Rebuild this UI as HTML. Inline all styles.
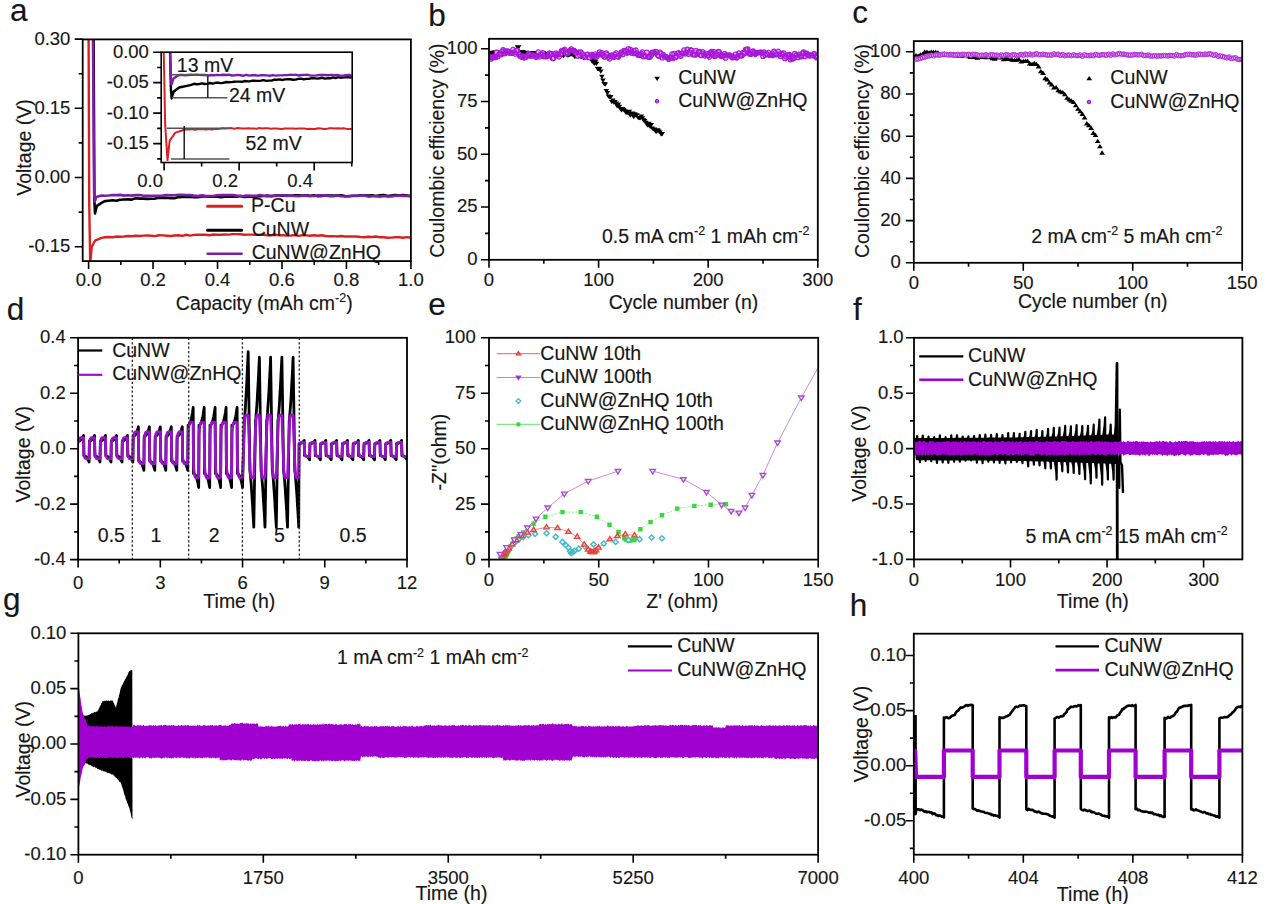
<!DOCTYPE html>
<html><head><meta charset="utf-8"><style>
html,body{margin:0;padding:0;background:#fff;width:1266px;height:904px;overflow:hidden}
svg{display:block}
text{font-family:"Liberation Sans",sans-serif;fill:#161616;stroke:#161616;stroke-width:0.15px}
</style></head><body>
<svg width="1266" height="904" viewBox="0 0 1266 904">
<rect width="1266" height="904" fill="#fff"/>
<text x="10" y="21" font-size="31.5" text-anchor="start">a</text>
<text x="428.2" y="26" font-size="31.5" text-anchor="start">b</text>
<text x="852.2" y="22.5" font-size="31.5" text-anchor="start">c</text>
<text x="6.8" y="320" font-size="31.5" text-anchor="start">d</text>
<text x="428.2" y="314.6" font-size="31.5" text-anchor="start">e</text>
<text x="853" y="319.6" font-size="31.5" text-anchor="start">f</text>
<text x="3" y="610.2" font-size="31.5" text-anchor="start">g</text>
<text x="849.8" y="616" font-size="31.5" text-anchor="start">h</text>
<clipPath id="ca"><rect x="82.7" y="39.4" width="328.2" height="221.7"/></clipPath>
<path d="M88.6,37.4 89.2,200.6 90.2,263.1 91.8,246.7 95.0,240.7 101.5,237.9 104.7,237.3 108.6,237.0 112.5,237.3 116.3,236.5 120.2,236.8 124.1,236.5 128.0,236.0 131.8,236.3 135.7,235.7 139.6,236.0 143.5,235.6 147.3,235.5 151.2,235.8 155.1,236.1 159.0,235.3 162.9,235.4 166.7,235.7 170.6,236.0 174.5,235.5 178.4,235.3 182.2,235.8 186.1,234.8 190.0,235.6 193.9,234.9 197.7,234.7 201.6,234.6 205.5,234.8 209.4,235.2 213.2,234.5 217.1,234.8 221.0,234.8 224.9,234.5 228.7,234.6 232.6,234.1 236.5,234.1 240.4,234.3 244.2,234.8 248.1,234.6 252.0,234.6 255.9,234.9 259.7,234.8 263.6,234.7 267.5,235.3 271.4,235.2 275.2,234.8 279.1,235.2 283.0,235.2 286.9,235.6 290.8,235.5 294.6,235.1 298.5,235.9 302.4,235.1 306.3,235.4 310.1,235.8 314.0,235.3 317.9,235.7 321.8,235.3 325.6,236.0 329.5,236.2 333.4,236.1 337.3,236.5 341.1,236.0 345.0,236.5 348.9,236.5 352.8,236.5 356.6,236.5 360.5,237.0 364.4,237.2 368.3,236.8 372.1,237.0 376.0,236.5 379.9,237.2 383.8,237.3 387.6,237.7 391.5,237.6 395.4,237.2 399.3,237.3 403.1,237.7 407.0,237.1 410.9,237.7" fill="none" stroke="#d82222" stroke-width="2.4" stroke-linejoin="round" clip-path="url(#ca)"/>
<path d="M93.6,37.4 94.4,200.6 95.0,213.5 96.7,206.1 101.5,202.9 104.7,201.1 108.6,200.7 112.5,200.3 116.3,200.8 120.2,199.7 124.1,199.5 128.0,199.4 131.8,199.6 135.7,198.3 139.6,198.6 143.5,198.6 147.3,198.9 151.2,198.7 155.1,198.6 159.0,197.8 162.9,197.9 166.7,197.7 170.6,198.2 174.5,198.2 178.4,197.1 182.2,197.0 186.1,197.0 190.0,196.9 193.9,197.1 197.7,197.1 201.6,196.6 205.5,196.2 209.4,196.7 213.2,196.6 217.1,196.8 221.0,197.2 224.9,196.8 228.7,196.6 232.6,196.7 236.5,196.7 240.4,195.9 244.2,196.9 248.1,196.7 252.0,196.7 255.9,196.6 259.7,196.1 263.6,196.0 267.5,195.6 271.4,196.2 275.2,195.5 279.1,195.5 283.0,195.6 286.9,195.5 290.8,195.7 294.6,195.4 298.5,195.3 302.4,195.5 306.3,195.4 310.1,195.7 314.0,195.3 317.9,196.3 321.8,195.9 325.6,195.4 329.5,195.5 333.4,195.6 337.3,195.6 341.1,195.3 345.0,196.1 348.9,196.3 352.8,195.7 356.6,195.7 360.5,195.2 364.4,195.2 368.3,195.5 372.1,195.3 376.0,196.0 379.9,195.2 383.8,195.0 387.6,196.1 391.5,195.6 395.4,195.1 399.3,195.6 403.1,195.0 407.0,195.5 410.9,196.1" fill="none" stroke="#000" stroke-width="2.6" stroke-linejoin="round" clip-path="url(#ca)"/>
<path d="M93.0,37.4 94.1,191.3 94.7,201.5 96.3,196.9 101.5,195.5 104.7,195.7 108.6,195.5 112.5,195.0 116.3,195.1 120.2,194.9 124.1,195.6 128.0,195.3 131.8,195.6 135.7,195.1 139.6,195.0 143.5,195.7 147.3,195.9 151.2,195.8 155.1,195.7 159.0,195.7 162.9,195.6 166.7,195.0 170.6,195.4 174.5,195.2 178.4,194.8 182.2,194.8 186.1,195.1 190.0,195.1 193.9,195.6 197.7,196.0 201.6,195.4 205.5,195.9 209.4,196.0 213.2,196.0 217.1,195.3 221.0,195.1 224.9,195.1 228.7,195.1 232.6,195.1 236.5,195.6 240.4,196.0 244.2,195.9 248.1,195.5 252.0,195.7 255.9,195.9 259.7,195.0 263.6,195.7 267.5,196.1 271.4,195.9 275.2,195.9 279.1,195.6 283.0,195.2 286.9,196.0 290.8,195.5 294.6,196.0 298.5,196.3 302.4,195.6 306.3,195.6 310.1,196.3 314.0,196.0 317.9,195.4 321.8,195.4 325.6,195.4 329.5,196.3 333.4,196.2 337.3,195.4 341.1,196.3 345.0,196.5 348.9,196.1 352.8,195.8 356.6,196.0 360.5,195.5 364.4,195.4 368.3,196.6 372.1,196.2 376.0,196.1 379.9,196.6 383.8,196.0 387.6,196.5 391.5,196.5 395.4,195.8 399.3,195.8 403.1,195.9 407.0,195.9 410.9,196.3" fill="none" stroke="#7d1fa6" stroke-width="2.6" stroke-linejoin="round" clip-path="url(#ca)"/>
<rect x="161.2" y="52.2" width="191" height="110.3" fill="#fff"/>
<clipPath id="ci"><rect x="161.2" y="52.2" width="191" height="110.3"/></clipPath>
<path d="M163.7,50.2 165.2,125.3 167.5,160.1 169.7,140.6 175.4,132.6 182.9,130.2 186.6,129.3 189.4,129.4 192.2,129.1 195.0,129.8 197.8,129.2 200.6,129.2 203.4,129.3 206.2,129.5 209.0,129.0 211.8,129.4 214.6,128.9 217.4,128.9 220.2,128.8 223.0,128.3 225.8,128.6 228.6,128.3 231.4,128.1 234.2,128.8 237.0,128.1 239.8,128.3 242.6,128.6 245.4,128.4 248.2,128.2 251.0,128.4 253.8,128.5 256.6,128.7 259.4,128.0 262.2,128.5 265.0,128.2 267.8,128.2 270.6,128.7 273.4,128.5 276.2,128.5 279.0,128.7 281.8,128.9 284.6,128.4 287.4,128.6 290.2,128.5 293.0,128.5 295.8,128.7 298.6,128.5 301.4,128.6 304.2,128.5 306.9,129.0 309.7,128.8 312.5,128.9 315.3,129.0 318.1,128.3 320.9,128.6 323.7,129.0 326.5,128.9 329.3,128.2 332.1,128.2 334.9,128.6 337.7,128.2 340.5,128.4 343.3,128.2 346.1,128.8 348.9,128.9 351.7,129.1" fill="none" stroke="#d82222" stroke-width="2.0" stroke-linejoin="round" clip-path="url(#ci)"/>
<path d="M170.1,50.2 170.9,88.8 171.6,98.5 173.5,91.8 179.1,87.5 190.4,85.1 194.1,83.8 196.8,84.3 199.5,84.0 202.1,83.4 204.8,84.0 207.5,83.9 210.1,83.0 212.8,83.6 215.5,82.8 218.2,82.8 220.8,83.1 223.5,82.8 226.2,82.0 228.8,82.2 231.5,82.1 234.2,81.8 236.9,81.6 239.5,81.6 242.2,81.8 244.9,81.0 247.5,81.4 250.2,81.2 252.9,80.6 255.6,80.8 258.2,80.9 260.9,80.7 263.6,80.1 266.2,80.9 268.9,80.6 271.6,80.6 274.3,79.6 276.9,79.7 279.6,79.4 282.3,80.0 284.9,79.4 287.6,79.2 290.3,79.3 293.0,79.7 295.6,79.6 298.3,78.9 301.0,78.7 303.6,79.4 306.3,78.9 309.0,78.9 311.7,78.2 314.3,78.1 317.0,78.6 319.7,78.3 322.3,77.8 325.0,78.6 327.7,78.2 330.4,78.3 333.0,77.4 335.7,78.1 338.4,77.2 341.0,77.9 343.7,77.4 346.4,77.2 349.1,77.3 351.7,77.6" fill="none" stroke="#000" stroke-width="2.4" stroke-linejoin="round" clip-path="url(#ci)"/>
<path d="M169.9,50.2 170.9,79.6 171.6,84.5 173.5,78.4 177.2,76.0 179.1,75.0 182.0,74.9 185.0,75.3 187.9,75.0 190.8,74.8 193.7,74.9 196.7,74.8 199.6,74.9 202.5,75.0 205.4,75.0 208.4,75.5 211.3,75.0 214.2,75.2 217.1,74.9 220.1,75.1 223.0,74.8 225.9,75.0 228.8,74.7 231.8,75.5 234.7,75.3 237.6,74.9 240.5,75.2 243.5,75.7 246.4,74.8 249.3,75.6 252.3,75.2 255.2,75.2 258.1,75.6 261.0,75.1 264.0,75.2 266.9,75.4 269.8,75.7 272.7,75.1 275.7,75.6 278.6,75.4 281.5,75.4 284.4,75.1 287.4,75.1 290.3,74.8 293.2,74.9 296.1,74.8 299.1,75.5 302.0,75.0 304.9,74.9 307.8,74.8 310.8,75.6 313.7,75.6 316.6,75.4 319.5,75.0 322.5,75.0 325.4,75.0 328.3,75.2 331.2,74.9 334.2,75.2 337.1,75.0 340.0,75.7 342.9,75.7 345.9,75.3 348.8,75.0 351.7,75.7" fill="none" stroke="#7d1fa6" stroke-width="2.4" stroke-linejoin="round" clip-path="url(#ci)"/>
<path d="M171 74.8H207M171.9 97.8H227.3M166.7 128.2H229.4M170.9 159H229.4" stroke="#555" stroke-width="1.4"/>
<path d="M207.8 76.2V97.8M184.2 126V159" stroke="#111" stroke-width="1.4"/>
<rect x="161.2" y="52.2" width="191" height="110.3" fill="none" stroke="#000" stroke-width="1.6"/>
<path d="M153.2 52.2H161.2M153.2 82.67H161.2M153.2 113.13H161.2M153.2 143.6H161.2M157.2 67.43H161.2M157.2 97.9H161.2M157.2 128.37H161.2M157.2 158.83H161.2" stroke="#000" stroke-width="1.6" fill="none"/>
<text x="148.9" y="57.6" font-size="18.5" text-anchor="end">0.00</text>
<text x="148.9" y="88.07" font-size="18.5" text-anchor="end">-0.05</text>
<text x="148.9" y="118.53" font-size="18.5" text-anchor="end">-0.10</text>
<text x="148.9" y="149" font-size="18.5" text-anchor="end">-0.15</text>
<path d="M164.1 162.5V170.5M239.15 162.5V170.5M314.2 162.5V170.5M201.62 162.5V166.5M276.67 162.5V166.5M351.73 162.5V166.5" stroke="#000" stroke-width="1.6" fill="none"/>
<text x="150.1" y="187" font-size="18.5" text-anchor="middle">0.0</text>
<text x="225.15" y="187" font-size="18.5" text-anchor="middle">0.2</text>
<text x="300.2" y="187" font-size="18.5" text-anchor="middle">0.4</text>
<text x="176.8" y="72.1" font-size="19.5" text-anchor="start">13 mV</text>
<text x="229" y="101.9" font-size="19.5" text-anchor="start">24 mV</text>
<text x="245.4" y="150.1" font-size="19.5" text-anchor="start">52 mV</text>
<rect x="82.7" y="39.4" width="328.2" height="221.7" fill="none" stroke="#000" stroke-width="1.8"/>
<path d="M74.7 39.1H82.7M74.7 108.3H82.7M74.7 177.5H82.7M74.7 246.7H82.7M78.7 73.7H82.7M78.7 142.9H82.7M78.7 212.1H82.7" stroke="#000" stroke-width="1.6" fill="none"/>
<text x="70.4" y="44.5" font-size="18.5" text-anchor="end">0.30</text>
<text x="70.4" y="113.7" font-size="18.5" text-anchor="end">0.15</text>
<text x="70.4" y="182.9" font-size="18.5" text-anchor="end">0.00</text>
<text x="70.4" y="252.1" font-size="18.5" text-anchor="end">-0.15</text>
<path d="M88.6 261.1V269.1M153.06 261.1V269.1M217.52 261.1V269.1M281.98 261.1V269.1M346.44 261.1V269.1M410.9 261.1V269.1M120.83 261.1V265.1M185.29 261.1V265.1M249.75 261.1V265.1M314.21 261.1V265.1M378.67 261.1V265.1" stroke="#000" stroke-width="1.6" fill="none"/>
<text x="88.6" y="285.9" font-size="18.5" text-anchor="middle">0.0</text>
<text x="153.06" y="285.9" font-size="18.5" text-anchor="middle">0.2</text>
<text x="217.52" y="285.9" font-size="18.5" text-anchor="middle">0.4</text>
<text x="281.98" y="285.9" font-size="18.5" text-anchor="middle">0.6</text>
<text x="346.44" y="285.9" font-size="18.5" text-anchor="middle">0.8</text>
<text x="410.9" y="285.9" font-size="18.5" text-anchor="middle">1.0</text>
<path d="M207.6 206.2H241.6" stroke="#d82222" stroke-width="3" stroke-linecap="round"/>
<path d="M207.6 230.2H241.6" stroke="#000" stroke-width="3" stroke-linecap="round"/>
<path d="M207.6 253.8H241.6" stroke="#7d1fa6" stroke-width="2.6" stroke-linecap="round"/>
<text x="251.1" y="211.6" font-size="19.5" text-anchor="start">P-Cu</text>
<text x="251.7" y="235.6" font-size="19.5" text-anchor="start">CuNW</text>
<text x="251.7" y="259.3" font-size="19.5" text-anchor="start">CuNW@ZnHQ</text>
<text x="175.8" y="310.2" font-size="19.5" text-anchor="start">Capacity (mAh cm<tspan font-size="12.5" dy="-7.8">-2</tspan><tspan dy="7.8">)</tspan></text>
<text transform="translate(31.3 147.5) rotate(-90)" font-size="19.5" text-anchor="middle">Voltage (V)</text>
<clipPath id="cb"><rect x="489" y="38.8" width="328.8" height="221"/></clipPath>
<path d="M487.3 50.9L492.9 50.9L490.1 55.1ZM488.4 50.8L494.0 50.8L491.2 55.0ZM489.5 52.1L495.1 52.1L492.3 56.3ZM490.6 50.7L496.2 50.7L493.4 54.9ZM491.7 50.4L497.3 50.4L494.5 54.6ZM492.8 50.3L498.4 50.3L495.6 54.5ZM493.9 51.5L499.5 51.5L496.7 55.7ZM495.0 50.4L500.6 50.4L497.8 54.6ZM496.1 52.3L501.7 52.3L498.9 56.5ZM497.2 51.4L502.8 51.4L500.0 55.6ZM498.3 52.1L503.9 52.1L501.1 56.3ZM499.4 50.9L505.0 50.9L502.2 55.1ZM500.4 52.3L506.0 52.3L503.2 56.5ZM501.5 52.4L507.1 52.4L504.3 56.6ZM502.6 51.4L508.2 51.4L505.4 55.6ZM503.7 51.7L509.3 51.7L506.5 55.9ZM504.8 50.4L510.4 50.4L507.6 54.6ZM505.9 50.6L511.5 50.6L508.7 54.8ZM507.0 49.8L512.6 49.8L509.8 54.0ZM508.1 50.2L513.7 50.2L510.9 54.4ZM509.2 50.1L514.8 50.1L512.0 54.3ZM510.3 49.5L515.9 49.5L513.1 53.7ZM511.4 51.5L517.0 51.5L514.2 55.7ZM512.5 51.8L518.1 51.8L515.3 56.0ZM513.6 49.3L519.2 49.3L516.4 53.5ZM514.7 45.3L520.3 45.3L517.5 49.5ZM515.8 45.3L521.4 45.3L518.6 49.5ZM516.9 50.9L522.5 50.9L519.7 55.1ZM518.0 53.2L523.6 53.2L520.8 57.4ZM519.1 50.3L524.7 50.3L521.9 54.5ZM520.2 50.1L525.8 50.1L523.0 54.3ZM521.3 51.2L526.9 51.2L524.1 55.4ZM522.4 50.9L528.0 50.9L525.2 55.1ZM523.5 50.7L529.1 50.7L526.3 54.9ZM524.6 53.3L530.2 53.3L527.4 57.5ZM525.7 51.9L531.3 51.9L528.5 56.1ZM526.8 52.1L532.4 52.1L529.6 56.3ZM527.8 50.9L533.4 50.9L530.6 55.1ZM528.9 51.1L534.5 51.1L531.7 55.3ZM530.0 51.1L535.6 51.1L532.8 55.3ZM531.1 52.0L536.7 52.0L533.9 56.2ZM532.2 50.9L537.8 50.9L535.0 55.1ZM533.3 51.7L538.9 51.7L536.1 55.9ZM534.4 51.7L540.0 51.7L537.2 55.9ZM535.5 53.5L541.1 53.5L538.3 57.7ZM536.6 54.3L542.2 54.3L539.4 58.5ZM537.7 53.9L543.3 53.9L540.5 58.1ZM538.8 53.1L544.4 53.1L541.6 57.3ZM539.9 54.1L545.5 54.1L542.7 58.3ZM541.0 51.3L546.6 51.3L543.8 55.5ZM542.1 52.4L547.7 52.4L544.9 56.6ZM543.2 52.2L548.8 52.2L546.0 56.4ZM544.3 52.2L549.9 52.2L547.1 56.4ZM545.4 52.1L551.0 52.1L548.2 56.3ZM546.5 52.8L552.1 52.8L549.3 57.0ZM547.6 54.7L553.2 54.7L550.4 58.9ZM548.7 51.7L554.3 51.7L551.5 55.9ZM549.8 51.9L555.4 51.9L552.6 56.1ZM550.9 52.9L556.5 52.9L553.7 57.1ZM552.0 52.8L557.6 52.8L554.8 57.0ZM553.1 52.3L558.7 52.3L555.9 56.5ZM554.2 54.6L559.8 54.6L557.0 58.8ZM555.2 52.1L560.8 52.1L558.0 56.3ZM556.3 53.9L561.9 53.9L559.1 58.1ZM557.4 54.6L563.0 54.6L560.2 58.8ZM558.5 53.9L564.1 53.9L561.3 58.1ZM559.6 52.2L565.2 52.2L562.4 56.4ZM560.7 54.2L566.3 54.2L563.5 58.4ZM561.8 52.2L567.4 52.2L564.6 56.4ZM562.9 51.3L568.5 51.3L565.7 55.5ZM564.0 53.1L569.6 53.1L566.8 57.3ZM565.1 53.6L570.7 53.6L567.9 57.8ZM566.2 53.2L571.8 53.2L569.0 57.4ZM567.3 52.5L572.9 52.5L570.1 56.7ZM568.4 52.2L574.0 52.2L571.2 56.4ZM569.5 52.8L575.1 52.8L572.3 57.0ZM570.6 52.7L576.2 52.7L573.4 56.9ZM571.7 54.8L577.3 54.8L574.5 59.0ZM572.8 54.6L578.4 54.6L575.6 58.8ZM573.9 54.2L579.5 54.2L576.7 58.4ZM575.0 52.4L580.6 52.4L577.8 56.6ZM576.1 54.0L581.7 54.0L578.9 58.2ZM577.2 53.1L582.8 53.1L580.0 57.3ZM578.3 55.2L583.9 55.2L581.1 59.4ZM579.4 55.0L585.0 55.0L582.2 59.2ZM580.5 54.5L586.1 54.5L583.3 58.7ZM581.6 53.3L587.2 53.3L584.4 57.5ZM582.6 53.5L588.2 53.5L585.4 57.7ZM583.7 53.9L589.3 53.9L586.5 58.1ZM584.8 55.7L590.4 55.7L587.6 59.9ZM585.9 55.1L591.5 55.1L588.7 59.3ZM587.0 55.6L592.6 55.6L589.8 59.8ZM588.1 56.9L593.7 56.9L590.9 61.1ZM589.2 59.4L594.8 59.4L592.0 63.6ZM590.3 57.8L595.9 57.8L593.1 62.0ZM591.4 61.7L597.0 61.7L594.2 65.9ZM592.5 60.0L598.1 60.0L595.3 64.2ZM593.6 61.7L599.2 61.7L596.4 65.9ZM594.7 66.8L600.3 66.8L597.5 71.0ZM595.8 66.7L601.4 66.7L598.6 70.9ZM596.9 66.9L602.5 66.9L599.7 71.1ZM598.0 69.5L603.6 69.5L600.8 73.7ZM599.1 74.7L604.7 74.7L601.9 78.9ZM600.2 78.5L605.8 78.5L603.0 82.7ZM601.3 81.9L606.9 81.9L604.1 86.1ZM602.4 82.6L608.0 82.6L605.2 86.8ZM603.5 88.9L609.1 88.9L606.3 93.1ZM604.6 91.0L610.2 91.0L607.4 95.2ZM605.7 94.6L611.3 94.6L608.5 98.8ZM606.8 95.0L612.4 95.0L609.6 99.2ZM607.9 95.2L613.5 95.2L610.7 99.4ZM609.0 100.1L614.6 100.1L611.8 104.3ZM610.0 98.4L615.6 98.4L612.8 102.6ZM611.1 100.5L616.7 100.5L613.9 104.7ZM612.2 99.9L617.8 99.9L615.0 104.1ZM613.3 101.5L618.9 101.5L616.1 105.7ZM614.4 104.2L620.0 104.2L617.2 108.4ZM615.5 102.5L621.1 102.5L618.3 106.7ZM616.6 104.8L622.2 104.8L619.4 109.0ZM617.7 107.3L623.3 107.3L620.5 111.5ZM618.8 108.2L624.4 108.2L621.6 112.4ZM619.9 107.1L625.5 107.1L622.7 111.3ZM621.0 108.0L626.6 108.0L623.8 112.2ZM622.1 109.3L627.7 109.3L624.9 113.5ZM623.2 110.7L628.8 110.7L626.0 114.9ZM624.3 110.5L629.9 110.5L627.1 114.7ZM625.4 111.2L631.0 111.2L628.2 115.4ZM626.5 109.8L632.1 109.8L629.3 114.0ZM627.6 113.6L633.2 113.6L630.4 117.8ZM628.7 111.4L634.3 111.4L631.5 115.6ZM629.8 111.6L635.4 111.6L632.6 115.8ZM630.9 115.0L636.5 115.0L633.7 119.2ZM632.0 112.3L637.6 112.3L634.8 116.5ZM633.1 113.5L638.7 113.5L635.9 117.7ZM634.2 113.2L639.8 113.2L637.0 117.4ZM635.3 115.9L640.9 115.9L638.1 120.1ZM636.4 116.0L642.0 116.0L639.2 120.2ZM637.4 116.3L643.0 116.3L640.2 120.5ZM638.5 114.4L644.1 114.4L641.3 118.6ZM639.6 116.3L645.2 116.3L642.4 120.5ZM640.7 118.3L646.3 118.3L643.5 122.5ZM641.8 119.1L647.4 119.1L644.6 123.3ZM642.9 120.7L648.5 120.7L645.7 124.9ZM644.0 122.6L649.6 122.6L646.8 126.8ZM645.1 123.5L650.7 123.5L647.9 127.7ZM646.2 121.7L651.8 121.7L649.0 125.9ZM647.3 124.7L652.9 124.7L650.1 128.9ZM648.4 123.1L654.0 123.1L651.2 127.3ZM649.5 126.6L655.1 126.6L652.3 130.8ZM650.6 127.4L656.2 127.4L653.4 131.6ZM651.7 127.4L657.3 127.4L654.5 131.6ZM652.8 129.5L658.4 129.5L655.6 133.7ZM653.9 129.7L659.5 129.7L656.7 133.9ZM655.0 128.3L660.6 128.3L657.8 132.5ZM656.1 129.5L661.7 129.5L658.9 133.7ZM657.2 130.6L662.8 130.6L660.0 134.8ZM658.3 132.2L663.9 132.2L661.1 136.4ZM659.4 132.0L665.0 132.0L662.2 136.2Z" fill="#000" clip-path="url(#cb)"/>
<path d="M487.8 57.2a2.3 2.3 0 1 0 4.6 0a2.3 2.3 0 1 0 -4.6 0M488.9 58.8a2.3 2.3 0 1 0 4.6 0a2.3 2.3 0 1 0 -4.6 0M490.0 57.1a2.3 2.3 0 1 0 4.6 0a2.3 2.3 0 1 0 -4.6 0M491.1 57.6a2.3 2.3 0 1 0 4.6 0a2.3 2.3 0 1 0 -4.6 0M492.2 56.3a2.3 2.3 0 1 0 4.6 0a2.3 2.3 0 1 0 -4.6 0M493.3 57.4a2.3 2.3 0 1 0 4.6 0a2.3 2.3 0 1 0 -4.6 0M494.4 52.4a2.3 2.3 0 1 0 4.6 0a2.3 2.3 0 1 0 -4.6 0M495.5 56.5a2.3 2.3 0 1 0 4.6 0a2.3 2.3 0 1 0 -4.6 0M496.6 54.2a2.3 2.3 0 1 0 4.6 0a2.3 2.3 0 1 0 -4.6 0M497.7 54.5a2.3 2.3 0 1 0 4.6 0a2.3 2.3 0 1 0 -4.6 0M498.8 54.4a2.3 2.3 0 1 0 4.6 0a2.3 2.3 0 1 0 -4.6 0M499.9 51.6a2.3 2.3 0 1 0 4.6 0a2.3 2.3 0 1 0 -4.6 0M500.9 49.9a2.3 2.3 0 1 0 4.6 0a2.3 2.3 0 1 0 -4.6 0M502.0 53.4a2.3 2.3 0 1 0 4.6 0a2.3 2.3 0 1 0 -4.6 0M503.1 50.9a2.3 2.3 0 1 0 4.6 0a2.3 2.3 0 1 0 -4.6 0M504.2 52.6a2.3 2.3 0 1 0 4.6 0a2.3 2.3 0 1 0 -4.6 0M505.3 51.0a2.3 2.3 0 1 0 4.6 0a2.3 2.3 0 1 0 -4.6 0M506.4 51.8a2.3 2.3 0 1 0 4.6 0a2.3 2.3 0 1 0 -4.6 0M507.5 53.1a2.3 2.3 0 1 0 4.6 0a2.3 2.3 0 1 0 -4.6 0M508.6 53.2a2.3 2.3 0 1 0 4.6 0a2.3 2.3 0 1 0 -4.6 0M509.7 53.1a2.3 2.3 0 1 0 4.6 0a2.3 2.3 0 1 0 -4.6 0M510.8 49.5a2.3 2.3 0 1 0 4.6 0a2.3 2.3 0 1 0 -4.6 0M511.9 52.1a2.3 2.3 0 1 0 4.6 0a2.3 2.3 0 1 0 -4.6 0M513.0 54.0a2.3 2.3 0 1 0 4.6 0a2.3 2.3 0 1 0 -4.6 0M514.1 50.6a2.3 2.3 0 1 0 4.6 0a2.3 2.3 0 1 0 -4.6 0M515.2 50.6a2.3 2.3 0 1 0 4.6 0a2.3 2.3 0 1 0 -4.6 0M516.3 54.0a2.3 2.3 0 1 0 4.6 0a2.3 2.3 0 1 0 -4.6 0M517.4 56.1a2.3 2.3 0 1 0 4.6 0a2.3 2.3 0 1 0 -4.6 0M518.5 56.3a2.3 2.3 0 1 0 4.6 0a2.3 2.3 0 1 0 -4.6 0M519.6 57.2a2.3 2.3 0 1 0 4.6 0a2.3 2.3 0 1 0 -4.6 0M520.7 56.1a2.3 2.3 0 1 0 4.6 0a2.3 2.3 0 1 0 -4.6 0M521.8 57.8a2.3 2.3 0 1 0 4.6 0a2.3 2.3 0 1 0 -4.6 0M522.9 57.1a2.3 2.3 0 1 0 4.6 0a2.3 2.3 0 1 0 -4.6 0M524.0 57.1a2.3 2.3 0 1 0 4.6 0a2.3 2.3 0 1 0 -4.6 0M525.1 55.5a2.3 2.3 0 1 0 4.6 0a2.3 2.3 0 1 0 -4.6 0M526.2 53.7a2.3 2.3 0 1 0 4.6 0a2.3 2.3 0 1 0 -4.6 0M527.3 54.4a2.3 2.3 0 1 0 4.6 0a2.3 2.3 0 1 0 -4.6 0M528.3 56.1a2.3 2.3 0 1 0 4.6 0a2.3 2.3 0 1 0 -4.6 0M529.4 56.0a2.3 2.3 0 1 0 4.6 0a2.3 2.3 0 1 0 -4.6 0M530.5 55.2a2.3 2.3 0 1 0 4.6 0a2.3 2.3 0 1 0 -4.6 0M531.6 55.8a2.3 2.3 0 1 0 4.6 0a2.3 2.3 0 1 0 -4.6 0M532.7 55.9a2.3 2.3 0 1 0 4.6 0a2.3 2.3 0 1 0 -4.6 0M533.8 57.2a2.3 2.3 0 1 0 4.6 0a2.3 2.3 0 1 0 -4.6 0M534.9 55.9a2.3 2.3 0 1 0 4.6 0a2.3 2.3 0 1 0 -4.6 0M536.0 52.1a2.3 2.3 0 1 0 4.6 0a2.3 2.3 0 1 0 -4.6 0M537.1 56.7a2.3 2.3 0 1 0 4.6 0a2.3 2.3 0 1 0 -4.6 0M538.2 54.6a2.3 2.3 0 1 0 4.6 0a2.3 2.3 0 1 0 -4.6 0M539.3 54.0a2.3 2.3 0 1 0 4.6 0a2.3 2.3 0 1 0 -4.6 0M540.4 52.8a2.3 2.3 0 1 0 4.6 0a2.3 2.3 0 1 0 -4.6 0M541.5 56.5a2.3 2.3 0 1 0 4.6 0a2.3 2.3 0 1 0 -4.6 0M542.6 56.4a2.3 2.3 0 1 0 4.6 0a2.3 2.3 0 1 0 -4.6 0M543.7 56.7a2.3 2.3 0 1 0 4.6 0a2.3 2.3 0 1 0 -4.6 0M544.8 56.0a2.3 2.3 0 1 0 4.6 0a2.3 2.3 0 1 0 -4.6 0M545.9 55.9a2.3 2.3 0 1 0 4.6 0a2.3 2.3 0 1 0 -4.6 0M547.0 53.2a2.3 2.3 0 1 0 4.6 0a2.3 2.3 0 1 0 -4.6 0M548.1 53.9a2.3 2.3 0 1 0 4.6 0a2.3 2.3 0 1 0 -4.6 0M549.2 53.7a2.3 2.3 0 1 0 4.6 0a2.3 2.3 0 1 0 -4.6 0M550.3 58.4a2.3 2.3 0 1 0 4.6 0a2.3 2.3 0 1 0 -4.6 0M551.4 58.2a2.3 2.3 0 1 0 4.6 0a2.3 2.3 0 1 0 -4.6 0M552.5 54.3a2.3 2.3 0 1 0 4.6 0a2.3 2.3 0 1 0 -4.6 0M553.6 53.0a2.3 2.3 0 1 0 4.6 0a2.3 2.3 0 1 0 -4.6 0M554.7 55.0a2.3 2.3 0 1 0 4.6 0a2.3 2.3 0 1 0 -4.6 0M555.7 54.0a2.3 2.3 0 1 0 4.6 0a2.3 2.3 0 1 0 -4.6 0M556.8 56.8a2.3 2.3 0 1 0 4.6 0a2.3 2.3 0 1 0 -4.6 0M557.9 54.2a2.3 2.3 0 1 0 4.6 0a2.3 2.3 0 1 0 -4.6 0M559.0 50.9a2.3 2.3 0 1 0 4.6 0a2.3 2.3 0 1 0 -4.6 0M560.1 51.0a2.3 2.3 0 1 0 4.6 0a2.3 2.3 0 1 0 -4.6 0M561.2 50.4a2.3 2.3 0 1 0 4.6 0a2.3 2.3 0 1 0 -4.6 0M562.3 49.4a2.3 2.3 0 1 0 4.6 0a2.3 2.3 0 1 0 -4.6 0M563.4 53.1a2.3 2.3 0 1 0 4.6 0a2.3 2.3 0 1 0 -4.6 0M564.5 53.6a2.3 2.3 0 1 0 4.6 0a2.3 2.3 0 1 0 -4.6 0M565.6 53.2a2.3 2.3 0 1 0 4.6 0a2.3 2.3 0 1 0 -4.6 0M566.7 51.1a2.3 2.3 0 1 0 4.6 0a2.3 2.3 0 1 0 -4.6 0M567.8 50.3a2.3 2.3 0 1 0 4.6 0a2.3 2.3 0 1 0 -4.6 0M568.9 49.0a2.3 2.3 0 1 0 4.6 0a2.3 2.3 0 1 0 -4.6 0M570.0 50.4a2.3 2.3 0 1 0 4.6 0a2.3 2.3 0 1 0 -4.6 0M571.1 51.0a2.3 2.3 0 1 0 4.6 0a2.3 2.3 0 1 0 -4.6 0M572.2 50.7a2.3 2.3 0 1 0 4.6 0a2.3 2.3 0 1 0 -4.6 0M573.3 52.8a2.3 2.3 0 1 0 4.6 0a2.3 2.3 0 1 0 -4.6 0M574.4 52.7a2.3 2.3 0 1 0 4.6 0a2.3 2.3 0 1 0 -4.6 0M575.5 55.9a2.3 2.3 0 1 0 4.6 0a2.3 2.3 0 1 0 -4.6 0M576.6 52.2a2.3 2.3 0 1 0 4.6 0a2.3 2.3 0 1 0 -4.6 0M577.7 55.6a2.3 2.3 0 1 0 4.6 0a2.3 2.3 0 1 0 -4.6 0M578.8 52.2a2.3 2.3 0 1 0 4.6 0a2.3 2.3 0 1 0 -4.6 0M579.9 54.0a2.3 2.3 0 1 0 4.6 0a2.3 2.3 0 1 0 -4.6 0M581.0 56.1a2.3 2.3 0 1 0 4.6 0a2.3 2.3 0 1 0 -4.6 0M582.1 57.3a2.3 2.3 0 1 0 4.6 0a2.3 2.3 0 1 0 -4.6 0M583.1 56.7a2.3 2.3 0 1 0 4.6 0a2.3 2.3 0 1 0 -4.6 0M584.2 54.6a2.3 2.3 0 1 0 4.6 0a2.3 2.3 0 1 0 -4.6 0M585.3 54.3a2.3 2.3 0 1 0 4.6 0a2.3 2.3 0 1 0 -4.6 0M586.4 57.5a2.3 2.3 0 1 0 4.6 0a2.3 2.3 0 1 0 -4.6 0M587.5 57.6a2.3 2.3 0 1 0 4.6 0a2.3 2.3 0 1 0 -4.6 0M588.6 55.0a2.3 2.3 0 1 0 4.6 0a2.3 2.3 0 1 0 -4.6 0M589.7 54.5a2.3 2.3 0 1 0 4.6 0a2.3 2.3 0 1 0 -4.6 0M590.8 55.5a2.3 2.3 0 1 0 4.6 0a2.3 2.3 0 1 0 -4.6 0M591.9 56.2a2.3 2.3 0 1 0 4.6 0a2.3 2.3 0 1 0 -4.6 0M593.0 54.1a2.3 2.3 0 1 0 4.6 0a2.3 2.3 0 1 0 -4.6 0M594.1 57.2a2.3 2.3 0 1 0 4.6 0a2.3 2.3 0 1 0 -4.6 0M595.2 55.6a2.3 2.3 0 1 0 4.6 0a2.3 2.3 0 1 0 -4.6 0M596.3 54.8a2.3 2.3 0 1 0 4.6 0a2.3 2.3 0 1 0 -4.6 0M597.4 52.1a2.3 2.3 0 1 0 4.6 0a2.3 2.3 0 1 0 -4.6 0M598.5 54.0a2.3 2.3 0 1 0 4.6 0a2.3 2.3 0 1 0 -4.6 0M599.6 52.8a2.3 2.3 0 1 0 4.6 0a2.3 2.3 0 1 0 -4.6 0M600.7 55.2a2.3 2.3 0 1 0 4.6 0a2.3 2.3 0 1 0 -4.6 0M601.8 56.8a2.3 2.3 0 1 0 4.6 0a2.3 2.3 0 1 0 -4.6 0M602.9 56.9a2.3 2.3 0 1 0 4.6 0a2.3 2.3 0 1 0 -4.6 0M604.0 53.2a2.3 2.3 0 1 0 4.6 0a2.3 2.3 0 1 0 -4.6 0M605.1 54.8a2.3 2.3 0 1 0 4.6 0a2.3 2.3 0 1 0 -4.6 0M606.2 57.1a2.3 2.3 0 1 0 4.6 0a2.3 2.3 0 1 0 -4.6 0M607.3 58.8a2.3 2.3 0 1 0 4.6 0a2.3 2.3 0 1 0 -4.6 0M608.4 56.2a2.3 2.3 0 1 0 4.6 0a2.3 2.3 0 1 0 -4.6 0M609.5 55.2a2.3 2.3 0 1 0 4.6 0a2.3 2.3 0 1 0 -4.6 0M610.5 56.5a2.3 2.3 0 1 0 4.6 0a2.3 2.3 0 1 0 -4.6 0M611.6 57.2a2.3 2.3 0 1 0 4.6 0a2.3 2.3 0 1 0 -4.6 0M612.7 54.7a2.3 2.3 0 1 0 4.6 0a2.3 2.3 0 1 0 -4.6 0M613.8 53.0a2.3 2.3 0 1 0 4.6 0a2.3 2.3 0 1 0 -4.6 0M614.9 56.5a2.3 2.3 0 1 0 4.6 0a2.3 2.3 0 1 0 -4.6 0M616.0 57.1a2.3 2.3 0 1 0 4.6 0a2.3 2.3 0 1 0 -4.6 0M617.1 55.0a2.3 2.3 0 1 0 4.6 0a2.3 2.3 0 1 0 -4.6 0M618.2 54.1a2.3 2.3 0 1 0 4.6 0a2.3 2.3 0 1 0 -4.6 0M619.3 52.2a2.3 2.3 0 1 0 4.6 0a2.3 2.3 0 1 0 -4.6 0M620.4 54.4a2.3 2.3 0 1 0 4.6 0a2.3 2.3 0 1 0 -4.6 0M621.5 50.7a2.3 2.3 0 1 0 4.6 0a2.3 2.3 0 1 0 -4.6 0M622.6 50.7a2.3 2.3 0 1 0 4.6 0a2.3 2.3 0 1 0 -4.6 0M623.7 51.7a2.3 2.3 0 1 0 4.6 0a2.3 2.3 0 1 0 -4.6 0M624.8 53.1a2.3 2.3 0 1 0 4.6 0a2.3 2.3 0 1 0 -4.6 0M625.9 48.8a2.3 2.3 0 1 0 4.6 0a2.3 2.3 0 1 0 -4.6 0M627.0 52.4a2.3 2.3 0 1 0 4.6 0a2.3 2.3 0 1 0 -4.6 0M628.1 49.6a2.3 2.3 0 1 0 4.6 0a2.3 2.3 0 1 0 -4.6 0M629.2 53.0a2.3 2.3 0 1 0 4.6 0a2.3 2.3 0 1 0 -4.6 0M630.3 53.3a2.3 2.3 0 1 0 4.6 0a2.3 2.3 0 1 0 -4.6 0M631.4 50.6a2.3 2.3 0 1 0 4.6 0a2.3 2.3 0 1 0 -4.6 0M632.5 53.5a2.3 2.3 0 1 0 4.6 0a2.3 2.3 0 1 0 -4.6 0M633.6 50.2a2.3 2.3 0 1 0 4.6 0a2.3 2.3 0 1 0 -4.6 0M634.7 53.1a2.3 2.3 0 1 0 4.6 0a2.3 2.3 0 1 0 -4.6 0M635.8 55.1a2.3 2.3 0 1 0 4.6 0a2.3 2.3 0 1 0 -4.6 0M636.9 55.3a2.3 2.3 0 1 0 4.6 0a2.3 2.3 0 1 0 -4.6 0M637.9 54.5a2.3 2.3 0 1 0 4.6 0a2.3 2.3 0 1 0 -4.6 0M639.0 53.5a2.3 2.3 0 1 0 4.6 0a2.3 2.3 0 1 0 -4.6 0M640.1 52.1a2.3 2.3 0 1 0 4.6 0a2.3 2.3 0 1 0 -4.6 0M641.2 56.7a2.3 2.3 0 1 0 4.6 0a2.3 2.3 0 1 0 -4.6 0M642.3 55.5a2.3 2.3 0 1 0 4.6 0a2.3 2.3 0 1 0 -4.6 0M643.4 56.5a2.3 2.3 0 1 0 4.6 0a2.3 2.3 0 1 0 -4.6 0M644.5 52.3a2.3 2.3 0 1 0 4.6 0a2.3 2.3 0 1 0 -4.6 0M645.6 56.8a2.3 2.3 0 1 0 4.6 0a2.3 2.3 0 1 0 -4.6 0M646.7 57.3a2.3 2.3 0 1 0 4.6 0a2.3 2.3 0 1 0 -4.6 0M647.8 57.1a2.3 2.3 0 1 0 4.6 0a2.3 2.3 0 1 0 -4.6 0M648.9 55.2a2.3 2.3 0 1 0 4.6 0a2.3 2.3 0 1 0 -4.6 0M650.0 52.3a2.3 2.3 0 1 0 4.6 0a2.3 2.3 0 1 0 -4.6 0M651.1 52.3a2.3 2.3 0 1 0 4.6 0a2.3 2.3 0 1 0 -4.6 0M652.2 53.0a2.3 2.3 0 1 0 4.6 0a2.3 2.3 0 1 0 -4.6 0M653.3 51.5a2.3 2.3 0 1 0 4.6 0a2.3 2.3 0 1 0 -4.6 0M654.4 51.9a2.3 2.3 0 1 0 4.6 0a2.3 2.3 0 1 0 -4.6 0M655.5 55.3a2.3 2.3 0 1 0 4.6 0a2.3 2.3 0 1 0 -4.6 0M656.6 56.2a2.3 2.3 0 1 0 4.6 0a2.3 2.3 0 1 0 -4.6 0M657.7 52.3a2.3 2.3 0 1 0 4.6 0a2.3 2.3 0 1 0 -4.6 0M658.8 53.5a2.3 2.3 0 1 0 4.6 0a2.3 2.3 0 1 0 -4.6 0M659.9 57.7a2.3 2.3 0 1 0 4.6 0a2.3 2.3 0 1 0 -4.6 0M661.0 54.5a2.3 2.3 0 1 0 4.6 0a2.3 2.3 0 1 0 -4.6 0M662.1 56.3a2.3 2.3 0 1 0 4.6 0a2.3 2.3 0 1 0 -4.6 0M663.2 56.6a2.3 2.3 0 1 0 4.6 0a2.3 2.3 0 1 0 -4.6 0M664.3 57.1a2.3 2.3 0 1 0 4.6 0a2.3 2.3 0 1 0 -4.6 0M665.3 58.1a2.3 2.3 0 1 0 4.6 0a2.3 2.3 0 1 0 -4.6 0M666.4 59.2a2.3 2.3 0 1 0 4.6 0a2.3 2.3 0 1 0 -4.6 0M667.5 57.8a2.3 2.3 0 1 0 4.6 0a2.3 2.3 0 1 0 -4.6 0M668.6 57.4a2.3 2.3 0 1 0 4.6 0a2.3 2.3 0 1 0 -4.6 0M669.7 54.0a2.3 2.3 0 1 0 4.6 0a2.3 2.3 0 1 0 -4.6 0M670.8 58.4a2.3 2.3 0 1 0 4.6 0a2.3 2.3 0 1 0 -4.6 0M671.9 53.6a2.3 2.3 0 1 0 4.6 0a2.3 2.3 0 1 0 -4.6 0M673.0 57.4a2.3 2.3 0 1 0 4.6 0a2.3 2.3 0 1 0 -4.6 0M674.1 56.2a2.3 2.3 0 1 0 4.6 0a2.3 2.3 0 1 0 -4.6 0M675.2 53.3a2.3 2.3 0 1 0 4.6 0a2.3 2.3 0 1 0 -4.6 0M676.3 52.8a2.3 2.3 0 1 0 4.6 0a2.3 2.3 0 1 0 -4.6 0M677.4 54.5a2.3 2.3 0 1 0 4.6 0a2.3 2.3 0 1 0 -4.6 0M678.5 56.1a2.3 2.3 0 1 0 4.6 0a2.3 2.3 0 1 0 -4.6 0M679.6 53.3a2.3 2.3 0 1 0 4.6 0a2.3 2.3 0 1 0 -4.6 0M680.7 53.4a2.3 2.3 0 1 0 4.6 0a2.3 2.3 0 1 0 -4.6 0M681.8 50.0a2.3 2.3 0 1 0 4.6 0a2.3 2.3 0 1 0 -4.6 0M682.9 53.7a2.3 2.3 0 1 0 4.6 0a2.3 2.3 0 1 0 -4.6 0M684.0 52.5a2.3 2.3 0 1 0 4.6 0a2.3 2.3 0 1 0 -4.6 0M685.1 49.4a2.3 2.3 0 1 0 4.6 0a2.3 2.3 0 1 0 -4.6 0M686.2 54.1a2.3 2.3 0 1 0 4.6 0a2.3 2.3 0 1 0 -4.6 0M687.3 52.0a2.3 2.3 0 1 0 4.6 0a2.3 2.3 0 1 0 -4.6 0M688.4 49.9a2.3 2.3 0 1 0 4.6 0a2.3 2.3 0 1 0 -4.6 0M689.5 50.3a2.3 2.3 0 1 0 4.6 0a2.3 2.3 0 1 0 -4.6 0M690.6 54.5a2.3 2.3 0 1 0 4.6 0a2.3 2.3 0 1 0 -4.6 0M691.7 54.8a2.3 2.3 0 1 0 4.6 0a2.3 2.3 0 1 0 -4.6 0M692.7 55.0a2.3 2.3 0 1 0 4.6 0a2.3 2.3 0 1 0 -4.6 0M693.8 50.6a2.3 2.3 0 1 0 4.6 0a2.3 2.3 0 1 0 -4.6 0M694.9 54.5a2.3 2.3 0 1 0 4.6 0a2.3 2.3 0 1 0 -4.6 0M696.0 52.2a2.3 2.3 0 1 0 4.6 0a2.3 2.3 0 1 0 -4.6 0M697.1 51.6a2.3 2.3 0 1 0 4.6 0a2.3 2.3 0 1 0 -4.6 0M698.2 54.9a2.3 2.3 0 1 0 4.6 0a2.3 2.3 0 1 0 -4.6 0M699.3 55.5a2.3 2.3 0 1 0 4.6 0a2.3 2.3 0 1 0 -4.6 0M700.4 51.8a2.3 2.3 0 1 0 4.6 0a2.3 2.3 0 1 0 -4.6 0M701.5 53.8a2.3 2.3 0 1 0 4.6 0a2.3 2.3 0 1 0 -4.6 0M702.6 55.8a2.3 2.3 0 1 0 4.6 0a2.3 2.3 0 1 0 -4.6 0M703.7 53.3a2.3 2.3 0 1 0 4.6 0a2.3 2.3 0 1 0 -4.6 0M704.8 55.4a2.3 2.3 0 1 0 4.6 0a2.3 2.3 0 1 0 -4.6 0M705.9 55.6a2.3 2.3 0 1 0 4.6 0a2.3 2.3 0 1 0 -4.6 0M707.0 56.9a2.3 2.3 0 1 0 4.6 0a2.3 2.3 0 1 0 -4.6 0M708.1 52.7a2.3 2.3 0 1 0 4.6 0a2.3 2.3 0 1 0 -4.6 0M709.2 51.7a2.3 2.3 0 1 0 4.6 0a2.3 2.3 0 1 0 -4.6 0M710.3 53.2a2.3 2.3 0 1 0 4.6 0a2.3 2.3 0 1 0 -4.6 0M711.4 51.5a2.3 2.3 0 1 0 4.6 0a2.3 2.3 0 1 0 -4.6 0M712.5 56.5a2.3 2.3 0 1 0 4.6 0a2.3 2.3 0 1 0 -4.6 0M713.6 55.4a2.3 2.3 0 1 0 4.6 0a2.3 2.3 0 1 0 -4.6 0M714.7 54.2a2.3 2.3 0 1 0 4.6 0a2.3 2.3 0 1 0 -4.6 0M715.8 51.7a2.3 2.3 0 1 0 4.6 0a2.3 2.3 0 1 0 -4.6 0M716.9 51.9a2.3 2.3 0 1 0 4.6 0a2.3 2.3 0 1 0 -4.6 0M718.0 55.3a2.3 2.3 0 1 0 4.6 0a2.3 2.3 0 1 0 -4.6 0M719.1 56.3a2.3 2.3 0 1 0 4.6 0a2.3 2.3 0 1 0 -4.6 0M720.1 55.7a2.3 2.3 0 1 0 4.6 0a2.3 2.3 0 1 0 -4.6 0M721.2 55.7a2.3 2.3 0 1 0 4.6 0a2.3 2.3 0 1 0 -4.6 0M722.3 53.6a2.3 2.3 0 1 0 4.6 0a2.3 2.3 0 1 0 -4.6 0M723.4 58.0a2.3 2.3 0 1 0 4.6 0a2.3 2.3 0 1 0 -4.6 0M724.5 54.8a2.3 2.3 0 1 0 4.6 0a2.3 2.3 0 1 0 -4.6 0M725.6 55.4a2.3 2.3 0 1 0 4.6 0a2.3 2.3 0 1 0 -4.6 0M726.7 55.0a2.3 2.3 0 1 0 4.6 0a2.3 2.3 0 1 0 -4.6 0M727.8 55.4a2.3 2.3 0 1 0 4.6 0a2.3 2.3 0 1 0 -4.6 0M728.9 56.2a2.3 2.3 0 1 0 4.6 0a2.3 2.3 0 1 0 -4.6 0M730.0 57.7a2.3 2.3 0 1 0 4.6 0a2.3 2.3 0 1 0 -4.6 0M731.1 57.5a2.3 2.3 0 1 0 4.6 0a2.3 2.3 0 1 0 -4.6 0M732.2 57.0a2.3 2.3 0 1 0 4.6 0a2.3 2.3 0 1 0 -4.6 0M733.3 54.3a2.3 2.3 0 1 0 4.6 0a2.3 2.3 0 1 0 -4.6 0M734.4 57.8a2.3 2.3 0 1 0 4.6 0a2.3 2.3 0 1 0 -4.6 0M735.5 56.7a2.3 2.3 0 1 0 4.6 0a2.3 2.3 0 1 0 -4.6 0M736.6 53.2a2.3 2.3 0 1 0 4.6 0a2.3 2.3 0 1 0 -4.6 0M737.7 55.5a2.3 2.3 0 1 0 4.6 0a2.3 2.3 0 1 0 -4.6 0M738.8 56.0a2.3 2.3 0 1 0 4.6 0a2.3 2.3 0 1 0 -4.6 0M739.9 55.7a2.3 2.3 0 1 0 4.6 0a2.3 2.3 0 1 0 -4.6 0M741.0 52.5a2.3 2.3 0 1 0 4.6 0a2.3 2.3 0 1 0 -4.6 0M742.1 53.4a2.3 2.3 0 1 0 4.6 0a2.3 2.3 0 1 0 -4.6 0M743.2 49.5a2.3 2.3 0 1 0 4.6 0a2.3 2.3 0 1 0 -4.6 0M744.3 49.9a2.3 2.3 0 1 0 4.6 0a2.3 2.3 0 1 0 -4.6 0M745.4 49.2a2.3 2.3 0 1 0 4.6 0a2.3 2.3 0 1 0 -4.6 0M746.5 53.1a2.3 2.3 0 1 0 4.6 0a2.3 2.3 0 1 0 -4.6 0M747.5 54.1a2.3 2.3 0 1 0 4.6 0a2.3 2.3 0 1 0 -4.6 0M748.6 54.2a2.3 2.3 0 1 0 4.6 0a2.3 2.3 0 1 0 -4.6 0M749.7 52.1a2.3 2.3 0 1 0 4.6 0a2.3 2.3 0 1 0 -4.6 0M750.8 51.2a2.3 2.3 0 1 0 4.6 0a2.3 2.3 0 1 0 -4.6 0M751.9 52.9a2.3 2.3 0 1 0 4.6 0a2.3 2.3 0 1 0 -4.6 0M753.0 54.3a2.3 2.3 0 1 0 4.6 0a2.3 2.3 0 1 0 -4.6 0M754.1 53.6a2.3 2.3 0 1 0 4.6 0a2.3 2.3 0 1 0 -4.6 0M755.2 52.7a2.3 2.3 0 1 0 4.6 0a2.3 2.3 0 1 0 -4.6 0M756.3 52.6a2.3 2.3 0 1 0 4.6 0a2.3 2.3 0 1 0 -4.6 0M757.4 52.4a2.3 2.3 0 1 0 4.6 0a2.3 2.3 0 1 0 -4.6 0M758.5 52.0a2.3 2.3 0 1 0 4.6 0a2.3 2.3 0 1 0 -4.6 0M759.6 53.1a2.3 2.3 0 1 0 4.6 0a2.3 2.3 0 1 0 -4.6 0M760.7 56.2a2.3 2.3 0 1 0 4.6 0a2.3 2.3 0 1 0 -4.6 0M761.8 52.2a2.3 2.3 0 1 0 4.6 0a2.3 2.3 0 1 0 -4.6 0M762.9 55.2a2.3 2.3 0 1 0 4.6 0a2.3 2.3 0 1 0 -4.6 0M764.0 53.6a2.3 2.3 0 1 0 4.6 0a2.3 2.3 0 1 0 -4.6 0M765.1 54.6a2.3 2.3 0 1 0 4.6 0a2.3 2.3 0 1 0 -4.6 0M766.2 52.5a2.3 2.3 0 1 0 4.6 0a2.3 2.3 0 1 0 -4.6 0M767.3 55.3a2.3 2.3 0 1 0 4.6 0a2.3 2.3 0 1 0 -4.6 0M768.4 54.9a2.3 2.3 0 1 0 4.6 0a2.3 2.3 0 1 0 -4.6 0M769.5 54.9a2.3 2.3 0 1 0 4.6 0a2.3 2.3 0 1 0 -4.6 0M770.6 55.4a2.3 2.3 0 1 0 4.6 0a2.3 2.3 0 1 0 -4.6 0M771.7 51.4a2.3 2.3 0 1 0 4.6 0a2.3 2.3 0 1 0 -4.6 0M772.8 53.1a2.3 2.3 0 1 0 4.6 0a2.3 2.3 0 1 0 -4.6 0M773.9 54.6a2.3 2.3 0 1 0 4.6 0a2.3 2.3 0 1 0 -4.6 0M774.9 54.4a2.3 2.3 0 1 0 4.6 0a2.3 2.3 0 1 0 -4.6 0M776.0 51.4a2.3 2.3 0 1 0 4.6 0a2.3 2.3 0 1 0 -4.6 0M777.1 54.4a2.3 2.3 0 1 0 4.6 0a2.3 2.3 0 1 0 -4.6 0M778.2 56.2a2.3 2.3 0 1 0 4.6 0a2.3 2.3 0 1 0 -4.6 0M779.3 53.4a2.3 2.3 0 1 0 4.6 0a2.3 2.3 0 1 0 -4.6 0M780.4 54.6a2.3 2.3 0 1 0 4.6 0a2.3 2.3 0 1 0 -4.6 0M781.5 53.1a2.3 2.3 0 1 0 4.6 0a2.3 2.3 0 1 0 -4.6 0M782.6 58.4a2.3 2.3 0 1 0 4.6 0a2.3 2.3 0 1 0 -4.6 0M783.7 56.6a2.3 2.3 0 1 0 4.6 0a2.3 2.3 0 1 0 -4.6 0M784.8 55.0a2.3 2.3 0 1 0 4.6 0a2.3 2.3 0 1 0 -4.6 0M785.9 55.0a2.3 2.3 0 1 0 4.6 0a2.3 2.3 0 1 0 -4.6 0M787.0 54.7a2.3 2.3 0 1 0 4.6 0a2.3 2.3 0 1 0 -4.6 0M788.1 59.6a2.3 2.3 0 1 0 4.6 0a2.3 2.3 0 1 0 -4.6 0M789.2 58.1a2.3 2.3 0 1 0 4.6 0a2.3 2.3 0 1 0 -4.6 0M790.3 58.9a2.3 2.3 0 1 0 4.6 0a2.3 2.3 0 1 0 -4.6 0M791.4 58.3a2.3 2.3 0 1 0 4.6 0a2.3 2.3 0 1 0 -4.6 0M792.5 53.7a2.3 2.3 0 1 0 4.6 0a2.3 2.3 0 1 0 -4.6 0M793.6 55.5a2.3 2.3 0 1 0 4.6 0a2.3 2.3 0 1 0 -4.6 0M794.7 54.8a2.3 2.3 0 1 0 4.6 0a2.3 2.3 0 1 0 -4.6 0M795.8 57.4a2.3 2.3 0 1 0 4.6 0a2.3 2.3 0 1 0 -4.6 0M796.9 54.3a2.3 2.3 0 1 0 4.6 0a2.3 2.3 0 1 0 -4.6 0M798.0 56.1a2.3 2.3 0 1 0 4.6 0a2.3 2.3 0 1 0 -4.6 0M799.1 56.7a2.3 2.3 0 1 0 4.6 0a2.3 2.3 0 1 0 -4.6 0M800.2 53.4a2.3 2.3 0 1 0 4.6 0a2.3 2.3 0 1 0 -4.6 0M801.3 52.2a2.3 2.3 0 1 0 4.6 0a2.3 2.3 0 1 0 -4.6 0M802.3 56.5a2.3 2.3 0 1 0 4.6 0a2.3 2.3 0 1 0 -4.6 0M803.4 53.6a2.3 2.3 0 1 0 4.6 0a2.3 2.3 0 1 0 -4.6 0M804.5 53.3a2.3 2.3 0 1 0 4.6 0a2.3 2.3 0 1 0 -4.6 0M805.6 55.4a2.3 2.3 0 1 0 4.6 0a2.3 2.3 0 1 0 -4.6 0M806.7 54.6a2.3 2.3 0 1 0 4.6 0a2.3 2.3 0 1 0 -4.6 0M807.8 55.9a2.3 2.3 0 1 0 4.6 0a2.3 2.3 0 1 0 -4.6 0M808.9 55.7a2.3 2.3 0 1 0 4.6 0a2.3 2.3 0 1 0 -4.6 0M810.0 55.6a2.3 2.3 0 1 0 4.6 0a2.3 2.3 0 1 0 -4.6 0M811.1 53.9a2.3 2.3 0 1 0 4.6 0a2.3 2.3 0 1 0 -4.6 0M812.2 53.8a2.3 2.3 0 1 0 4.6 0a2.3 2.3 0 1 0 -4.6 0M813.3 56.5a2.3 2.3 0 1 0 4.6 0a2.3 2.3 0 1 0 -4.6 0M814.4 57.7a2.3 2.3 0 1 0 4.6 0a2.3 2.3 0 1 0 -4.6 0M815.5 56.2a2.3 2.3 0 1 0 4.6 0a2.3 2.3 0 1 0 -4.6 0" fill="#e0a8f0" stroke="#a818d8" stroke-width="1.1" clip-path="url(#cb)"/>
<rect x="489" y="38.8" width="328.8" height="221" fill="none" stroke="#000" stroke-width="1.8"/>
<path d="M481 259.8H489M481 207.03H489M481 154.25H489M481 101.47H489M481 48.7H489M485 233.41H489M485 180.64H489M485 127.86H489M485 75.09H489" stroke="#000" stroke-width="1.6" fill="none"/>
<text x="477.5" y="265.2" font-size="18.5" text-anchor="end">0</text>
<text x="477.5" y="212.43" font-size="18.5" text-anchor="end">25</text>
<text x="477.5" y="159.65" font-size="18.5" text-anchor="end">50</text>
<text x="477.5" y="106.88" font-size="18.5" text-anchor="end">75</text>
<text x="477.5" y="54.1" font-size="18.5" text-anchor="end">100</text>
<path d="M489 259.8V267.8M598.6 259.8V267.8M708.2 259.8V267.8M817.8 259.8V267.8M543.8 259.8V263.8M653.4 259.8V263.8M763 259.8V263.8" stroke="#000" stroke-width="1.6" fill="none"/>
<text x="489" y="285.8" font-size="18.5" text-anchor="middle">0</text>
<text x="598.6" y="285.8" font-size="18.5" text-anchor="middle">100</text>
<text x="708.2" y="285.8" font-size="18.5" text-anchor="middle">200</text>
<text x="817.8" y="285.8" font-size="18.5" text-anchor="middle">300</text>
<path d="M654.2 76.8L660.0 76.8L657.1 81.1Z" fill="#000"/>
<circle cx="657" cy="101.2" r="1.8" fill="#c050e0" stroke="#a000d0" stroke-width="1"/>
<text x="678.2" y="83.5" font-size="19.5" text-anchor="start">CuNW</text>
<text x="678.2" y="106.9" font-size="19.5" text-anchor="start">CuNW@ZnHQ</text>
<text x="601.9" y="243.2" font-size="19.5" text-anchor="start">0.5 mA cm<tspan font-size="12.5" dy="-7.8">-2</tspan><tspan dy="7.8"> 1 mAh cm</tspan><tspan font-size="12.5" dy="-7.8">-2</tspan></text>
<text x="683.5" y="309.4" font-size="19.5" text-anchor="middle">Cycle number (n)</text>
<text transform="translate(443.5 150.7) rotate(-90)" font-size="19.5" text-anchor="middle">Coulombic efficiency (%)</text>
<clipPath id="cc"><rect x="913.8" y="41.1" width="328.4" height="221.7"/></clipPath>
<path d="M913.1 57.3L918.9 57.3L916.0 53.0ZM915.3 57.8L921.1 57.8L918.2 53.4ZM917.5 56.7L923.3 56.7L920.4 52.3ZM919.7 56.1L925.5 56.1L922.6 51.8ZM921.8 53.8L927.6 53.8L924.7 49.5ZM924.0 53.9L929.8 53.9L926.9 49.6ZM926.2 54.6L932.0 54.6L929.1 50.2ZM928.4 53.9L934.2 53.9L931.3 49.6ZM930.6 53.9L936.4 53.9L933.5 49.5ZM932.8 54.2L938.6 54.2L935.7 49.8ZM935.0 54.6L940.8 54.6L937.9 50.3ZM937.2 56.7L943.0 56.7L940.1 52.3ZM939.4 56.7L945.2 56.7L942.3 52.4ZM941.6 55.6L947.4 55.6L944.5 51.2ZM943.7 56.5L949.5 56.5L946.6 52.2ZM945.9 57.0L951.7 57.0L948.8 52.7ZM948.1 57.2L953.9 57.2L951.0 52.8ZM950.3 55.8L956.1 55.8L953.2 51.4ZM952.5 57.6L958.3 57.6L955.4 53.3ZM954.7 57.2L960.5 57.2L957.6 52.8ZM956.9 57.8L962.7 57.8L959.8 53.5ZM959.1 57.8L964.9 57.8L962.0 53.5ZM961.3 56.8L967.1 56.8L964.2 52.4ZM963.4 56.6L969.2 56.6L966.3 52.2ZM965.6 58.3L971.4 58.3L968.5 54.0ZM967.8 58.9L973.6 58.9L970.7 54.5ZM970.0 57.6L975.8 57.6L972.9 53.3ZM972.2 59.1L978.0 59.1L975.1 54.8ZM974.4 59.7L980.2 59.7L977.3 55.4ZM976.6 57.6L982.4 57.6L979.5 53.2ZM978.8 58.9L984.6 58.9L981.7 54.6ZM981.0 58.0L986.8 58.0L983.9 53.7ZM983.1 59.2L988.9 59.2L986.0 54.9ZM985.3 58.1L991.1 58.1L988.2 53.8ZM987.5 59.3L993.3 59.3L990.4 55.0ZM989.7 60.3L995.5 60.3L992.6 55.9ZM991.9 60.8L997.7 60.8L994.8 56.5ZM994.1 59.6L999.9 59.6L997.0 55.3ZM996.3 59.6L1002.1 59.6L999.2 55.2ZM998.5 59.0L1004.3 59.0L1001.4 54.7ZM1000.7 61.3L1006.5 61.3L1003.6 56.9ZM1002.9 60.1L1008.7 60.1L1005.8 55.8ZM1005.0 60.9L1010.8 60.9L1007.9 56.6ZM1007.2 60.7L1013.0 60.7L1010.1 56.4ZM1009.4 61.8L1015.2 61.8L1012.3 57.5ZM1011.6 61.9L1017.4 61.9L1014.5 57.5ZM1013.8 61.7L1019.6 61.7L1016.7 57.4ZM1016.0 61.1L1021.8 61.1L1018.9 56.8ZM1018.2 63.6L1024.0 63.6L1021.1 59.3ZM1020.4 63.1L1026.2 63.1L1023.3 58.7ZM1022.6 62.8L1028.4 62.8L1025.5 58.4ZM1024.7 62.9L1030.5 62.9L1027.6 58.6ZM1026.9 65.4L1032.7 65.4L1029.8 61.0ZM1029.1 66.1L1034.9 66.1L1032.0 61.7ZM1031.3 65.1L1037.1 65.1L1034.2 60.7ZM1033.5 66.1L1039.3 66.1L1036.4 61.7ZM1035.7 68.4L1041.5 68.4L1038.6 64.0ZM1037.9 73.3L1043.7 73.3L1040.8 69.0ZM1040.1 75.0L1045.9 75.0L1043.0 70.6ZM1042.3 80.2L1048.1 80.2L1045.2 75.8ZM1044.4 81.4L1050.2 81.4L1047.3 77.0ZM1046.6 84.5L1052.4 84.5L1049.5 80.2ZM1048.8 86.5L1054.6 86.5L1051.7 82.1ZM1051.0 89.6L1056.8 89.6L1053.9 85.2ZM1053.2 89.4L1059.0 89.4L1056.1 85.0ZM1055.4 92.2L1061.2 92.2L1058.3 87.9ZM1057.6 93.6L1063.4 93.6L1060.5 89.3ZM1059.8 94.3L1065.6 94.3L1062.7 90.0ZM1062.0 96.2L1067.8 96.2L1064.9 91.9ZM1064.2 99.7L1070.0 99.7L1067.1 95.4ZM1066.3 101.4L1072.1 101.4L1069.2 97.0ZM1068.5 102.7L1074.3 102.7L1071.4 98.3ZM1070.7 104.1L1076.5 104.1L1073.6 99.8ZM1072.9 107.3L1078.7 107.3L1075.8 102.9ZM1075.1 110.8L1080.9 110.8L1078.0 106.4ZM1077.3 113.3L1083.1 113.3L1080.2 108.9ZM1079.5 115.9L1085.3 115.9L1082.4 111.6ZM1081.7 119.4L1087.5 119.4L1084.6 115.0ZM1083.9 125.4L1089.7 125.4L1086.8 121.0ZM1086.0 127.2L1091.8 127.2L1088.9 122.9ZM1088.2 129.9L1094.0 129.9L1091.1 125.6ZM1090.4 134.9L1096.2 134.9L1093.3 130.5ZM1092.6 137.1L1098.4 137.1L1095.5 132.7ZM1094.8 143.1L1100.6 143.1L1097.7 138.8ZM1097.0 148.2L1102.8 148.2L1099.9 143.9ZM1099.2 154.7L1105.0 154.7L1102.1 150.3Z" fill="#000" clip-path="url(#cc)"/>
<path d="M913.7 59.1a2.3 2.3 0 1 0 4.6 0a2.3 2.3 0 1 0 -4.6 0M915.9 59.0a2.3 2.3 0 1 0 4.6 0a2.3 2.3 0 1 0 -4.6 0M918.1 58.3a2.3 2.3 0 1 0 4.6 0a2.3 2.3 0 1 0 -4.6 0M920.3 57.5a2.3 2.3 0 1 0 4.6 0a2.3 2.3 0 1 0 -4.6 0M922.4 57.2a2.3 2.3 0 1 0 4.6 0a2.3 2.3 0 1 0 -4.6 0M924.6 56.2a2.3 2.3 0 1 0 4.6 0a2.3 2.3 0 1 0 -4.6 0M926.8 55.9a2.3 2.3 0 1 0 4.6 0a2.3 2.3 0 1 0 -4.6 0M929.0 55.3a2.3 2.3 0 1 0 4.6 0a2.3 2.3 0 1 0 -4.6 0M931.2 55.8a2.3 2.3 0 1 0 4.6 0a2.3 2.3 0 1 0 -4.6 0M933.4 54.9a2.3 2.3 0 1 0 4.6 0a2.3 2.3 0 1 0 -4.6 0M935.6 54.9a2.3 2.3 0 1 0 4.6 0a2.3 2.3 0 1 0 -4.6 0M937.8 55.2a2.3 2.3 0 1 0 4.6 0a2.3 2.3 0 1 0 -4.6 0M940.0 54.3a2.3 2.3 0 1 0 4.6 0a2.3 2.3 0 1 0 -4.6 0M942.2 54.2a2.3 2.3 0 1 0 4.6 0a2.3 2.3 0 1 0 -4.6 0M944.3 54.6a2.3 2.3 0 1 0 4.6 0a2.3 2.3 0 1 0 -4.6 0M946.5 54.9a2.3 2.3 0 1 0 4.6 0a2.3 2.3 0 1 0 -4.6 0M948.7 54.4a2.3 2.3 0 1 0 4.6 0a2.3 2.3 0 1 0 -4.6 0M950.9 54.9a2.3 2.3 0 1 0 4.6 0a2.3 2.3 0 1 0 -4.6 0M953.1 54.9a2.3 2.3 0 1 0 4.6 0a2.3 2.3 0 1 0 -4.6 0M955.3 54.4a2.3 2.3 0 1 0 4.6 0a2.3 2.3 0 1 0 -4.6 0M957.5 54.9a2.3 2.3 0 1 0 4.6 0a2.3 2.3 0 1 0 -4.6 0M959.7 54.5a2.3 2.3 0 1 0 4.6 0a2.3 2.3 0 1 0 -4.6 0M961.9 54.4a2.3 2.3 0 1 0 4.6 0a2.3 2.3 0 1 0 -4.6 0M964.0 55.1a2.3 2.3 0 1 0 4.6 0a2.3 2.3 0 1 0 -4.6 0M966.2 54.3a2.3 2.3 0 1 0 4.6 0a2.3 2.3 0 1 0 -4.6 0M968.4 55.2a2.3 2.3 0 1 0 4.6 0a2.3 2.3 0 1 0 -4.6 0M970.6 54.4a2.3 2.3 0 1 0 4.6 0a2.3 2.3 0 1 0 -4.6 0M972.8 54.4a2.3 2.3 0 1 0 4.6 0a2.3 2.3 0 1 0 -4.6 0M975.0 54.9a2.3 2.3 0 1 0 4.6 0a2.3 2.3 0 1 0 -4.6 0M977.2 55.7a2.3 2.3 0 1 0 4.6 0a2.3 2.3 0 1 0 -4.6 0M979.4 55.1a2.3 2.3 0 1 0 4.6 0a2.3 2.3 0 1 0 -4.6 0M981.6 55.4a2.3 2.3 0 1 0 4.6 0a2.3 2.3 0 1 0 -4.6 0M983.7 54.7a2.3 2.3 0 1 0 4.6 0a2.3 2.3 0 1 0 -4.6 0M985.9 55.9a2.3 2.3 0 1 0 4.6 0a2.3 2.3 0 1 0 -4.6 0M988.1 54.9a2.3 2.3 0 1 0 4.6 0a2.3 2.3 0 1 0 -4.6 0M990.3 54.8a2.3 2.3 0 1 0 4.6 0a2.3 2.3 0 1 0 -4.6 0M992.5 55.2a2.3 2.3 0 1 0 4.6 0a2.3 2.3 0 1 0 -4.6 0M994.7 55.1a2.3 2.3 0 1 0 4.6 0a2.3 2.3 0 1 0 -4.6 0M996.9 56.1a2.3 2.3 0 1 0 4.6 0a2.3 2.3 0 1 0 -4.6 0M999.1 54.9a2.3 2.3 0 1 0 4.6 0a2.3 2.3 0 1 0 -4.6 0M1001.3 55.6a2.3 2.3 0 1 0 4.6 0a2.3 2.3 0 1 0 -4.6 0M1003.5 54.8a2.3 2.3 0 1 0 4.6 0a2.3 2.3 0 1 0 -4.6 0M1005.6 54.8a2.3 2.3 0 1 0 4.6 0a2.3 2.3 0 1 0 -4.6 0M1007.8 55.9a2.3 2.3 0 1 0 4.6 0a2.3 2.3 0 1 0 -4.6 0M1010.0 54.9a2.3 2.3 0 1 0 4.6 0a2.3 2.3 0 1 0 -4.6 0M1012.2 54.6a2.3 2.3 0 1 0 4.6 0a2.3 2.3 0 1 0 -4.6 0M1014.4 55.7a2.3 2.3 0 1 0 4.6 0a2.3 2.3 0 1 0 -4.6 0M1016.6 55.2a2.3 2.3 0 1 0 4.6 0a2.3 2.3 0 1 0 -4.6 0M1018.8 54.5a2.3 2.3 0 1 0 4.6 0a2.3 2.3 0 1 0 -4.6 0M1021.0 55.3a2.3 2.3 0 1 0 4.6 0a2.3 2.3 0 1 0 -4.6 0M1023.2 54.1a2.3 2.3 0 1 0 4.6 0a2.3 2.3 0 1 0 -4.6 0M1025.3 54.9a2.3 2.3 0 1 0 4.6 0a2.3 2.3 0 1 0 -4.6 0M1027.5 54.1a2.3 2.3 0 1 0 4.6 0a2.3 2.3 0 1 0 -4.6 0M1029.7 55.0a2.3 2.3 0 1 0 4.6 0a2.3 2.3 0 1 0 -4.6 0M1031.9 54.4a2.3 2.3 0 1 0 4.6 0a2.3 2.3 0 1 0 -4.6 0M1034.1 53.7a2.3 2.3 0 1 0 4.6 0a2.3 2.3 0 1 0 -4.6 0M1036.3 54.8a2.3 2.3 0 1 0 4.6 0a2.3 2.3 0 1 0 -4.6 0M1038.5 54.7a2.3 2.3 0 1 0 4.6 0a2.3 2.3 0 1 0 -4.6 0M1040.7 54.3a2.3 2.3 0 1 0 4.6 0a2.3 2.3 0 1 0 -4.6 0M1042.9 54.6a2.3 2.3 0 1 0 4.6 0a2.3 2.3 0 1 0 -4.6 0M1045.0 55.1a2.3 2.3 0 1 0 4.6 0a2.3 2.3 0 1 0 -4.6 0M1047.2 55.0a2.3 2.3 0 1 0 4.6 0a2.3 2.3 0 1 0 -4.6 0M1049.4 55.1a2.3 2.3 0 1 0 4.6 0a2.3 2.3 0 1 0 -4.6 0M1051.6 54.0a2.3 2.3 0 1 0 4.6 0a2.3 2.3 0 1 0 -4.6 0M1053.8 54.5a2.3 2.3 0 1 0 4.6 0a2.3 2.3 0 1 0 -4.6 0M1056.0 54.3a2.3 2.3 0 1 0 4.6 0a2.3 2.3 0 1 0 -4.6 0M1058.2 55.4a2.3 2.3 0 1 0 4.6 0a2.3 2.3 0 1 0 -4.6 0M1060.4 54.6a2.3 2.3 0 1 0 4.6 0a2.3 2.3 0 1 0 -4.6 0M1062.6 55.7a2.3 2.3 0 1 0 4.6 0a2.3 2.3 0 1 0 -4.6 0M1064.8 55.2a2.3 2.3 0 1 0 4.6 0a2.3 2.3 0 1 0 -4.6 0M1066.9 55.1a2.3 2.3 0 1 0 4.6 0a2.3 2.3 0 1 0 -4.6 0M1069.1 55.6a2.3 2.3 0 1 0 4.6 0a2.3 2.3 0 1 0 -4.6 0M1071.3 54.9a2.3 2.3 0 1 0 4.6 0a2.3 2.3 0 1 0 -4.6 0M1073.5 55.5a2.3 2.3 0 1 0 4.6 0a2.3 2.3 0 1 0 -4.6 0M1075.7 55.5a2.3 2.3 0 1 0 4.6 0a2.3 2.3 0 1 0 -4.6 0M1077.9 55.0a2.3 2.3 0 1 0 4.6 0a2.3 2.3 0 1 0 -4.6 0M1080.1 56.2a2.3 2.3 0 1 0 4.6 0a2.3 2.3 0 1 0 -4.6 0M1082.3 54.9a2.3 2.3 0 1 0 4.6 0a2.3 2.3 0 1 0 -4.6 0M1084.5 55.4a2.3 2.3 0 1 0 4.6 0a2.3 2.3 0 1 0 -4.6 0M1086.6 55.7a2.3 2.3 0 1 0 4.6 0a2.3 2.3 0 1 0 -4.6 0M1088.8 55.0a2.3 2.3 0 1 0 4.6 0a2.3 2.3 0 1 0 -4.6 0M1091.0 55.7a2.3 2.3 0 1 0 4.6 0a2.3 2.3 0 1 0 -4.6 0M1093.2 54.5a2.3 2.3 0 1 0 4.6 0a2.3 2.3 0 1 0 -4.6 0M1095.4 55.1a2.3 2.3 0 1 0 4.6 0a2.3 2.3 0 1 0 -4.6 0M1097.6 55.3a2.3 2.3 0 1 0 4.6 0a2.3 2.3 0 1 0 -4.6 0M1099.8 54.6a2.3 2.3 0 1 0 4.6 0a2.3 2.3 0 1 0 -4.6 0M1102.0 54.9a2.3 2.3 0 1 0 4.6 0a2.3 2.3 0 1 0 -4.6 0M1104.2 55.2a2.3 2.3 0 1 0 4.6 0a2.3 2.3 0 1 0 -4.6 0M1106.4 54.3a2.3 2.3 0 1 0 4.6 0a2.3 2.3 0 1 0 -4.6 0M1108.5 55.2a2.3 2.3 0 1 0 4.6 0a2.3 2.3 0 1 0 -4.6 0M1110.7 54.0a2.3 2.3 0 1 0 4.6 0a2.3 2.3 0 1 0 -4.6 0M1112.9 54.8a2.3 2.3 0 1 0 4.6 0a2.3 2.3 0 1 0 -4.6 0M1115.1 54.2a2.3 2.3 0 1 0 4.6 0a2.3 2.3 0 1 0 -4.6 0M1117.3 53.6a2.3 2.3 0 1 0 4.6 0a2.3 2.3 0 1 0 -4.6 0M1119.5 54.2a2.3 2.3 0 1 0 4.6 0a2.3 2.3 0 1 0 -4.6 0M1121.7 54.1a2.3 2.3 0 1 0 4.6 0a2.3 2.3 0 1 0 -4.6 0M1123.9 54.6a2.3 2.3 0 1 0 4.6 0a2.3 2.3 0 1 0 -4.6 0M1126.1 55.1a2.3 2.3 0 1 0 4.6 0a2.3 2.3 0 1 0 -4.6 0M1128.2 55.1a2.3 2.3 0 1 0 4.6 0a2.3 2.3 0 1 0 -4.6 0M1130.4 55.0a2.3 2.3 0 1 0 4.6 0a2.3 2.3 0 1 0 -4.6 0M1132.6 54.4a2.3 2.3 0 1 0 4.6 0a2.3 2.3 0 1 0 -4.6 0M1134.8 54.8a2.3 2.3 0 1 0 4.6 0a2.3 2.3 0 1 0 -4.6 0M1137.0 54.8a2.3 2.3 0 1 0 4.6 0a2.3 2.3 0 1 0 -4.6 0M1139.2 54.3a2.3 2.3 0 1 0 4.6 0a2.3 2.3 0 1 0 -4.6 0M1141.4 55.5a2.3 2.3 0 1 0 4.6 0a2.3 2.3 0 1 0 -4.6 0M1143.6 55.5a2.3 2.3 0 1 0 4.6 0a2.3 2.3 0 1 0 -4.6 0M1145.8 55.0a2.3 2.3 0 1 0 4.6 0a2.3 2.3 0 1 0 -4.6 0M1147.9 56.0a2.3 2.3 0 1 0 4.6 0a2.3 2.3 0 1 0 -4.6 0M1150.1 56.1a2.3 2.3 0 1 0 4.6 0a2.3 2.3 0 1 0 -4.6 0M1152.3 55.7a2.3 2.3 0 1 0 4.6 0a2.3 2.3 0 1 0 -4.6 0M1154.5 56.1a2.3 2.3 0 1 0 4.6 0a2.3 2.3 0 1 0 -4.6 0M1156.7 55.8a2.3 2.3 0 1 0 4.6 0a2.3 2.3 0 1 0 -4.6 0M1158.9 56.0a2.3 2.3 0 1 0 4.6 0a2.3 2.3 0 1 0 -4.6 0M1161.1 55.5a2.3 2.3 0 1 0 4.6 0a2.3 2.3 0 1 0 -4.6 0M1163.3 55.5a2.3 2.3 0 1 0 4.6 0a2.3 2.3 0 1 0 -4.6 0M1165.5 56.0a2.3 2.3 0 1 0 4.6 0a2.3 2.3 0 1 0 -4.6 0M1167.7 55.4a2.3 2.3 0 1 0 4.6 0a2.3 2.3 0 1 0 -4.6 0M1169.8 55.5a2.3 2.3 0 1 0 4.6 0a2.3 2.3 0 1 0 -4.6 0M1172.0 55.9a2.3 2.3 0 1 0 4.6 0a2.3 2.3 0 1 0 -4.6 0M1174.2 54.7a2.3 2.3 0 1 0 4.6 0a2.3 2.3 0 1 0 -4.6 0M1176.4 55.6a2.3 2.3 0 1 0 4.6 0a2.3 2.3 0 1 0 -4.6 0M1178.6 55.7a2.3 2.3 0 1 0 4.6 0a2.3 2.3 0 1 0 -4.6 0M1180.8 55.6a2.3 2.3 0 1 0 4.6 0a2.3 2.3 0 1 0 -4.6 0M1183.0 54.7a2.3 2.3 0 1 0 4.6 0a2.3 2.3 0 1 0 -4.6 0M1185.2 54.3a2.3 2.3 0 1 0 4.6 0a2.3 2.3 0 1 0 -4.6 0M1187.4 54.3a2.3 2.3 0 1 0 4.6 0a2.3 2.3 0 1 0 -4.6 0M1189.5 54.8a2.3 2.3 0 1 0 4.6 0a2.3 2.3 0 1 0 -4.6 0M1191.7 54.9a2.3 2.3 0 1 0 4.6 0a2.3 2.3 0 1 0 -4.6 0M1193.9 55.2a2.3 2.3 0 1 0 4.6 0a2.3 2.3 0 1 0 -4.6 0M1196.1 54.2a2.3 2.3 0 1 0 4.6 0a2.3 2.3 0 1 0 -4.6 0M1198.3 54.3a2.3 2.3 0 1 0 4.6 0a2.3 2.3 0 1 0 -4.6 0M1200.5 54.6a2.3 2.3 0 1 0 4.6 0a2.3 2.3 0 1 0 -4.6 0M1202.7 54.1a2.3 2.3 0 1 0 4.6 0a2.3 2.3 0 1 0 -4.6 0M1204.9 54.4a2.3 2.3 0 1 0 4.6 0a2.3 2.3 0 1 0 -4.6 0M1207.1 53.7a2.3 2.3 0 1 0 4.6 0a2.3 2.3 0 1 0 -4.6 0M1209.2 54.3a2.3 2.3 0 1 0 4.6 0a2.3 2.3 0 1 0 -4.6 0M1211.4 55.3a2.3 2.3 0 1 0 4.6 0a2.3 2.3 0 1 0 -4.6 0M1213.6 54.7a2.3 2.3 0 1 0 4.6 0a2.3 2.3 0 1 0 -4.6 0M1215.8 56.3a2.3 2.3 0 1 0 4.6 0a2.3 2.3 0 1 0 -4.6 0M1218.0 55.9a2.3 2.3 0 1 0 4.6 0a2.3 2.3 0 1 0 -4.6 0M1220.2 56.5a2.3 2.3 0 1 0 4.6 0a2.3 2.3 0 1 0 -4.6 0M1222.4 57.1a2.3 2.3 0 1 0 4.6 0a2.3 2.3 0 1 0 -4.6 0M1224.6 57.7a2.3 2.3 0 1 0 4.6 0a2.3 2.3 0 1 0 -4.6 0M1226.8 57.0a2.3 2.3 0 1 0 4.6 0a2.3 2.3 0 1 0 -4.6 0M1229.0 58.5a2.3 2.3 0 1 0 4.6 0a2.3 2.3 0 1 0 -4.6 0M1231.1 58.0a2.3 2.3 0 1 0 4.6 0a2.3 2.3 0 1 0 -4.6 0M1233.3 57.8a2.3 2.3 0 1 0 4.6 0a2.3 2.3 0 1 0 -4.6 0M1235.5 59.3a2.3 2.3 0 1 0 4.6 0a2.3 2.3 0 1 0 -4.6 0M1237.7 59.5a2.3 2.3 0 1 0 4.6 0a2.3 2.3 0 1 0 -4.6 0M1239.9 59.2a2.3 2.3 0 1 0 4.6 0a2.3 2.3 0 1 0 -4.6 0" fill="#e0a8f0" stroke="#b030d8" stroke-width="1" clip-path="url(#cc)"/>
<rect x="913.8" y="41.1" width="328.4" height="221.7" fill="none" stroke="#000" stroke-width="1.8"/>
<path d="M905.8 262.8H913.8M905.8 220.6H913.8M905.8 178.4H913.8M905.8 136.2H913.8M905.8 94H913.8M905.8 51.8H913.8M909.8 241.7H913.8M909.8 199.5H913.8M909.8 157.3H913.8M909.8 115.1H913.8M909.8 72.9H913.8" stroke="#000" stroke-width="1.6" fill="none"/>
<text x="900.8" y="268.2" font-size="18.5" text-anchor="end">0</text>
<text x="900.8" y="226" font-size="18.5" text-anchor="end">20</text>
<text x="900.8" y="183.8" font-size="18.5" text-anchor="end">40</text>
<text x="900.8" y="141.6" font-size="18.5" text-anchor="end">60</text>
<text x="900.8" y="99.4" font-size="18.5" text-anchor="end">80</text>
<text x="900.8" y="57.2" font-size="18.5" text-anchor="end">100</text>
<path d="M913.8 262.8V270.8M1023.27 262.8V270.8M1132.73 262.8V270.8M1242.2 262.8V270.8M968.53 262.8V266.8M1078 262.8V266.8M1187.47 262.8V266.8" stroke="#000" stroke-width="1.6" fill="none"/>
<text x="913.8" y="289.2" font-size="18.5" text-anchor="middle">0</text>
<text x="1023.27" y="289.2" font-size="18.5" text-anchor="middle">50</text>
<text x="1132.73" y="289.2" font-size="18.5" text-anchor="middle">100</text>
<text x="1242.2" y="289.2" font-size="18.5" text-anchor="middle">150</text>
<path d="M1086.3 80.2L1092.1 80.2L1089.2 75.9Z" fill="#000"/>
<circle cx="1089" cy="102" r="1.8" fill="#c050e0" stroke="#a000d0" stroke-width="1"/>
<text x="1110.3" y="84.2" font-size="19.5" text-anchor="start">CuNW</text>
<text x="1110.3" y="107.6" font-size="19.5" text-anchor="start">CuNW@ZnHQ</text>
<text x="1031.2" y="243.2" font-size="19.5" text-anchor="start">2 mA cm<tspan font-size="12.5" dy="-7.8">-2</tspan><tspan dy="7.8"> 5 mAh cm</tspan><tspan font-size="12.5" dy="-7.8">-2</tspan></text>
<text x="1092.8" y="308.4" font-size="19.5" text-anchor="middle">Cycle number (n)</text>
<text transform="translate(868.5 151) rotate(-90)" font-size="19.5" text-anchor="middle">Coulombic efficiency (%)</text>
<clipPath id="cd"><rect x="78.1" y="337.8" width="328.9" height="221.8"/></clipPath>
<path d="M78.4,440.9 78.8,440.9 79.2,440.9 79.5,440.7 79.9,440.6 80.3,440.4 80.6,440.1 81.0,439.7 81.4,439.3 81.7,438.8 82.1,438.3 82.5,437.7 82.8,437.0 83.2,436.2 83.6,435.4 83.9,455.9 84.3,455.9 84.6,456.0 85.0,456.1 85.4,456.3 85.8,456.5 86.1,456.9 86.5,457.2 86.9,457.7 87.2,458.2 87.6,458.8 88.0,459.5 88.3,460.3 88.7,461.1 89.1,462.0 89.4,440.9 89.8,440.9 90.1,440.9 90.5,440.7 90.9,440.6 91.2,440.4 91.6,440.1 92.0,439.7 92.3,439.3 92.7,438.8 93.1,438.3 93.4,437.7 93.8,437.0 94.2,436.2 94.5,435.4 94.9,455.9 95.2,455.9 95.6,456.0 96.0,456.1 96.3,456.3 96.7,456.5 97.1,456.9 97.5,457.2 97.8,457.7 98.2,458.2 98.6,458.8 98.9,459.5 99.3,460.3 99.7,461.1 100.0,462.0 100.4,440.9 100.7,440.9 101.1,440.9 101.5,440.7 101.8,440.6 102.2,440.4 102.6,440.1 102.9,439.7 103.3,439.3 103.7,438.8 104.0,438.3 104.4,437.7 104.8,437.0 105.1,436.2 105.5,435.4 105.8,455.9 106.2,455.9 106.6,456.0 106.9,456.1 107.3,456.3 107.7,456.5 108.0,456.9 108.4,457.2 108.8,457.7 109.1,458.2 109.5,458.8 109.9,459.5 110.3,460.3 110.6,461.1 111.0,462.0 111.3,440.9 111.7,440.9 112.1,440.9 112.4,440.7 112.8,440.6 113.2,440.4 113.5,440.1 113.9,439.7 114.3,439.3 114.6,438.8 115.0,438.3 115.4,437.7 115.7,437.0 116.1,436.2 116.5,435.4 116.8,455.9 117.2,455.9 117.5,456.0 117.9,456.1 118.3,456.3 118.6,456.5 119.0,456.9 119.4,457.2 119.7,457.7 120.1,458.2 120.5,458.8 120.8,459.5 121.2,460.3 121.6,461.1 122.0,462.0 122.3,440.9 122.7,440.9 123.0,440.9 123.4,440.7 123.8,440.6 124.1,440.4 124.5,440.1 124.9,439.7 125.2,439.3 125.6,438.8 126.0,438.3 126.3,437.7 126.7,437.0 127.1,436.2 127.4,435.4 127.8,455.9 128.1,455.9 128.5,456.0 128.9,456.1 129.2,456.3 129.6,456.5 130.0,456.9 130.3,457.2 130.7,457.7 131.1,458.2 131.4,458.8 131.8,459.5 132.2,460.3 132.5,461.1 132.9,462.0 133.2,436.2 133.6,436.2 134.0,436.1 134.3,435.9 134.7,435.6 135.1,435.2 135.5,434.8 135.8,434.2 136.2,433.5 136.6,432.7 136.9,431.7 137.3,430.7 137.7,429.5 138.0,428.2 138.4,426.8 138.7,461.2 139.1,461.2 139.5,461.3 139.8,461.5 140.2,461.8 140.6,462.1 140.9,462.6 141.3,463.2 141.7,463.8 142.0,464.6 142.4,465.5 142.8,466.6 143.1,467.7 143.5,468.9 143.9,470.3 144.2,436.2 144.6,436.2 144.9,436.1 145.3,435.9 145.7,435.6 146.0,435.2 146.4,434.8 146.8,434.2 147.2,433.5 147.5,432.7 147.9,431.7 148.3,430.7 148.6,429.5 149.0,428.2 149.4,426.8 149.7,461.2 150.1,461.2 150.4,461.3 150.8,461.5 151.2,461.8 151.5,462.1 151.9,462.6 152.3,463.2 152.6,463.8 153.0,464.6 153.4,465.5 153.7,466.6 154.1,467.7 154.5,468.9 154.8,470.3 155.2,436.2 155.5,436.2 155.9,436.1 156.3,435.9 156.6,435.6 157.0,435.2 157.4,434.8 157.7,434.2 158.1,433.5 158.5,432.7 158.9,431.7 159.2,430.7 159.6,429.5 160.0,428.2 160.3,426.8 160.7,461.2 161.0,461.2 161.4,461.3 161.8,461.5 162.1,461.8 162.5,462.1 162.9,462.6 163.2,463.2 163.6,463.8 164.0,464.6 164.3,465.5 164.7,466.6 165.1,467.7 165.4,468.9 165.8,470.3 166.1,436.2 166.5,436.2 166.9,436.1 167.2,435.9 167.6,435.6 168.0,435.2 168.3,434.8 168.7,434.2 169.1,433.5 169.4,432.7 169.8,431.7 170.2,430.7 170.6,429.5 170.9,428.2 171.3,426.8 171.6,461.2 172.0,461.2 172.4,461.3 172.7,461.5 173.1,461.8 173.5,462.1 173.8,462.6 174.2,463.2 174.6,463.8 174.9,464.6 175.3,465.5 175.7,466.6 176.0,467.7 176.4,468.9 176.8,470.3 177.1,436.2 177.5,436.2 177.8,436.1 178.2,435.9 178.6,435.6 178.9,435.2 179.3,434.8 179.7,434.2 180.0,433.5 180.4,432.7 180.8,431.7 181.1,430.7 181.5,429.5 181.9,428.2 182.3,426.8 182.6,461.2 182.9,461.2 183.3,461.3 183.7,461.5 184.1,461.8 184.4,462.1 184.8,462.6 185.2,463.2 185.5,463.8 185.9,464.6 186.3,465.5 186.6,466.6 187.0,467.7 187.4,468.9 187.7,470.3 188.1,425.1 188.4,425.1 188.8,424.9 189.2,424.5 189.5,424.0 189.9,423.3 190.3,422.4 190.6,421.3 191.0,420.0 191.4,418.4 191.7,416.7 192.1,414.7 192.5,412.5 192.8,410.1 193.2,407.4 193.5,473.7 193.9,473.7 194.3,473.8 194.6,474.1 195.0,474.5 195.4,475.1 195.8,475.8 196.1,476.7 196.5,477.7 196.9,478.9 197.2,480.3 197.6,481.8 198.0,483.5 198.3,485.4 198.7,487.5 199.0,425.1 199.4,425.1 199.8,424.9 200.1,424.5 200.5,424.0 200.9,423.3 201.2,422.4 201.6,421.3 202.0,420.0 202.3,418.4 202.7,416.7 203.1,414.7 203.4,412.5 203.8,410.1 204.2,407.4 204.5,473.7 204.9,473.7 205.2,473.8 205.6,474.1 206.0,474.5 206.3,475.1 206.7,475.8 207.1,476.7 207.5,477.7 207.8,478.9 208.2,480.3 208.6,481.8 208.9,483.5 209.3,485.4 209.7,487.5 210.0,425.1 210.4,425.1 210.7,424.9 211.1,424.5 211.5,424.0 211.8,423.3 212.2,422.4 212.6,421.3 212.9,420.0 213.3,418.4 213.7,416.7 214.0,414.7 214.4,412.5 214.8,410.1 215.1,407.4 215.5,473.7 215.8,473.7 216.2,473.8 216.6,474.1 216.9,474.5 217.3,475.1 217.7,475.8 218.0,476.7 218.4,477.7 218.8,478.9 219.2,480.3 219.5,481.8 219.9,483.5 220.3,485.4 220.6,487.5 221.0,425.1 221.3,425.1 221.7,424.9 222.1,424.5 222.4,424.0 222.8,423.3 223.2,422.4 223.5,421.3 223.9,420.0 224.3,418.4 224.6,416.7 225.0,414.7 225.4,412.5 225.7,410.1 226.1,407.4 226.4,473.7 226.8,473.7 227.2,473.8 227.5,474.1 227.9,474.5 228.3,475.1 228.6,475.8 229.0,476.7 229.4,477.7 229.7,478.9 230.1,480.3 230.5,481.8 230.9,483.5 231.2,485.4 231.6,487.5 231.9,425.1 232.3,425.1 232.7,424.9 233.0,424.5 233.4,424.0 233.8,423.3 234.1,422.4 234.5,421.3 234.9,420.0 235.2,418.4 235.6,416.7 236.0,414.7 236.3,412.5 236.7,410.1 237.1,407.4 237.4,473.7 237.8,473.7 238.1,473.8 238.5,474.1 238.9,474.5 239.2,475.1 239.6,475.8 240.0,476.7 240.3,477.7 240.7,478.9 241.1,480.3 241.4,481.8 241.8,483.5 242.2,485.4 242.5,487.5 244.2,421.0 244.5,418.7 244.8,415.5 245.1,411.6 245.4,407.4 245.6,402.8 245.9,397.9 246.2,392.8 246.5,387.5 246.8,381.9 247.0,376.2 247.3,370.3 247.6,364.2 247.9,358.0 248.2,351.7 249.9,470.9 250.1,472.7 250.4,475.4 250.7,478.5 251.0,481.9 251.3,485.6 251.5,489.6 251.8,493.7 252.1,498.1 252.4,502.6 252.7,507.2 252.9,512.0 253.2,516.9 253.5,522.0 253.8,527.2 255.5,421.0 255.8,418.9 256.0,415.9 256.3,412.4 256.6,408.5 256.9,404.3 257.2,399.8 257.4,395.1 257.7,390.2 258.0,385.1 258.3,379.8 258.6,374.4 258.8,368.8 259.1,363.1 259.4,357.2 261.1,470.9 261.4,472.7 261.7,475.4 261.9,478.5 262.2,481.9 262.5,485.6 262.8,489.6 263.1,493.7 263.3,498.1 263.6,502.6 263.9,507.2 264.2,512.0 264.5,516.9 264.7,522.0 265.0,527.2 266.7,421.0 267.0,418.9 267.3,415.9 267.6,412.4 267.8,408.5 268.1,404.3 268.4,399.8 268.7,395.1 269.0,390.2 269.2,385.1 269.5,379.8 269.8,374.4 270.1,368.8 270.4,363.1 270.6,357.2 272.3,470.9 272.6,472.7 272.9,475.4 273.2,478.5 273.5,481.9 273.7,485.6 274.0,489.6 274.3,493.7 274.6,498.1 274.9,502.6 275.1,507.2 275.4,512.0 275.7,516.9 276.0,522.0 276.3,527.2 277.9,421.0 278.2,418.9 278.5,415.9 278.8,412.4 279.1,408.5 279.4,404.3 279.6,399.8 279.9,395.1 280.2,390.2 280.5,385.1 280.8,379.8 281.0,374.4 281.3,368.8 281.6,363.1 281.9,357.2 283.6,470.9 283.8,472.7 284.1,475.4 284.4,478.5 284.7,481.9 285.0,485.6 285.3,489.6 285.5,493.7 285.8,498.1 286.1,502.6 286.4,507.2 286.7,512.0 286.9,516.9 287.2,522.0 287.5,527.2 289.2,421.0 289.5,418.9 289.7,415.9 290.0,412.4 290.3,408.5 290.6,404.3 290.9,399.8 291.2,395.1 291.4,390.2 291.7,385.1 292.0,379.8 292.3,374.4 292.6,368.8 292.8,363.1 293.1,357.2 294.8,470.9 295.1,472.7 295.4,475.4 295.6,478.5 295.9,481.9 296.2,485.6 296.5,489.6 296.8,493.7 297.1,498.1 297.3,502.6 297.6,507.2 297.9,512.0 298.2,516.9 298.5,522.0 298.7,527.2 299.1,443.7 299.4,443.7 299.8,443.7 300.2,443.6 300.5,443.5 300.9,443.4 301.2,443.2 301.6,443.0 302.0,442.7 302.3,442.5 302.7,442.1 303.1,441.8 303.4,441.3 303.8,440.9 304.2,440.4 304.5,455.6 304.8,455.6 305.2,455.7 305.6,455.8 305.9,455.9 306.3,456.1 306.7,456.3 307.0,456.5 307.4,456.8 307.7,457.2 308.1,457.6 308.5,458.1 308.8,458.6 309.2,459.2 309.6,459.8 309.9,443.7 310.3,443.7 310.6,443.7 311.0,443.6 311.3,443.5 311.7,443.4 312.1,443.2 312.4,443.0 312.8,442.7 313.2,442.5 313.5,442.1 313.9,441.8 314.2,441.3 314.6,440.9 315.0,440.4 315.3,455.6 315.7,455.6 316.0,455.7 316.4,455.8 316.8,455.9 317.1,456.1 317.5,456.3 317.8,456.5 318.2,456.8 318.6,457.2 318.9,457.6 319.3,458.1 319.7,458.6 320.0,459.2 320.4,459.8 320.7,443.7 321.1,443.7 321.4,443.7 321.8,443.6 322.2,443.5 322.5,443.4 322.9,443.2 323.3,443.0 323.6,442.7 324.0,442.5 324.3,442.1 324.7,441.8 325.1,441.3 325.4,440.9 325.8,440.4 326.1,455.6 326.5,455.6 326.9,455.7 327.2,455.8 327.6,455.9 327.9,456.1 328.3,456.3 328.7,456.5 329.0,456.8 329.4,457.2 329.8,457.6 330.1,458.1 330.5,458.6 330.9,459.2 331.2,459.8 331.5,443.7 331.9,443.7 332.3,443.7 332.6,443.6 333.0,443.5 333.4,443.4 333.7,443.2 334.1,443.0 334.4,442.7 334.8,442.5 335.2,442.1 335.5,441.8 335.9,441.3 336.3,440.9 336.6,440.4 337.0,455.6 337.3,455.6 337.7,455.7 338.0,455.8 338.4,455.9 338.8,456.1 339.1,456.3 339.5,456.5 339.9,456.8 340.2,457.2 340.6,457.6 341.0,458.1 341.3,458.6 341.7,459.2 342.0,459.8 342.4,443.7 342.7,443.7 343.1,443.7 343.5,443.6 343.8,443.5 344.2,443.4 344.5,443.2 344.9,443.0 345.3,442.7 345.6,442.5 346.0,442.1 346.4,441.8 346.7,441.3 347.1,440.9 347.5,440.4 347.8,455.6 348.1,455.6 348.5,455.7 348.9,455.8 349.2,455.9 349.6,456.1 350.0,456.3 350.3,456.5 350.7,456.8 351.1,457.2 351.4,457.6 351.8,458.1 352.1,458.6 352.5,459.2 352.9,459.8 353.2,443.7 353.6,443.7 353.9,443.7 354.3,443.6 354.6,443.5 355.0,443.4 355.4,443.2 355.7,443.0 356.1,442.7 356.5,442.5 356.8,442.1 357.2,441.8 357.6,441.3 357.9,440.9 358.3,440.4 358.6,455.6 359.0,455.6 359.3,455.7 359.7,455.8 360.1,455.9 360.4,456.1 360.8,456.3 361.2,456.5 361.5,456.8 361.9,457.2 362.2,457.6 362.6,458.1 363.0,458.6 363.3,459.2 363.7,459.8 364.0,443.7 364.4,443.7 364.7,443.7 365.1,443.6 365.5,443.5 365.8,443.4 366.2,443.2 366.6,443.0 366.9,442.7 367.3,442.5 367.7,442.1 368.0,441.8 368.4,441.3 368.7,440.9 369.1,440.4 369.4,455.6 369.8,455.6 370.2,455.7 370.5,455.8 370.9,455.9 371.3,456.1 371.6,456.3 372.0,456.5 372.3,456.8 372.7,457.2 373.1,457.6 373.4,458.1 373.8,458.6 374.2,459.2 374.5,459.8 374.8,443.7 375.2,443.7 375.6,443.7 375.9,443.6 376.3,443.5 376.7,443.4 377.0,443.2 377.4,443.0 377.8,442.7 378.1,442.5 378.5,442.1 378.8,441.8 379.2,441.3 379.6,440.9 379.9,440.4 380.3,455.6 380.6,455.6 381.0,455.7 381.3,455.8 381.7,455.9 382.1,456.1 382.4,456.3 382.8,456.5 383.2,456.8 383.5,457.2 383.9,457.6 384.3,458.1 384.6,458.6 385.0,459.2 385.3,459.8 385.7,443.7 386.0,443.7 386.4,443.7 386.8,443.6 387.1,443.5 387.5,443.4 387.9,443.2 388.2,443.0 388.6,442.7 388.9,442.5 389.3,442.1 389.7,441.8 390.0,441.3 390.4,440.9 390.8,440.4 391.1,455.6 391.4,455.6 391.8,455.7 392.2,455.8 392.5,455.9 392.9,456.1 393.3,456.3 393.6,456.5 394.0,456.8 394.4,457.2 394.7,457.6 395.1,458.1 395.4,458.6 395.8,459.2 396.2,459.8 396.5,443.7 396.9,443.7 397.2,443.7 397.6,443.6 398.0,443.5 398.3,443.4 398.7,443.2 399.0,443.0 399.4,442.7 399.8,442.5 400.1,442.1 400.5,441.8 400.9,441.3 401.2,440.9 401.6,440.4 401.9,455.6 402.3,455.6 402.6,455.7 403.0,455.8 403.4,455.9 403.7,456.1 404.1,456.3 404.5,456.5 404.8,456.8 405.2,457.2 405.5,457.6 405.9,458.1 406.3,458.6 406.6,459.2 407.0,459.8" fill="none" stroke="#000" stroke-width="2.8" stroke-linejoin="round" clip-path="url(#cd)"/>
<path d="M78.4,442.9 78.8,440.6 79.2,439.3 79.5,438.5 79.9,438.0 80.3,437.8 80.6,437.6 81.0,437.6 81.4,437.6 81.7,437.6 82.1,437.6 82.5,437.6 82.8,437.7 83.2,437.7 83.6,437.8 83.9,454.0 84.3,456.0 84.6,457.2 85.0,457.9 85.4,458.3 85.8,458.6 86.1,458.7 86.5,458.8 86.9,458.8 87.2,458.8 87.6,458.7 88.0,458.7 88.3,458.7 88.7,458.6 89.1,458.6 89.4,442.9 89.8,440.6 90.1,439.3 90.5,438.5 90.9,438.0 91.2,437.8 91.6,437.6 92.0,437.6 92.3,437.6 92.7,437.6 93.1,437.6 93.4,437.6 93.8,437.7 94.2,437.7 94.5,437.8 94.9,454.0 95.2,456.0 95.6,457.2 96.0,457.9 96.3,458.3 96.7,458.6 97.1,458.7 97.5,458.8 97.8,458.8 98.2,458.8 98.6,458.7 98.9,458.7 99.3,458.7 99.7,458.6 100.0,458.6 100.4,442.9 100.7,440.6 101.1,439.3 101.5,438.5 101.8,438.0 102.2,437.8 102.6,437.6 102.9,437.6 103.3,437.6 103.7,437.6 104.0,437.6 104.4,437.6 104.8,437.7 105.1,437.7 105.5,437.8 105.8,454.0 106.2,456.0 106.6,457.2 106.9,457.9 107.3,458.3 107.7,458.6 108.0,458.7 108.4,458.8 108.8,458.8 109.1,458.8 109.5,458.7 109.9,458.7 110.3,458.7 110.6,458.6 111.0,458.6 111.3,442.9 111.7,440.6 112.1,439.3 112.4,438.5 112.8,438.0 113.2,437.8 113.5,437.6 113.9,437.6 114.3,437.6 114.6,437.6 115.0,437.6 115.4,437.6 115.7,437.7 116.1,437.7 116.5,437.8 116.8,454.0 117.2,456.0 117.5,457.2 117.9,457.9 118.3,458.3 118.6,458.6 119.0,458.7 119.4,458.8 119.7,458.8 120.1,458.8 120.5,458.7 120.8,458.7 121.2,458.7 121.6,458.6 122.0,458.6 122.3,442.9 122.7,440.6 123.0,439.3 123.4,438.5 123.8,438.0 124.1,437.8 124.5,437.6 124.9,437.6 125.2,437.6 125.6,437.6 126.0,437.6 126.3,437.6 126.7,437.7 127.1,437.7 127.4,437.8 127.8,454.0 128.1,456.0 128.5,457.2 128.9,457.9 129.2,458.3 129.6,458.6 130.0,458.7 130.3,458.8 130.7,458.8 131.1,458.8 131.4,458.7 131.8,458.7 132.2,458.7 132.5,458.6 132.9,458.6 133.2,439.8 133.6,436.4 134.0,434.4 134.3,433.2 134.7,432.5 135.1,432.1 135.5,431.9 135.8,431.8 136.2,431.7 136.6,431.7 136.9,431.8 137.3,431.8 137.7,431.9 138.0,432.0 138.4,432.0 138.7,456.6 139.1,459.6 139.5,461.5 139.8,462.5 140.2,463.2 140.6,463.5 140.9,463.7 141.3,463.8 141.7,463.8 142.0,463.8 142.4,463.8 142.8,463.7 143.1,463.7 143.5,463.6 143.9,463.5 144.2,439.8 144.6,436.4 144.9,434.4 145.3,433.2 145.7,432.5 146.0,432.1 146.4,431.9 146.8,431.8 147.2,431.7 147.5,431.7 147.9,431.8 148.3,431.8 148.6,431.9 149.0,432.0 149.4,432.0 149.7,456.6 150.1,459.6 150.4,461.5 150.8,462.5 151.2,463.2 151.5,463.5 151.9,463.7 152.3,463.8 152.6,463.8 153.0,463.8 153.4,463.8 153.7,463.7 154.1,463.7 154.5,463.6 154.8,463.5 155.2,439.8 155.5,436.4 155.9,434.4 156.3,433.2 156.6,432.5 157.0,432.1 157.4,431.9 157.7,431.8 158.1,431.7 158.5,431.7 158.9,431.8 159.2,431.8 159.6,431.9 160.0,432.0 160.3,432.0 160.7,456.6 161.0,459.6 161.4,461.5 161.8,462.5 162.1,463.2 162.5,463.5 162.9,463.7 163.2,463.8 163.6,463.8 164.0,463.8 164.3,463.8 164.7,463.7 165.1,463.7 165.4,463.6 165.8,463.5 166.1,439.8 166.5,436.4 166.9,434.4 167.2,433.2 167.6,432.5 168.0,432.1 168.3,431.9 168.7,431.8 169.1,431.7 169.4,431.7 169.8,431.8 170.2,431.8 170.6,431.9 170.9,432.0 171.3,432.0 171.6,456.6 172.0,459.6 172.4,461.5 172.7,462.5 173.1,463.2 173.5,463.5 173.8,463.7 174.2,463.8 174.6,463.8 174.9,463.8 175.3,463.8 175.7,463.7 176.0,463.7 176.4,463.6 176.8,463.5 177.1,439.8 177.5,436.4 177.8,434.4 178.2,433.2 178.6,432.5 178.9,432.1 179.3,431.9 179.7,431.8 180.0,431.7 180.4,431.7 180.8,431.8 181.1,431.8 181.5,431.9 181.9,432.0 182.3,432.0 182.6,456.6 182.9,459.6 183.3,461.5 183.7,462.5 184.1,463.2 184.4,463.5 184.8,463.7 185.2,463.8 185.5,463.8 185.9,463.8 186.3,463.8 186.6,463.7 187.0,463.7 187.4,463.6 187.7,463.5 188.1,434.8 188.4,429.5 188.8,426.3 189.2,424.4 189.5,423.3 189.9,422.7 190.3,422.4 190.6,422.2 191.0,422.2 191.4,422.2 191.7,422.3 192.1,422.3 192.5,422.4 192.8,422.5 193.2,422.7 193.5,463.9 193.9,469.8 194.3,473.3 194.6,475.4 195.0,476.6 195.4,477.3 195.8,477.7 196.1,477.8 196.5,477.9 196.9,477.9 197.2,477.8 197.6,477.7 198.0,477.6 198.3,477.5 198.7,477.4 199.0,434.8 199.4,429.5 199.8,426.3 200.1,424.4 200.5,423.3 200.9,422.7 201.2,422.4 201.6,422.2 202.0,422.2 202.3,422.2 202.7,422.3 203.1,422.3 203.4,422.4 203.8,422.5 204.2,422.7 204.5,463.9 204.9,469.8 205.2,473.3 205.6,475.4 206.0,476.6 206.3,477.3 206.7,477.7 207.1,477.8 207.5,477.9 207.8,477.9 208.2,477.8 208.6,477.7 208.9,477.6 209.3,477.5 209.7,477.4 210.0,434.8 210.4,429.5 210.7,426.3 211.1,424.4 211.5,423.3 211.8,422.7 212.2,422.4 212.6,422.2 212.9,422.2 213.3,422.2 213.7,422.3 214.0,422.3 214.4,422.4 214.8,422.5 215.1,422.7 215.5,463.9 215.8,469.8 216.2,473.3 216.6,475.4 216.9,476.6 217.3,477.3 217.7,477.7 218.0,477.8 218.4,477.9 218.8,477.9 219.2,477.8 219.5,477.7 219.9,477.6 220.3,477.5 220.6,477.4 221.0,434.8 221.3,429.5 221.7,426.3 222.1,424.4 222.4,423.3 222.8,422.7 223.2,422.4 223.5,422.2 223.9,422.2 224.3,422.2 224.6,422.3 225.0,422.3 225.4,422.4 225.7,422.5 226.1,422.7 226.4,463.9 226.8,469.8 227.2,473.3 227.5,475.4 227.9,476.6 228.3,477.3 228.6,477.7 229.0,477.8 229.4,477.9 229.7,477.9 230.1,477.8 230.5,477.7 230.9,477.6 231.2,477.5 231.6,477.4 231.9,434.8 232.3,429.5 232.7,426.3 233.0,424.4 233.4,423.3 233.8,422.7 234.1,422.4 234.5,422.2 234.9,422.2 235.2,422.2 235.6,422.3 236.0,422.3 236.3,422.4 236.7,422.5 237.1,422.7 237.4,463.9 237.8,469.8 238.1,473.3 238.5,475.4 238.9,476.6 239.2,477.3 239.6,477.7 240.0,477.8 240.3,477.9 240.7,477.9 241.1,477.8 241.4,477.7 241.8,477.6 242.2,477.5 242.5,477.4 244.2,431.0 244.5,424.1 244.8,420.0 245.1,417.6 245.4,416.2 245.6,415.4 245.9,415.0 246.2,414.8 246.5,414.8 246.8,414.8 247.0,414.9 247.3,415.0 247.6,415.1 247.9,415.2 248.2,415.4 249.9,463.9 250.1,469.8 250.4,473.3 250.7,475.4 251.0,476.6 251.3,477.3 251.5,477.7 251.8,477.8 252.1,477.9 252.4,477.9 252.7,477.8 252.9,477.7 253.2,477.6 253.5,477.5 253.8,477.4 255.5,431.0 255.8,424.1 256.0,420.0 256.3,417.6 256.6,416.2 256.9,415.4 257.2,415.0 257.4,414.8 257.7,414.8 258.0,414.8 258.3,414.9 258.6,415.0 258.8,415.1 259.1,415.2 259.4,415.4 261.1,463.9 261.4,469.8 261.7,473.3 261.9,475.4 262.2,476.6 262.5,477.3 262.8,477.7 263.1,477.8 263.3,477.9 263.6,477.9 263.9,477.8 264.2,477.7 264.5,477.6 264.7,477.5 265.0,477.4 266.7,431.0 267.0,424.1 267.3,420.0 267.6,417.6 267.8,416.2 268.1,415.4 268.4,415.0 268.7,414.8 269.0,414.8 269.2,414.8 269.5,414.9 269.8,415.0 270.1,415.1 270.4,415.2 270.6,415.4 272.3,463.9 272.6,469.8 272.9,473.3 273.2,475.4 273.5,476.6 273.7,477.3 274.0,477.7 274.3,477.8 274.6,477.9 274.9,477.9 275.1,477.8 275.4,477.7 275.7,477.6 276.0,477.5 276.3,477.4 277.9,431.0 278.2,424.1 278.5,420.0 278.8,417.6 279.1,416.2 279.4,415.4 279.6,415.0 279.9,414.8 280.2,414.8 280.5,414.8 280.8,414.9 281.0,415.0 281.3,415.1 281.6,415.2 281.9,415.4 283.6,463.9 283.8,469.8 284.1,473.3 284.4,475.4 284.7,476.6 285.0,477.3 285.3,477.7 285.5,477.8 285.8,477.9 286.1,477.9 286.4,477.8 286.7,477.7 286.9,477.6 287.2,477.5 287.5,477.4 289.2,431.0 289.5,424.1 289.7,420.0 290.0,417.6 290.3,416.2 290.6,415.4 290.9,415.0 291.2,414.8 291.4,414.8 291.7,414.8 292.0,414.9 292.3,415.0 292.6,415.1 292.8,415.2 293.1,415.4 294.8,463.9 295.1,469.8 295.4,473.3 295.6,475.4 295.9,476.6 296.2,477.3 296.5,477.7 296.8,477.8 297.1,477.9 297.3,477.9 297.6,477.8 297.9,477.7 298.2,477.6 298.5,477.5 298.7,477.4 299.1,445.4 299.4,444.1 299.8,443.3 300.2,442.9 300.5,442.6 300.9,442.5 301.2,442.4 301.6,442.3 302.0,442.3 302.3,442.3 302.7,442.4 303.1,442.4 303.4,442.4 303.8,442.4 304.2,442.4 304.5,452.9 304.8,454.5 305.2,455.4 305.6,456.0 305.9,456.3 306.3,456.5 306.7,456.6 307.0,456.6 307.4,456.7 307.7,456.7 308.1,456.6 308.5,456.6 308.8,456.6 309.2,456.5 309.6,456.5 309.9,445.4 310.3,444.1 310.6,443.3 311.0,442.9 311.3,442.6 311.7,442.5 312.1,442.4 312.4,442.3 312.8,442.3 313.2,442.3 313.5,442.4 313.9,442.4 314.2,442.4 314.6,442.4 315.0,442.4 315.3,452.9 315.7,454.5 316.0,455.4 316.4,456.0 316.8,456.3 317.1,456.5 317.5,456.6 317.8,456.6 318.2,456.7 318.6,456.7 318.9,456.6 319.3,456.6 319.7,456.6 320.0,456.5 320.4,456.5 320.7,445.4 321.1,444.1 321.4,443.3 321.8,442.9 322.2,442.6 322.5,442.5 322.9,442.4 323.3,442.3 323.6,442.3 324.0,442.3 324.3,442.4 324.7,442.4 325.1,442.4 325.4,442.4 325.8,442.4 326.1,452.9 326.5,454.5 326.9,455.4 327.2,456.0 327.6,456.3 327.9,456.5 328.3,456.6 328.7,456.6 329.0,456.7 329.4,456.7 329.8,456.6 330.1,456.6 330.5,456.6 330.9,456.5 331.2,456.5 331.5,445.4 331.9,444.1 332.3,443.3 332.6,442.9 333.0,442.6 333.4,442.5 333.7,442.4 334.1,442.3 334.4,442.3 334.8,442.3 335.2,442.4 335.5,442.4 335.9,442.4 336.3,442.4 336.6,442.4 337.0,452.9 337.3,454.5 337.7,455.4 338.0,456.0 338.4,456.3 338.8,456.5 339.1,456.6 339.5,456.6 339.9,456.7 340.2,456.7 340.6,456.6 341.0,456.6 341.3,456.6 341.7,456.5 342.0,456.5 342.4,445.4 342.7,444.1 343.1,443.3 343.5,442.9 343.8,442.6 344.2,442.5 344.5,442.4 344.9,442.3 345.3,442.3 345.6,442.3 346.0,442.4 346.4,442.4 346.7,442.4 347.1,442.4 347.5,442.4 347.8,452.9 348.1,454.5 348.5,455.4 348.9,456.0 349.2,456.3 349.6,456.5 350.0,456.6 350.3,456.6 350.7,456.7 351.1,456.7 351.4,456.6 351.8,456.6 352.1,456.6 352.5,456.5 352.9,456.5 353.2,445.4 353.6,444.1 353.9,443.3 354.3,442.9 354.6,442.6 355.0,442.5 355.4,442.4 355.7,442.3 356.1,442.3 356.5,442.3 356.8,442.4 357.2,442.4 357.6,442.4 357.9,442.4 358.3,442.4 358.6,452.9 359.0,454.5 359.3,455.4 359.7,456.0 360.1,456.3 360.4,456.5 360.8,456.6 361.2,456.6 361.5,456.7 361.9,456.7 362.2,456.6 362.6,456.6 363.0,456.6 363.3,456.5 363.7,456.5 364.0,445.4 364.4,444.1 364.7,443.3 365.1,442.9 365.5,442.6 365.8,442.5 366.2,442.4 366.6,442.3 366.9,442.3 367.3,442.3 367.7,442.4 368.0,442.4 368.4,442.4 368.7,442.4 369.1,442.4 369.4,452.9 369.8,454.5 370.2,455.4 370.5,456.0 370.9,456.3 371.3,456.5 371.6,456.6 372.0,456.6 372.3,456.7 372.7,456.7 373.1,456.6 373.4,456.6 373.8,456.6 374.2,456.5 374.5,456.5 374.8,445.4 375.2,444.1 375.6,443.3 375.9,442.9 376.3,442.6 376.7,442.5 377.0,442.4 377.4,442.3 377.8,442.3 378.1,442.3 378.5,442.4 378.8,442.4 379.2,442.4 379.6,442.4 379.9,442.4 380.3,452.9 380.6,454.5 381.0,455.4 381.3,456.0 381.7,456.3 382.1,456.5 382.4,456.6 382.8,456.6 383.2,456.7 383.5,456.7 383.9,456.6 384.3,456.6 384.6,456.6 385.0,456.5 385.3,456.5 385.7,445.4 386.0,444.1 386.4,443.3 386.8,442.9 387.1,442.6 387.5,442.5 387.9,442.4 388.2,442.3 388.6,442.3 388.9,442.3 389.3,442.4 389.7,442.4 390.0,442.4 390.4,442.4 390.8,442.4 391.1,452.9 391.4,454.5 391.8,455.4 392.2,456.0 392.5,456.3 392.9,456.5 393.3,456.6 393.6,456.6 394.0,456.7 394.4,456.7 394.7,456.6 395.1,456.6 395.4,456.6 395.8,456.5 396.2,456.5 396.5,445.4 396.9,444.1 397.2,443.3 397.6,442.9 398.0,442.6 398.3,442.5 398.7,442.4 399.0,442.3 399.4,442.3 399.8,442.3 400.1,442.4 400.5,442.4 400.9,442.4 401.2,442.4 401.6,442.4 401.9,452.9 402.3,454.5 402.6,455.4 403.0,456.0 403.4,456.3 403.7,456.5 404.1,456.6 404.5,456.6 404.8,456.7 405.2,456.7 405.5,456.6 405.9,456.6 406.3,456.6 406.6,456.5 407.0,456.5" fill="none" stroke="#9a12c8" stroke-width="2.8" stroke-linejoin="round" clip-path="url(#cd)"/>
<path d="M132.3 337.8V559.6M188.7 337.8V559.6M242.4 337.8V559.6M299.3 337.8V559.6" stroke="#222" stroke-width="1.3" stroke-dasharray="2.2 2.2"/>
<rect x="78.1" y="337.8" width="328.9" height="221.8" fill="none" stroke="#000" stroke-width="1.8"/>
<path d="M70.1 337.8H78.1M70.1 393.25H78.1M70.1 448.7H78.1M70.1 504.15H78.1M70.1 559.6H78.1M74.1 365.53H78.1M74.1 420.98H78.1M74.1 476.42H78.1M74.1 531.88H78.1" stroke="#000" stroke-width="1.6" fill="none"/>
<text x="65.8" y="343.2" font-size="18.5" text-anchor="end">0.4</text>
<text x="65.8" y="398.65" font-size="18.5" text-anchor="end">0.2</text>
<text x="65.8" y="454.1" font-size="18.5" text-anchor="end">0.0</text>
<text x="65.8" y="509.55" font-size="18.5" text-anchor="end">-0.2</text>
<text x="65.8" y="565" font-size="18.5" text-anchor="end">-0.4</text>
<path d="M78.1 559.6V567.6M160.32 559.6V567.6M242.55 559.6V567.6M324.77 559.6V567.6M407 559.6V567.6M119.21 559.6V563.6M201.44 559.6V563.6M283.66 559.6V563.6M365.89 559.6V563.6" stroke="#000" stroke-width="1.6" fill="none"/>
<text x="78.1" y="588.6" font-size="18.5" text-anchor="middle">0</text>
<text x="160.32" y="588.6" font-size="18.5" text-anchor="middle">3</text>
<text x="242.55" y="588.6" font-size="18.5" text-anchor="middle">6</text>
<text x="324.77" y="588.6" font-size="18.5" text-anchor="middle">9</text>
<text x="407" y="588.6" font-size="18.5" text-anchor="middle">12</text>
<path d="M78.1 350.5H102.3" stroke="#000" stroke-width="2.2"/>
<path d="M78.1 374.8H102.3" stroke="#9a12c8" stroke-width="2.2"/>
<text x="112.2" y="356.6" font-size="19.5" text-anchor="start">CuNW</text>
<text x="112.2" y="380.3" font-size="19.5" text-anchor="start">CuNW@ZnHQ</text>
<text x="111.4" y="541.5" font-size="19.5" text-anchor="middle">0.5</text>
<text x="156" y="541.5" font-size="19.5" text-anchor="middle">1</text>
<text x="214.3" y="541.5" font-size="19.5" text-anchor="middle">2</text>
<text x="279.4" y="541.5" font-size="19.5" text-anchor="middle">5</text>
<text x="353.1" y="541.5" font-size="19.5" text-anchor="middle">0.5</text>
<text x="239.3" y="608" font-size="19.5" text-anchor="middle">Time (h)</text>
<text transform="translate(30.2 454.3) rotate(-90)" font-size="19.5" text-anchor="middle">Voltage (V)</text>
<clipPath id="ce"><rect x="489" y="337.8" width="329.2" height="221.8"/></clipPath>
<path d="M502.2,556.3 503.3,554.7 504.4,553.4 505.5,552.1 507.0,550.3 508.8,548.5 512.3,544.3 516.4,540.1 521.5,536.1 527.4,532.5 533.6,529.9 546.5,527.2 557.5,528.1 568.4,531.7 577.2,536.8 584.2,544.5 588.2,549.6 590.4,551.6 591.7,552.1 593.2,552.3 594.3,551.4 596.1,550.3 598.5,547.6 609.9,539.2 617.4,536.1 625.3,534.3 634.5,535.4" fill="none" stroke="#f08080" stroke-width="0.9" stroke-linejoin="round" clip-path="url(#ce)"/>
<path d="M500.0,554.1 506.6,547.4 514.2,539.6 520.8,534.3 527.4,527.7 536.0,518.8 547.8,507.7 564.3,493.9 588.2,481.1 618.0,471.1" fill="none" stroke="#c080e0" stroke-width="0.9" stroke-linejoin="round" clip-path="url(#ce)"/>
<path d="M652.7,471.1 683.4,479.3 706.5,492.2 721.6,504.8 731.1,511.0 739.0,512.8 745.1,507.7 751.9,495.1 762.9,475.1 777.6,442.7 801.3,397.7 819.3,365.5" fill="none" stroke="#c080e0" stroke-width="0.9" stroke-linejoin="round" clip-path="url(#ce)"/>
<path d="M504.4,559.2 505.0,557.6 505.7,556.3 506.6,554.7 507.2,553.2 508.1,551.6 508.8,550.1 509.8,548.5 510.9,546.3 512.5,543.6 514.2,540.7 516.4,538.5 518.6,536.3 523.2,532.5 533.6,523.7 545.4,516.8 562.5,512.1 580.7,512.1 596.8,516.8 609.5,524.8 618.5,532.3 624.2,538.3 626.2,539.6 628.6,540.7 630.6,540.5 634.5,540.1 640.4,529.2 650.5,522.1 661.9,515.2 677.3,508.6 694.4,505.9 710.7,504.8 726.0,504.2" fill="none" stroke="#80e880" stroke-width="0.9" stroke-linejoin="round" clip-path="url(#ce)" stroke-dasharray="2 1.5"/>
<path d="M502.2 557.0h4.4v4.4h-4.4ZM502.8 555.4h4.4v4.4h-4.4ZM503.5 554.1h4.4v4.4h-4.4ZM504.4 552.5h4.4v4.4h-4.4ZM505.0 551.0h4.4v4.4h-4.4ZM505.9 549.4h4.4v4.4h-4.4ZM506.6 547.9h4.4v4.4h-4.4ZM507.6 546.3h4.4v4.4h-4.4ZM508.7 544.1h4.4v4.4h-4.4ZM510.3 541.4h4.4v4.4h-4.4ZM512.0 538.5h4.4v4.4h-4.4ZM514.2 536.3h4.4v4.4h-4.4ZM516.4 534.1h4.4v4.4h-4.4ZM521.0 530.3h4.4v4.4h-4.4ZM531.4 521.5h4.4v4.4h-4.4ZM543.2 514.6h4.4v4.4h-4.4ZM560.3 509.9h4.4v4.4h-4.4ZM578.5 509.9h4.4v4.4h-4.4ZM594.6 514.6h4.4v4.4h-4.4ZM607.3 522.6h4.4v4.4h-4.4ZM616.3 530.1h4.4v4.4h-4.4ZM622.0 536.1h4.4v4.4h-4.4ZM624.0 537.4h4.4v4.4h-4.4ZM626.4 538.5h4.4v4.4h-4.4ZM628.4 538.3h4.4v4.4h-4.4ZM632.3 537.9h4.4v4.4h-4.4ZM638.2 527.0h4.4v4.4h-4.4ZM648.3 519.9h4.4v4.4h-4.4ZM659.7 513.0h4.4v4.4h-4.4ZM675.1 506.4h4.4v4.4h-4.4ZM692.2 503.7h4.4v4.4h-4.4ZM708.5 502.6h4.4v4.4h-4.4ZM723.8 502.0h4.4v4.4h-4.4Z" fill="#38d838" clip-path="url(#ce)"/>
<path d="M498.5 557.8L501.1 555.2L503.7 557.8L501.1 560.4ZM499.6 556.3L502.2 553.7L504.8 556.3L502.2 558.9ZM500.7 554.7L503.3 552.1L505.9 554.7L503.3 557.3ZM501.8 553.4L504.4 550.8L507.0 553.4L504.4 556.0ZM502.9 552.1L505.5 549.5L508.1 552.1L505.5 554.7ZM504.0 550.7L506.6 548.1L509.2 550.7L506.6 553.3ZM505.5 549.0L508.1 546.4L510.7 549.0L508.1 551.6ZM507.2 547.4L509.8 544.8L512.4 547.4L509.8 550.0ZM509.4 545.2L512.0 542.6L514.6 545.2L512.0 547.8ZM511.6 543.0L514.2 540.4L516.8 543.0L514.2 545.6ZM513.8 541.2L516.4 538.6L519.0 541.2L516.4 543.8ZM516.0 539.6L518.6 537.0L521.2 539.6L518.6 542.2ZM520.6 536.8L523.2 534.2L525.8 536.8L523.2 539.4ZM525.9 535.2L528.5 532.6L531.1 535.2L528.5 537.8ZM532.5 533.9L535.1 531.3L537.7 533.9L535.1 536.5ZM543.9 533.2L546.5 530.6L549.1 533.2L546.5 535.8ZM553.1 536.8L555.7 534.2L558.3 536.8L555.7 539.4ZM559.9 541.9L562.5 539.3L565.1 541.9L562.5 544.5ZM563.2 545.2L565.8 542.6L568.4 545.2L565.8 547.8ZM565.8 547.6L568.4 545.0L571.0 547.6L568.4 550.2ZM567.6 551.2L570.2 548.6L572.8 551.2L570.2 553.8ZM568.5 553.2L571.1 550.6L573.7 553.2L571.1 555.8ZM570.2 552.1L572.8 549.5L575.4 552.1L572.8 554.7ZM572.0 550.9L574.6 548.3L577.2 550.9L574.6 553.5ZM576.2 548.7L578.8 546.1L581.4 548.7L578.8 551.3ZM582.3 546.3L584.9 543.7L587.5 546.3L584.9 548.9ZM590.9 544.3L593.5 541.7L596.1 544.3L593.5 546.9ZM601.2 543.6L603.8 541.0L606.4 543.6L603.8 546.2ZM613.0 541.9L615.6 539.3L618.2 541.9L615.6 544.5ZM626.0 540.1L628.6 537.5L631.2 540.1L628.6 542.7ZM637.0 539.2L639.6 536.6L642.2 539.2L639.6 541.8ZM649.0 537.6L651.6 535.0L654.2 537.6L651.6 540.2ZM659.3 538.3L661.9 535.7L664.5 538.3L661.9 540.9Z" fill="#e8fafc" stroke="#44b8c8" stroke-width="1.4" clip-path="url(#ce)"/>
<path d="M499.5 557.9L504.9 557.9L502.2 553.5ZM500.6 556.3L506.0 556.3L503.3 551.9ZM501.7 555.0L507.1 555.0L504.4 550.6ZM502.8 553.7L508.2 553.7L505.5 549.3ZM504.3 551.9L509.7 551.9L507.0 547.5ZM506.1 550.1L511.5 550.1L508.8 545.7ZM509.6 545.9L515.0 545.9L512.3 541.5ZM513.7 541.7L519.1 541.7L516.4 537.3ZM518.8 537.7L524.2 537.7L521.5 533.3ZM524.7 534.1L530.1 534.1L527.4 529.7ZM530.9 531.5L536.3 531.5L533.6 527.1ZM543.8 528.8L549.2 528.8L546.5 524.4ZM554.8 529.7L560.2 529.7L557.5 525.3ZM565.7 533.3L571.1 533.3L568.4 528.9ZM574.5 538.4L579.9 538.4L577.2 534.0ZM581.5 546.1L586.9 546.1L584.2 541.7ZM585.5 551.2L590.9 551.2L588.2 546.8ZM587.7 553.2L593.1 553.2L590.4 548.8ZM589.0 553.7L594.4 553.7L591.7 549.3ZM590.5 553.9L595.9 553.9L593.2 549.5ZM591.6 553.0L597.0 553.0L594.3 548.6ZM593.4 551.9L598.8 551.9L596.1 547.5ZM595.8 549.2L601.2 549.2L598.5 544.8ZM607.2 540.8L612.6 540.8L609.9 536.4ZM614.7 537.7L620.1 537.7L617.4 533.3ZM622.6 535.9L628.0 535.9L625.3 531.5ZM631.8 537.0L637.2 537.0L634.5 532.6Z" fill="#f8c0b8" stroke="#e8403a" stroke-width="1.3" clip-path="url(#ce)"/>
<path d="M497.2 552.4L502.8 552.4L500.0 557.0ZM503.8 545.7L509.4 545.7L506.6 550.3ZM511.4 537.9L517.0 537.9L514.2 542.5ZM518.0 532.6L523.6 532.6L520.8 537.2ZM524.6 526.0L530.2 526.0L527.4 530.6ZM533.2 517.1L538.8 517.1L536.0 521.7ZM545.0 506.0L550.6 506.0L547.8 510.6ZM561.5 492.2L567.1 492.2L564.3 496.8ZM585.4 479.4L591.0 479.4L588.2 484.0ZM615.2 469.4L620.8 469.4L618.0 474.0ZM649.9 469.4L655.5 469.4L652.7 474.0ZM680.6 477.6L686.2 477.6L683.4 482.2ZM703.7 490.5L709.3 490.5L706.5 495.1ZM718.8 503.1L724.4 503.1L721.6 507.7ZM728.3 509.3L733.9 509.3L731.1 513.9ZM736.2 511.1L741.8 511.1L739.0 515.7ZM742.3 506.0L747.9 506.0L745.1 510.6ZM749.1 493.4L754.7 493.4L751.9 498.0ZM760.1 473.4L765.7 473.4L762.9 478.0ZM774.8 441.0L780.4 441.0L777.6 445.6ZM798.5 396.0L804.1 396.0L801.3 400.6Z" fill="#f0e0f8" stroke="#a848d8" stroke-width="1.3" clip-path="url(#ce)"/>
<rect x="489" y="337.8" width="329.2" height="221.8" fill="none" stroke="#000" stroke-width="1.8"/>
<path d="M481 559.6H489M481 504.15H489M481 448.7H489M481 393.25H489M481 337.8H489M485 531.88H489M485 476.43H489M485 420.98H489M485 365.52H489" stroke="#000" stroke-width="1.6" fill="none"/>
<text x="475.7" y="565" font-size="18.5" text-anchor="end">0</text>
<text x="475.7" y="509.55" font-size="18.5" text-anchor="end">25</text>
<text x="475.7" y="454.1" font-size="18.5" text-anchor="end">50</text>
<text x="475.7" y="398.65" font-size="18.5" text-anchor="end">75</text>
<text x="475.7" y="343.2" font-size="18.5" text-anchor="end">100</text>
<path d="M489 559.6V567.6M598.73 559.6V567.6M708.47 559.6V567.6M818.2 559.6V567.6M543.87 559.6V563.6M653.6 559.6V563.6M763.33 559.6V563.6" stroke="#000" stroke-width="1.6" fill="none"/>
<text x="489" y="586" font-size="18.5" text-anchor="middle">0</text>
<text x="598.73" y="586" font-size="18.5" text-anchor="middle">50</text>
<text x="708.47" y="586" font-size="18.5" text-anchor="middle">100</text>
<text x="818.2" y="586" font-size="18.5" text-anchor="middle">150</text>
<path d="M496.6 353.6H540.2" stroke="#f08080" stroke-width="1.1"/>
<path d="M516.2 355L520.6 355L518.4 351.4Z" fill="#f06058" stroke="#e8403a" stroke-width="1.1"/>
<path d="M496.6 377.5H540.2" stroke="#c080e0" stroke-width="1.1"/>
<path d="M516 376L520.8 376L518.4 379.8Z" fill="#9020c8" stroke="#a848d8" stroke-width="1.1"/>
<path d="M518.4 398.6L520.8 401L518.4 403.4L516 401Z" fill="#fff" stroke="#44b8c8" stroke-width="1.2"/>
<path d="M496.6 424.4H540.2" stroke="#80e880" stroke-width="1.1"/>
<rect x="516.4" y="422.4" width="4" height="4" fill="#38d838"/>
<text x="540.3" y="359.5" font-size="19.5" text-anchor="start">CuNW 10th</text>
<text x="540.3" y="383.2" font-size="19.5" text-anchor="start">CuNW 100th</text>
<text x="540.3" y="406.7" font-size="19.5" text-anchor="start">CuNW@ZnHQ 10th</text>
<text x="540.3" y="430" font-size="19.5" text-anchor="start">CuNW@ZnHQ 100th</text>
<text x="682.3" y="608" font-size="19.5" text-anchor="middle">Z' (ohm)</text>
<text transform="translate(446 452.1) rotate(-90)" font-size="19.5" text-anchor="middle">-Z''(ohm)</text>
<clipPath id="cf"><rect x="914" y="337.8" width="328.4" height="221.6"/></clipPath>
<path d="M914.0,438.1 916.9,438.1 919.8,438.0 922.7,438.0 925.6,438.0 928.5,438.0 931.4,438.0 934.3,438.0 937.2,437.9 940.1,437.9 943.0,437.9 945.9,437.9 948.8,437.9 951.6,437.9 954.5,437.8 957.4,437.8 960.3,437.8 963.2,437.8 966.1,437.8 969.0,437.8 971.9,437.7 974.8,437.7 977.7,437.7 980.6,437.7 983.5,437.7 986.4,437.7 989.3,437.6 992.2,437.6 995.1,437.6 998.0,437.6 1000.9,437.6 1003.8,437.6 1006.7,437.5 1009.6,437.5 1012.5,437.5 1015.4,437.4 1018.3,437.3 1021.2,437.3 1024.0,437.2 1026.9,437.1 1029.8,437.1 1032.7,437.0 1035.6,436.9 1038.5,436.9 1041.4,436.8 1044.3,436.7 1047.2,436.7 1050.1,436.6 1053.0,436.5 1055.9,436.5 1058.8,436.4 1061.7,436.3 1064.6,436.2 1067.5,436.1 1070.4,436.0 1073.3,435.9 1076.2,435.8 1079.1,435.7 1082.0,435.6 1084.9,435.4 1087.8,435.3 1090.7,435.2 1093.6,435.1 1096.4,435.0 1099.3,434.9 1102.2,434.8 1105.1,434.7 1108.0,434.6 1110.9,434.5 1113.8,434.4 1116.7,434.3 1118.7,464.1 1115.8,464.0 1112.9,463.9 1110.0,463.8 1107.1,463.7 1104.2,463.6 1101.3,463.5 1098.4,463.4 1095.5,463.3 1092.6,463.1 1089.7,463.0 1086.8,462.9 1083.9,462.8 1081.0,462.7 1078.1,462.6 1075.2,462.5 1072.3,462.4 1069.4,462.3 1066.5,462.2 1063.6,462.1 1060.7,462.0 1057.8,461.9 1054.9,461.8 1052.0,461.7 1049.1,461.7 1046.3,461.6 1043.4,461.5 1040.5,461.5 1037.6,461.4 1034.7,461.3 1031.8,461.3 1028.9,461.2 1026.0,461.1 1023.1,461.1 1020.2,461.0 1017.3,460.9 1014.4,460.9 1011.5,460.8 1008.6,460.8 1005.7,460.8 1002.8,460.7 999.9,460.7 997.0,460.7 994.1,460.7 991.2,460.7 988.3,460.7 985.4,460.6 982.5,460.6 979.6,460.6 976.7,460.6 973.9,460.6 971.0,460.6 968.1,460.5 965.2,460.5 962.3,460.5 959.4,460.5 956.5,460.5 953.6,460.5 950.7,460.4 947.8,460.4 944.9,460.4 942.0,460.4 939.1,460.4 936.2,460.4 933.3,460.3 930.4,460.3 927.5,460.3 924.6,460.3 921.7,460.3 918.8,460.3 915.9,460.2Z" fill="#000" clip-path="url(#cf)"/>
<path d="M914.5,442.0 916.8,439.3 917.1,436.2 917.3,442.0 917.3,455.2 919.6,458.8 920.0,462.2 920.2,455.2 920.2,442.0 922.5,438.7 922.8,435.5 923.0,442.0 923.0,455.2 925.3,457.8 925.6,460.9 925.9,455.2 925.9,442.0 928.2,439.6 928.5,436.6 928.7,442.0 928.7,455.2 931.0,458.1 931.3,461.2 931.6,455.2 931.6,442.0 933.8,440.0 934.2,437.1 934.4,442.0 934.4,455.2 936.7,459.4 937.0,463.0 937.3,455.2 937.3,442.0 939.5,438.7 939.9,435.4 940.1,442.0 940.1,455.2 942.4,459.0 942.7,462.5 943.0,455.2 943.0,442.0 945.2,440.0 945.6,437.1 945.8,442.0 945.8,455.2 948.1,459.3 948.4,462.8 948.7,455.2 948.7,442.0 950.9,438.7 951.3,435.3 951.5,442.0 951.5,455.2 953.8,458.4 954.1,461.7 954.4,455.2 954.4,442.0 956.6,438.6 957.0,435.3 957.2,442.0 957.2,455.2 959.5,458.4 959.8,461.7 960.0,455.2 960.0,442.0 962.3,439.5 962.7,436.5 962.9,442.0 962.9,455.2 965.2,457.7 965.5,460.7 965.7,455.2 965.7,442.0 968.0,439.4 968.4,436.4 968.6,442.0 968.6,455.2 970.9,457.5 971.2,460.5 971.4,455.2 971.4,442.0 973.7,439.2 974.1,436.1 974.3,442.0 974.3,455.2 976.6,459.1 976.9,462.6 977.1,455.2 977.1,442.0 979.4,438.4 979.8,435.0 980.0,442.0 980.0,455.2 982.3,459.4 982.6,463.1 982.8,455.2 982.8,442.0 985.1,438.2 985.4,434.7 985.7,442.0 985.7,455.2 988.0,458.3 988.3,461.6 988.5,455.2 988.5,442.0 990.8,438.3 991.1,434.9 991.4,442.0 991.4,455.2 993.6,458.9 994.0,462.3 994.2,455.2 994.2,442.0 996.5,437.7 996.8,434.0 997.1,442.0 997.1,455.2 999.3,459.3 999.7,462.8 999.9,455.2 999.9,442.0 1002.2,438.5 1002.5,435.1 1002.8,442.0 1002.8,455.2 1005.0,459.7 1005.4,463.4 1005.6,455.2 1005.6,442.0 1007.9,436.9 1008.2,433.1 1008.5,442.0 1008.5,455.2 1010.7,458.9 1011.1,462.3 1011.3,455.2 1011.3,442.0 1013.6,436.9 1013.9,433.0 1014.2,442.0 1014.2,455.2 1016.4,458.6 1016.8,461.9 1017.0,455.2 1017.0,442.0 1019.3,437.6 1019.6,433.9 1019.8,442.0 1019.8,455.2 1022.1,459.6 1022.5,463.2 1022.7,455.2 1022.7,442.0 1025.0,436.0 1025.3,431.8 1025.5,442.0 1025.5,455.2 1027.8,461.9 1028.2,466.3 1028.4,455.2 1028.4,442.0 1030.7,435.4 1031.0,431.0 1031.2,442.0 1031.2,455.2 1033.5,460.7 1033.9,464.7 1034.1,455.2 1034.1,442.0 1036.4,434.5 1036.7,429.8 1036.9,442.0 1036.9,455.2 1039.2,461.2 1039.6,465.3 1039.8,455.2 1039.8,442.0 1042.1,435.5 1042.4,431.2 1042.6,442.0 1042.6,455.2 1044.9,463.3 1045.3,468.3 1045.5,455.2 1045.5,442.0 1047.8,433.8 1048.1,428.9 1048.3,442.0 1048.3,455.2 1050.6,463.5 1050.9,468.5 1051.2,455.2 1051.2,442.0 1053.5,433.0 1053.8,427.8 1054.0,442.0 1054.0,455.2 1056.3,471.9 1056.6,479.6 1056.9,455.2 1056.9,442.0 1059.1,432.8 1059.5,427.5 1059.7,442.0 1059.7,455.2 1062.0,465.7 1062.3,471.3 1062.6,455.2 1062.6,442.0 1064.8,431.6 1065.2,425.9 1065.4,442.0 1065.4,455.2 1067.7,466.6 1068.0,472.5 1068.3,455.2 1068.3,442.0 1070.5,431.9 1070.9,426.3 1071.1,442.0 1071.1,455.2 1073.4,466.9 1073.7,473.0 1074.0,455.2 1074.0,442.0 1076.2,431.0 1076.6,425.1 1076.8,442.0 1076.8,455.2 1079.1,467.6 1079.4,474.0 1079.7,455.2 1079.7,442.0 1081.9,431.7 1082.3,426.0 1082.5,442.0 1082.5,455.2 1084.8,471.6 1085.1,479.2 1085.3,455.2 1085.3,442.0 1087.6,431.5 1088.0,425.8 1088.2,442.0 1088.2,455.2 1090.5,474.7 1090.8,483.4 1091.0,455.2 1091.0,442.0 1093.3,430.7 1093.7,424.7 1093.9,442.0 1093.9,455.2 1096.2,470.4 1096.5,477.7 1096.7,455.2 1096.7,442.0 1099.0,426.8 1099.4,419.5 1099.6,442.0 1099.6,455.2 1101.9,475.6 1102.2,484.7 1102.4,455.2 1102.4,442.0 1104.7,425.1 1105.1,417.3 1105.3,442.0 1105.3,455.2 1107.6,471.7 1107.9,479.4 1108.1,455.2 1108.1,442.0 1110.4,430.5 1110.7,424.5 1111.0,442.0 1111.0,455.2 1113.3,471.9 1113.6,479.7 1113.8,455.2 1113.8,442.0 1116.1,425.6 1116.4,418.0 1116.7,442.0 1116.7,455.2 1118.9,478.1 1119.3,487.9 1119.5,455.2" fill="none" stroke="#000" stroke-width="2.2" stroke-linejoin="round" clip-path="url(#cf)"/>
<path d="M1115.8,437.5 1117.0,363.3 1117.3,564.9" fill="none" stroke="#000" stroke-width="2.8" stroke-linejoin="round" clip-path="url(#cf)"/>
<path d="M1119.1,448.6 1119.8,409.8 1120.4,461.9 1122.0,465.2 1123.0,492.9" fill="none" stroke="#000" stroke-width="2.4" stroke-linejoin="round" clip-path="url(#cf)"/>
<path d="M914.0,441.2 915.0,441.1 915.9,442.5 916.9,441.4 917.9,441.9 918.8,441.0 919.8,441.0 920.8,440.8 921.7,442.5 922.7,440.9 923.7,440.8 924.6,440.7 925.6,442.4 926.5,442.2 927.5,442.4 928.5,442.5 929.4,440.9 930.4,441.0 931.4,441.4 932.3,441.0 933.3,441.4 934.3,442.0 935.2,442.4 936.2,442.4 937.2,441.1 938.1,442.2 939.1,442.0 940.1,441.8 941.0,442.6 942.0,442.1 943.0,442.1 943.9,441.2 944.9,441.9 945.9,442.0 946.8,440.7 947.8,441.6 948.8,440.9 949.7,441.4 950.7,442.6 951.6,441.8 952.6,441.7 953.6,441.1 954.5,441.9 955.5,441.2 956.5,441.5 957.4,442.2 958.4,440.9 959.4,442.4 960.3,441.0 961.3,442.3 962.3,442.6 963.2,442.2 964.2,441.1 965.2,440.7 966.1,442.6 967.1,441.6 968.1,441.6 969.0,441.0 970.0,442.2 971.0,441.6 971.9,441.9 972.9,441.0 973.9,442.1 974.8,440.7 975.8,442.1 976.7,442.2 977.7,441.2 978.7,441.6 979.6,442.4 980.6,441.3 981.6,442.5 982.5,441.0 983.5,441.2 984.5,441.0 985.4,441.4 986.4,441.9 987.4,441.8 988.3,441.8 989.3,440.8 990.3,442.4 991.2,440.8 992.2,442.6 993.2,442.2 994.1,442.1 995.1,440.8 996.1,441.6 997.0,441.9 998.0,440.9 998.9,442.2 999.9,441.7 1000.9,441.6 1001.8,441.1 1002.8,441.1 1003.8,441.3 1004.7,441.9 1005.7,442.0 1006.7,442.3 1007.6,440.9 1008.6,441.3 1009.6,441.1 1010.5,442.3 1011.5,441.7 1012.5,441.1 1013.4,441.5 1014.4,442.4 1015.4,441.7 1016.3,440.9 1017.3,442.1 1018.3,442.2 1019.2,442.0 1020.2,441.2 1021.2,440.9 1022.1,442.3 1023.1,442.3 1024.0,442.1 1025.0,442.0 1026.0,441.6 1026.9,442.3 1027.9,442.0 1028.9,442.2 1029.8,440.7 1030.8,441.2 1031.8,442.4 1032.7,440.7 1033.7,442.4 1034.7,441.9 1035.6,440.7 1036.6,441.0 1037.6,441.2 1038.5,441.7 1039.5,442.2 1040.5,441.3 1041.4,442.4 1042.4,442.2 1043.4,441.8 1044.3,442.5 1045.3,441.8 1046.3,441.0 1047.2,441.2 1048.2,441.6 1049.1,441.4 1050.1,441.7 1051.1,442.3 1052.0,441.4 1053.0,441.8 1054.0,441.1 1054.9,440.8 1055.9,441.8 1056.9,441.5 1057.8,441.1 1058.8,441.8 1059.8,442.2 1060.7,441.2 1061.7,440.9 1062.7,441.1 1063.6,441.2 1064.6,440.9 1065.6,441.3 1066.5,441.3 1067.5,441.7 1068.5,442.0 1069.4,441.4 1070.4,442.4 1071.3,441.8 1072.3,441.1 1073.3,441.2 1074.2,441.4 1075.2,442.1 1076.2,441.8 1077.1,441.7 1078.1,441.4 1079.1,441.8 1080.0,441.3 1081.0,440.8 1082.0,442.3 1082.9,441.3 1083.9,441.1 1084.9,441.8 1085.8,441.6 1086.8,440.7 1087.8,442.5 1088.7,441.5 1089.7,442.3 1090.7,441.1 1091.6,440.7 1092.6,441.6 1093.6,442.4 1094.5,441.5 1095.5,441.5 1096.4,441.2 1097.4,441.6 1098.4,441.3 1099.3,441.0 1100.3,441.6 1101.3,441.8 1102.2,440.7 1103.2,442.2 1104.2,441.3 1105.1,441.8 1106.1,441.1 1107.1,442.4 1108.0,440.7 1109.0,441.9 1110.0,442.5 1110.9,442.1 1111.9,441.8 1112.9,442.6 1113.8,441.8 1114.8,441.8 1115.8,441.2 1116.7,441.9 1117.7,442.1 1118.7,442.2 1119.6,441.1 1120.6,440.7 1121.5,441.6 1122.5,442.2 1123.5,441.0 1124.4,441.8 1125.4,442.2 1126.4,442.4 1127.3,441.1 1128.3,441.0 1129.3,441.4 1130.2,441.7 1131.2,441.5 1132.2,442.2 1133.1,440.7 1134.1,441.9 1135.1,441.3 1136.0,441.0 1137.0,441.0 1138.0,441.7 1138.9,442.0 1139.9,441.5 1140.9,442.4 1141.8,441.0 1142.8,441.9 1143.7,440.9 1144.7,442.1 1145.7,441.9 1146.6,442.1 1147.6,441.8 1148.6,442.2 1149.5,442.6 1150.5,441.2 1151.5,442.1 1152.4,442.1 1153.4,442.0 1154.4,441.7 1155.3,441.8 1156.3,441.3 1157.3,441.3 1158.2,441.9 1159.2,440.8 1160.2,440.9 1161.1,442.5 1162.1,441.0 1163.1,440.8 1164.0,441.1 1165.0,442.3 1166.0,441.0 1166.9,441.4 1167.9,442.6 1168.8,442.6 1169.8,440.7 1170.8,441.3 1171.7,442.1 1172.7,442.4 1173.7,442.3 1174.6,442.2 1175.6,441.1 1176.6,441.9 1177.5,442.3 1178.5,440.8 1179.5,441.0 1180.4,442.3 1181.4,440.8 1182.4,441.4 1183.3,441.1 1184.3,441.3 1185.3,440.8 1186.2,441.0 1187.2,440.9 1188.2,442.2 1189.1,441.2 1190.1,441.6 1191.1,441.1 1192.0,441.7 1193.0,440.9 1193.9,441.5 1194.9,442.1 1195.9,442.1 1196.8,442.3 1197.8,441.6 1198.8,442.5 1199.7,441.7 1200.7,442.3 1201.7,441.6 1202.6,441.6 1203.6,441.5 1204.6,440.9 1205.5,442.6 1206.5,440.9 1207.5,441.7 1208.4,441.5 1209.4,441.3 1210.4,440.9 1211.3,441.9 1212.3,441.8 1213.3,440.7 1214.2,442.5 1215.2,441.3 1216.1,441.3 1217.1,442.6 1218.1,441.4 1219.0,441.3 1220.0,440.8 1221.0,442.0 1221.9,440.7 1222.9,441.6 1223.9,441.7 1224.8,440.8 1225.8,442.5 1226.8,441.2 1227.7,441.4 1228.7,441.9 1229.7,440.9 1230.6,441.9 1231.6,441.7 1232.6,441.6 1233.5,441.1 1234.5,442.2 1235.5,441.7 1236.4,441.8 1237.4,441.5 1238.4,441.0 1239.3,442.0 1240.3,441.0 1241.2,441.8 1242.2,441.6 1242.2,455.4 1241.2,454.9 1240.3,454.0 1239.3,454.6 1238.4,454.3 1237.4,455.3 1236.4,455.3 1235.5,455.3 1234.5,454.7 1233.5,454.6 1232.6,454.3 1231.6,455.8 1230.6,454.5 1229.7,454.1 1228.7,454.8 1227.7,455.8 1226.8,455.3 1225.8,455.9 1224.8,455.5 1223.9,454.1 1222.9,454.7 1221.9,454.6 1221.0,454.3 1220.0,454.1 1219.0,454.7 1218.1,454.7 1217.1,454.7 1216.1,454.5 1215.2,454.7 1214.2,454.6 1213.3,455.5 1212.3,454.6 1211.3,455.0 1210.4,454.4 1209.4,455.7 1208.4,455.6 1207.5,455.8 1206.5,454.4 1205.5,454.1 1204.6,454.6 1203.6,455.2 1202.6,454.3 1201.7,454.3 1200.7,454.8 1199.7,455.4 1198.8,455.3 1197.8,455.1 1196.8,455.3 1195.9,455.1 1194.9,454.6 1193.9,454.1 1193.0,455.8 1192.0,454.8 1191.1,455.8 1190.1,455.7 1189.1,454.3 1188.2,454.8 1187.2,454.1 1186.2,455.0 1185.3,455.9 1184.3,455.1 1183.3,454.7 1182.4,454.0 1181.4,454.0 1180.4,455.0 1179.5,455.1 1178.5,455.7 1177.5,454.6 1176.6,455.5 1175.6,455.6 1174.6,455.9 1173.7,455.9 1172.7,454.5 1171.7,455.7 1170.8,454.0 1169.8,455.7 1168.8,454.2 1167.9,455.7 1166.9,455.9 1166.0,454.5 1165.0,455.4 1164.0,454.4 1163.1,455.5 1162.1,455.8 1161.1,454.4 1160.2,454.5 1159.2,454.2 1158.2,454.5 1157.3,455.7 1156.3,454.7 1155.3,454.5 1154.4,455.0 1153.4,454.1 1152.4,455.4 1151.5,454.0 1150.5,454.5 1149.5,455.9 1148.6,455.9 1147.6,454.6 1146.6,454.3 1145.7,455.8 1144.7,455.3 1143.7,454.5 1142.8,455.6 1141.8,454.2 1140.9,454.9 1139.9,455.8 1138.9,455.2 1138.0,454.8 1137.0,455.0 1136.0,454.6 1135.1,455.6 1134.1,454.3 1133.1,455.2 1132.2,454.6 1131.2,454.7 1130.2,455.1 1129.3,455.1 1128.3,454.3 1127.3,454.0 1126.4,454.3 1125.4,454.8 1124.4,455.3 1123.5,455.8 1122.5,454.0 1121.5,454.5 1120.6,454.3 1119.6,455.3 1118.7,454.7 1117.7,454.0 1116.7,454.3 1115.8,454.7 1114.8,455.3 1113.8,455.1 1112.9,454.1 1111.9,455.2 1110.9,454.5 1110.0,454.7 1109.0,454.1 1108.0,454.3 1107.1,455.3 1106.1,455.9 1105.1,455.4 1104.2,455.1 1103.2,454.7 1102.2,454.3 1101.3,454.1 1100.3,455.8 1099.3,454.3 1098.4,454.3 1097.4,454.2 1096.4,454.8 1095.5,455.4 1094.5,454.2 1093.6,454.3 1092.6,454.5 1091.6,454.1 1090.7,455.2 1089.7,455.7 1088.7,454.8 1087.8,454.3 1086.8,455.5 1085.8,454.4 1084.9,454.1 1083.9,455.4 1082.9,454.7 1082.0,454.6 1081.0,455.0 1080.0,455.5 1079.1,455.4 1078.1,454.4 1077.1,454.3 1076.2,455.0 1075.2,455.7 1074.2,454.3 1073.3,454.4 1072.3,455.4 1071.3,454.8 1070.4,454.1 1069.4,454.1 1068.5,454.9 1067.5,455.0 1066.5,454.7 1065.6,455.5 1064.6,455.5 1063.6,455.6 1062.7,454.5 1061.7,455.2 1060.7,454.8 1059.8,455.1 1058.8,454.9 1057.8,455.6 1056.9,455.8 1055.9,453.9 1054.9,455.2 1054.0,455.7 1053.0,454.7 1052.0,454.3 1051.1,455.6 1050.1,454.7 1049.1,455.2 1048.2,454.9 1047.2,455.9 1046.3,455.8 1045.3,453.9 1044.3,454.2 1043.4,454.9 1042.4,454.8 1041.4,455.4 1040.5,454.4 1039.5,455.1 1038.5,454.0 1037.6,454.4 1036.6,454.3 1035.6,454.0 1034.7,455.4 1033.7,455.8 1032.7,455.5 1031.8,455.6 1030.8,455.7 1029.8,455.8 1028.9,454.8 1027.9,454.2 1026.9,455.0 1026.0,454.0 1025.0,454.1 1024.0,455.8 1023.1,454.7 1022.1,455.1 1021.2,455.7 1020.2,454.0 1019.2,455.4 1018.3,454.8 1017.3,454.6 1016.3,454.0 1015.4,454.6 1014.4,455.1 1013.4,455.0 1012.5,455.6 1011.5,454.0 1010.5,453.9 1009.6,455.5 1008.6,455.8 1007.6,455.4 1006.7,455.2 1005.7,454.1 1004.7,454.1 1003.8,454.2 1002.8,455.8 1001.8,454.3 1000.9,454.5 999.9,454.6 998.9,453.9 998.0,455.8 997.0,455.6 996.1,454.4 995.1,454.0 994.1,454.6 993.2,455.3 992.2,454.7 991.2,454.4 990.3,455.7 989.3,455.3 988.3,455.4 987.4,455.7 986.4,455.0 985.4,455.6 984.5,455.4 983.5,455.6 982.5,454.6 981.6,455.9 980.6,454.5 979.6,455.5 978.7,455.8 977.7,454.1 976.7,455.5 975.8,454.1 974.8,454.2 973.9,454.1 972.9,455.6 971.9,455.0 971.0,455.7 970.0,454.1 969.0,454.2 968.1,454.7 967.1,455.0 966.1,455.2 965.2,454.3 964.2,455.0 963.2,454.7 962.3,455.6 961.3,455.5 960.3,455.8 959.4,454.5 958.4,454.8 957.4,455.6 956.5,454.2 955.5,455.4 954.5,455.1 953.6,455.6 952.6,455.4 951.6,454.2 950.7,455.2 949.7,455.6 948.8,454.9 947.8,455.3 946.8,454.1 945.9,455.7 944.9,454.0 943.9,455.8 943.0,454.1 942.0,454.6 941.0,455.5 940.1,455.0 939.1,455.3 938.1,455.4 937.2,455.5 936.2,455.2 935.2,453.9 934.3,453.9 933.3,454.1 932.3,455.7 931.4,455.3 930.4,454.1 929.4,455.8 928.5,454.5 927.5,455.3 926.5,454.0 925.6,455.9 924.6,454.3 923.7,455.2 922.7,455.6 921.7,455.9 920.8,454.3 919.8,454.9 918.8,455.5 917.9,455.0 916.9,454.1 915.9,455.5 915.0,454.8 914.0,455.6Z" fill="#a000d0" clip-path="url(#cf)"/>
<rect x="914" y="337.8" width="328.4" height="221.6" fill="none" stroke="#000" stroke-width="1.8"/>
<path d="M906 337.8H914M906 393.2H914M906 448.6H914M906 504H914M906 559.4H914M910 365.5H914M910 420.9H914M910 476.3H914M910 531.7H914" stroke="#000" stroke-width="1.6" fill="none"/>
<text x="903.6" y="343.2" font-size="18.5" text-anchor="end">1.0</text>
<text x="903.6" y="398.6" font-size="18.5" text-anchor="end">0.5</text>
<text x="903.6" y="454" font-size="18.5" text-anchor="end">0.0</text>
<text x="903.6" y="509.4" font-size="18.5" text-anchor="end">-0.5</text>
<text x="903.6" y="564.8" font-size="18.5" text-anchor="end">-1.0</text>
<path d="M914 559.4V567.4M1010.53 559.4V567.4M1107.07 559.4V567.4M1203.6 559.4V567.4M962.27 559.4V563.4M1058.8 559.4V563.4M1155.33 559.4V563.4" stroke="#000" stroke-width="1.6" fill="none"/>
<text x="914" y="585.9" font-size="18.5" text-anchor="middle">0</text>
<text x="1010.53" y="585.9" font-size="18.5" text-anchor="middle">100</text>
<text x="1107.07" y="585.9" font-size="18.5" text-anchor="middle">200</text>
<text x="1203.6" y="585.9" font-size="18.5" text-anchor="middle">300</text>
<path d="M919.2 356.4H963.3" stroke="#000" stroke-width="2.4"/>
<path d="M919.2 379.8H963.3" stroke="#a000d0" stroke-width="2.4"/>
<text x="968.1" y="362" font-size="19.5" text-anchor="start">CuNW</text>
<text x="968.1" y="385.5" font-size="19.5" text-anchor="start">CuNW@ZnHQ</text>
<text x="1025.6" y="542.7" font-size="19.5" text-anchor="start">5 mA cm<tspan font-size="12.5" dy="-7.8">-2</tspan><tspan dy="7.8"> 15 mAh cm</tspan><tspan font-size="12.5" dy="-7.8">-2</tspan></text>
<text x="1092.8" y="608" font-size="19.5" text-anchor="middle">Time (h)</text>
<text transform="translate(866 453.5) rotate(-90)" font-size="19.5" text-anchor="middle">Voltage (V)</text>
<clipPath id="cg"><rect x="78.4" y="633.3" width="739.7" height="221.4"/></clipPath>
<path d="M78.4,647.0 78.7,677.8 79.0,693.0 79.4,700.6 79.7,707.7 80.0,714.7 80.3,714.1 80.6,714.3 80.9,714.7 81.3,714.9 81.6,714.5 81.9,714.5 82.2,714.4 82.5,714.8 82.8,715.4 83.2,715.7 83.5,714.9 83.8,715.5 84.1,715.2 84.4,716.1 84.7,715.2 85.1,716.0 85.4,715.4 85.7,715.5 86.0,715.9 86.3,716.4 86.6,715.1 87.0,715.5 87.3,714.9 87.6,715.5 87.9,715.5 88.2,714.5 88.5,715.0 88.9,715.1 89.2,714.7 89.5,714.3 89.8,714.9 90.1,714.1 90.4,714.1 90.8,713.9 91.1,714.3 91.4,713.3 91.7,713.1 92.0,712.9 92.3,713.4 92.7,712.8 93.0,713.1 93.3,712.5 93.6,713.3 93.9,712.0 94.3,711.8 94.6,712.3 94.9,712.1 95.2,712.0 95.5,711.8 95.8,712.4 96.2,711.0 96.5,711.8 96.8,711.7 97.1,711.7 97.4,711.4 97.7,710.2 98.1,710.6 98.4,709.9 98.7,708.5 99.0,708.6 99.3,708.2 99.6,706.8 100.0,706.3 100.3,705.7 100.6,704.9 100.9,705.1 101.2,703.4 101.5,702.9 101.9,703.1 102.2,702.3 102.5,701.1 102.8,700.8 103.1,701.1 103.4,701.3 103.8,701.0 104.1,701.3 104.4,700.7 104.7,700.3 105.0,701.3 105.3,700.7 105.7,700.5 106.0,701.3 106.3,700.4 106.6,700.2 106.9,701.0 107.2,700.9 107.6,700.4 107.9,700.8 108.2,701.0 108.5,700.2 108.8,700.5 109.2,701.0 109.5,701.2 109.8,701.0 110.1,700.9 110.4,700.2 110.7,700.4 111.1,700.3 111.4,700.4 111.7,700.4 112.0,701.4 112.3,700.8 112.6,700.2 113.0,700.9 113.3,702.4 113.6,702.8 113.9,703.1 114.2,704.1 114.5,704.5 114.9,705.8 115.2,705.9 115.5,706.4 115.8,707.7 116.1,707.5 116.4,705.2 116.8,704.2 117.1,702.7 117.4,701.9 117.7,700.4 118.0,699.1 118.3,697.8 118.7,697.7 119.0,695.6 119.3,694.8 119.6,692.9 119.9,692.2 120.2,690.5 120.6,688.7 120.9,687.8 121.2,687.5 121.5,686.5 121.8,686.0 122.1,684.6 122.5,684.9 122.8,684.2 123.1,683.2 123.4,683.2 123.7,682.0 124.1,680.9 124.4,680.8 124.7,680.5 125.0,679.6 125.3,678.9 125.6,678.8 126.0,678.2 126.3,677.6 126.6,676.8 126.9,676.0 127.2,675.5 127.5,675.0 127.9,674.6 128.2,673.3 128.5,672.3 128.8,672.0 129.1,671.5 129.4,670.7 129.8,671.2 130.1,670.4 130.4,670.6 130.7,670.3 131.0,670.1 131.3,670.1 131.7,670.2 132.0,670.2 132.3,670.2 132.5,819.3 132.2,819.0 131.9,818.2 131.6,817.9 131.2,816.1 130.9,814.1 130.6,813.5 130.3,811.8 130.0,810.5 129.7,809.4 129.3,807.3 129.0,807.4 128.7,806.0 128.4,806.0 128.1,805.3 127.7,803.4 127.4,803.2 127.1,802.9 126.8,801.6 126.5,800.8 126.2,799.6 125.8,799.5 125.5,798.3 125.2,796.3 124.9,795.6 124.6,795.4 124.3,794.1 123.9,793.1 123.6,791.6 123.3,790.7 123.0,789.3 122.7,788.3 122.4,787.7 122.0,786.4 121.7,785.4 121.4,784.3 121.1,783.7 120.8,782.7 120.5,782.4 120.1,781.8 119.8,782.5 119.5,781.2 119.2,782.0 118.9,780.6 118.6,780.5 118.2,780.3 117.9,779.3 117.6,779.5 117.3,779.4 117.0,778.5 116.7,778.1 116.3,778.1 116.0,778.0 115.7,777.6 115.4,777.2 115.1,776.5 114.8,776.7 114.4,776.2 114.1,775.6 113.8,775.5 113.5,775.2 113.2,774.4 112.8,774.2 112.5,774.5 112.2,774.5 111.9,774.7 111.6,774.4 111.3,774.5 110.9,773.8 110.6,773.7 110.3,774.2 110.0,773.0 109.7,773.7 109.4,772.9 109.0,772.8 108.7,772.5 108.4,773.4 108.1,773.0 107.8,772.2 107.5,773.3 107.1,773.2 106.8,772.4 106.5,772.3 106.2,771.6 105.9,771.7 105.6,771.9 105.2,771.2 104.9,771.7 104.6,771.6 104.3,771.3 104.0,771.5 103.7,771.5 103.3,771.0 103.0,771.3 102.7,770.3 102.4,770.6 102.1,770.7 101.8,771.1 101.4,770.6 101.1,770.5 100.8,770.2 100.5,770.0 100.2,769.5 99.9,769.3 99.5,769.8 99.2,769.7 98.9,769.3 98.6,768.7 98.3,769.4 97.9,769.0 97.6,768.4 97.3,769.1 97.0,768.8 96.7,767.8 96.4,767.8 96.0,768.1 95.7,768.4 95.4,767.2 95.1,767.4 94.8,767.0 94.5,766.6 94.1,766.6 93.8,767.1 93.5,767.3 93.2,767.0 92.9,766.5 92.6,766.4 92.2,766.6 91.9,766.5 91.6,765.7 91.3,765.6 91.0,765.8 90.7,764.8 90.3,765.1 90.0,765.7 89.7,765.1 89.4,764.4 89.1,764.9 88.8,764.2 88.4,765.0 88.1,764.4 87.8,763.6 87.5,763.8 87.2,763.5 86.9,764.0 86.5,763.4 86.2,763.2 85.9,763.4 85.6,763.0 85.3,763.4 85.0,763.1 84.6,763.9 84.3,764.4 84.0,765.0 83.7,765.3 83.4,764.7 83.0,765.9 82.7,766.1 82.4,766.3 82.1,766.1 81.8,766.0 81.5,766.5 81.1,766.5 80.8,767.8 80.5,768.1 80.2,767.4 79.9,768.2 79.6,768.0 79.2,773.6 78.9,781.5 78.6,789.0Z" fill="#000" clip-path="url(#cg)"/>
<path d="M78.4,684.8 78.9,687.0 79.4,690.9 79.9,694.7 80.4,697.9 80.9,701.4 81.4,705.3 81.9,707.4 82.4,711.3 82.9,713.0 83.4,715.0 83.9,716.0 84.4,717.8 84.9,719.3 85.4,719.2 85.9,720.5 86.4,722.6 86.9,722.9 87.4,724.3 87.9,726.3 88.4,725.9 88.9,725.4 89.4,726.1 89.9,725.4 90.4,726.5 90.9,726.3 91.4,725.8 91.9,726.5 92.4,726.4 92.9,725.5 93.4,726.1 93.9,725.7 94.4,726.5 94.9,726.6 95.4,726.4 95.9,726.6 96.4,725.4 96.9,726.5 97.4,726.1 97.9,726.8 98.4,726.1 98.9,726.4 99.4,726.3 99.9,726.9 100.4,726.8 100.9,725.7 101.4,726.4 101.9,726.6 102.4,726.7 102.9,726.6 103.4,726.6 103.9,726.9 104.4,726.0 104.9,726.5 105.4,726.8 105.9,725.9 106.4,726.9 106.9,726.6 107.4,725.7 107.9,726.8 108.4,726.4 108.9,725.8 109.4,725.8 109.9,726.8 110.4,726.5 110.9,725.9 111.4,726.5 111.9,725.6 112.4,726.8 112.9,725.6 113.4,726.3 113.9,726.7 114.4,726.4 114.9,726.9 115.4,726.0 115.9,726.7 116.4,725.7 116.9,726.2 117.4,726.6 117.9,726.8 118.4,726.2 118.9,726.8 119.4,725.8 119.9,727.0 120.4,726.4 120.9,726.3 121.4,726.8 121.9,726.0 122.4,726.6 122.9,726.2 123.4,726.3 123.9,726.7 124.4,726.6 124.9,727.1 125.4,726.9 125.9,725.9 126.4,726.7 126.9,726.2 127.4,727.1 127.9,726.4 128.4,726.7 128.9,726.5 129.4,726.8 129.9,727.2 130.4,726.8 130.9,726.9 131.4,727.1 131.9,726.2 132.4,726.8 132.9,726.2 133.4,724.8 133.9,725.0 134.4,724.8 134.9,724.8 135.4,726.0 135.9,725.7 136.4,726.1 136.9,725.1 137.4,725.1 137.9,725.6 138.4,725.5 138.9,725.2 139.4,725.1 139.9,725.8 140.4,724.9 140.9,725.6 141.4,725.2 141.9,725.9 142.4,726.0 142.9,724.8 143.4,725.0 143.9,725.1 144.4,726.1 144.9,726.1 145.4,725.9 145.9,725.9 146.4,725.7 146.9,725.6 147.4,726.1 147.9,725.7 148.4,725.2 148.9,725.9 149.4,724.9 149.9,725.3 150.4,725.1 150.9,725.8 151.4,725.5 151.9,725.1 152.4,725.6 152.9,726.2 153.4,724.9 153.9,725.0 154.4,725.7 154.9,726.1 155.4,724.9 155.9,725.2 156.4,726.1 156.9,725.8 157.4,726.0 157.9,725.0 158.4,725.9 158.9,724.8 159.4,725.0 159.9,726.0 160.4,725.1 160.9,725.6 161.4,725.0 161.9,724.9 162.4,725.7 162.9,726.0 163.4,724.7 163.9,725.5 164.4,724.7 164.9,725.1 165.4,725.0 165.9,724.9 166.4,725.2 166.9,725.5 167.4,726.1 167.9,725.1 168.4,725.5 168.9,725.4 169.4,724.7 169.9,726.0 170.4,725.0 170.9,726.1 171.4,725.1 171.9,724.9 172.4,725.8 172.9,725.3 173.4,724.7 173.9,725.2 174.4,725.3 174.9,725.8 175.4,726.1 175.9,725.6 176.4,725.5 176.9,725.9 177.4,725.7 177.9,726.0 178.4,725.1 178.9,725.1 179.4,725.8 179.9,725.8 180.4,725.4 180.9,725.5 181.4,724.7 181.9,725.6 182.4,725.7 182.9,724.8 183.4,726.0 183.9,725.3 184.4,725.7 184.9,724.9 185.4,725.3 185.9,725.0 186.4,725.9 186.9,725.1 187.4,725.2 187.9,725.5 188.4,725.0 188.9,724.9 189.4,726.0 189.9,725.7 190.4,725.6 190.9,725.9 191.4,726.1 191.9,725.7 192.4,725.9 192.9,725.1 193.4,725.5 193.9,726.0 194.4,725.7 194.9,725.5 195.4,725.6 195.9,725.9 196.4,726.1 196.9,726.2 197.4,724.6 197.9,725.0 198.4,726.0 198.9,725.1 199.4,724.7 199.9,725.3 200.4,726.0 200.9,725.4 201.4,725.5 201.8,725.9 202.3,725.3 202.8,726.2 203.3,724.8 203.8,725.2 204.3,725.2 204.8,724.7 205.3,725.2 205.8,725.8 206.3,725.8 206.8,726.0 207.3,726.1 207.8,725.0 208.3,724.9 208.8,725.7 209.3,725.9 209.8,725.2 210.3,724.9 210.8,724.7 211.3,725.9 211.8,725.0 212.3,724.9 212.8,725.0 213.3,725.7 213.8,725.9 214.3,724.9 214.8,725.7 215.3,725.6 215.8,725.3 216.3,725.6 216.8,724.9 217.3,725.8 217.8,726.1 218.3,725.3 218.8,725.2 219.3,724.9 219.8,725.1 220.3,724.8 220.8,724.7 221.3,725.4 221.8,725.4 222.3,725.9 222.8,725.7 223.3,725.3 223.8,726.1 224.3,725.1 224.8,725.9 225.3,725.5 225.8,724.7 226.3,726.0 226.8,726.1 227.3,725.5 227.8,725.9 228.3,725.1 228.8,726.2 229.3,724.9 229.8,724.9 230.3,725.0 230.8,724.6 231.3,723.9 231.8,723.3 232.3,723.5 232.8,723.6 233.3,723.8 233.8,723.6 234.3,723.3 234.8,723.0 235.3,722.9 235.8,724.0 236.3,723.8 236.8,723.6 237.3,723.4 237.8,723.8 238.3,724.0 238.8,724.2 239.3,723.8 239.8,723.6 240.3,722.8 240.8,722.9 241.3,723.0 241.8,722.8 242.3,722.8 242.8,723.3 243.3,723.0 243.8,724.2 244.3,723.2 244.8,723.4 245.3,723.8 245.8,723.4 246.3,722.8 246.8,723.6 247.3,723.3 247.8,723.8 248.3,723.8 248.8,722.9 249.3,724.3 249.8,724.0 250.3,723.2 250.8,723.6 251.3,724.2 251.8,723.3 252.3,723.7 252.8,723.4 253.3,723.7 253.8,723.5 254.3,723.4 254.8,723.7 255.3,724.1 255.8,724.0 256.3,722.9 256.8,723.4 257.3,724.1 257.8,723.0 258.3,725.4 258.8,726.9 259.3,726.2 259.8,726.7 260.3,726.3 260.8,726.2 261.3,726.7 261.8,726.2 262.3,726.9 262.8,726.3 263.3,726.2 263.8,726.9 264.3,726.4 264.8,726.9 265.3,726.4 265.8,725.7 266.3,726.2 266.8,726.0 267.3,725.9 267.8,726.9 268.3,725.5 268.8,725.9 269.3,726.9 269.8,725.8 270.3,726.5 270.8,726.8 271.3,725.6 271.8,726.2 272.3,725.9 272.8,726.9 273.3,725.9 273.8,727.0 274.3,726.7 274.8,726.5 275.3,727.0 275.8,726.1 276.3,726.7 276.8,726.6 277.3,726.0 277.8,726.4 278.3,725.7 278.8,726.1 279.3,725.7 279.8,726.2 280.3,725.6 280.8,725.7 281.3,726.8 281.8,725.9 282.3,726.5 282.8,725.9 283.3,726.0 283.8,725.8 284.3,726.9 284.8,726.5 285.3,725.9 285.8,725.6 286.3,725.9 286.8,727.0 287.3,726.1 287.8,726.9 288.3,726.2 288.8,724.5 289.3,724.9 289.8,723.6 290.3,724.0 290.8,724.7 291.3,724.8 291.8,724.4 292.3,723.8 292.8,724.2 293.3,724.9 293.8,725.0 294.3,724.9 294.8,723.8 295.3,724.8 295.8,724.2 296.3,724.6 296.8,724.0 297.3,724.5 297.8,724.8 298.3,723.7 298.8,724.2 299.3,724.0 299.8,723.8 300.3,723.6 300.8,725.0 301.3,724.5 301.8,724.8 302.3,724.3 302.8,723.7 303.3,723.8 303.8,725.0 304.3,724.8 304.8,723.8 305.3,724.0 305.8,724.5 306.3,724.3 306.8,724.8 307.3,723.8 307.8,724.5 308.3,723.7 308.8,724.1 309.3,725.0 309.8,724.6 310.3,724.7 310.8,723.7 311.3,724.2 311.8,725.0 312.3,724.8 312.8,724.5 313.3,724.3 313.8,724.2 314.3,724.5 314.8,724.5 315.3,725.1 315.8,724.2 316.3,724.6 316.8,725.0 317.3,724.4 317.8,723.5 318.3,725.0 318.8,724.8 319.3,724.0 319.8,724.6 320.3,724.6 320.8,724.3 321.3,724.7 321.8,724.2 322.3,724.3 322.8,723.6 323.3,723.5 323.8,725.0 324.3,724.2 324.8,723.9 325.3,723.7 325.8,723.9 326.3,724.1 326.8,724.1 327.3,724.5 327.8,724.6 328.3,723.8 328.8,723.7 329.3,723.6 329.8,724.0 330.3,724.6 330.8,723.9 331.3,723.9 331.8,724.3 332.3,724.1 332.8,724.5 333.3,724.2 333.8,724.4 334.3,725.0 334.8,724.5 335.3,724.6 335.8,723.5 336.3,724.3 336.8,724.5 337.3,724.7 337.8,724.7 338.3,724.5 338.8,724.9 339.3,725.1 339.8,723.7 340.3,724.4 340.8,724.4 341.3,724.2 341.8,724.6 342.3,724.8 342.8,725.0 343.3,724.6 343.8,724.6 344.3,723.9 344.8,724.2 345.3,723.6 345.8,724.5 346.3,723.6 346.8,724.2 347.3,724.9 347.8,724.8 348.3,724.2 348.8,723.5 349.3,724.5 349.8,723.9 350.3,724.4 350.8,723.7 351.3,725.0 351.8,724.3 352.3,723.7 352.8,724.6 353.3,724.7 353.8,725.0 354.3,724.8 354.8,724.7 355.3,724.0 355.8,724.7 356.3,724.5 356.8,724.8 357.3,724.1 357.8,723.7 358.3,724.1 358.8,724.8 359.3,723.9 359.8,723.6 360.3,724.1 360.8,726.7 361.3,725.8 361.8,725.7 362.3,726.5 362.8,726.9 363.3,726.8 363.8,726.2 364.3,725.7 364.8,726.1 365.3,725.6 365.8,726.7 366.3,726.6 366.8,725.9 367.3,726.1 367.8,726.4 368.3,726.0 368.8,726.5 369.3,727.0 369.8,726.4 370.3,727.0 370.8,726.1 371.3,726.5 371.8,726.3 372.3,726.1 372.8,726.7 373.3,726.3 373.8,727.0 374.3,725.6 374.8,726.2 375.3,725.5 375.8,727.0 376.3,726.1 376.8,725.9 377.3,726.6 377.8,726.9 378.3,726.8 378.8,726.8 379.3,725.9 379.8,726.9 380.3,725.8 380.8,726.4 381.3,726.2 381.8,726.2 382.3,726.2 382.8,726.0 383.3,726.1 383.8,726.6 384.3,725.9 384.8,726.7 385.3,726.0 385.8,725.9 386.3,725.9 386.8,726.6 387.3,725.9 387.8,725.5 388.3,726.4 388.8,726.6 389.3,726.3 389.8,725.6 390.3,726.9 390.8,727.0 391.3,726.3 391.8,726.0 392.3,725.9 392.8,726.5 393.3,725.5 393.8,726.7 394.3,725.9 394.8,726.9 395.3,727.0 395.8,726.9 396.3,727.0 396.8,726.3 397.3,726.2 397.8,726.8 398.3,725.6 398.8,726.5 399.3,726.8 399.8,726.8 400.3,725.9 400.8,725.6 401.3,726.8 401.8,727.0 402.3,725.9 402.8,726.7 403.3,725.5 403.8,726.3 404.3,726.1 404.8,726.5 405.3,725.8 405.8,726.3 406.3,726.6 406.8,725.7 407.3,726.9 407.8,725.9 408.3,727.0 408.8,726.1 409.3,726.4 409.8,725.7 410.3,727.0 410.8,726.2 411.3,726.4 411.8,725.6 412.3,725.6 412.8,726.1 413.3,726.7 413.8,726.7 414.3,726.7 414.8,726.4 415.3,726.7 415.8,726.7 416.3,725.9 416.8,726.1 417.3,726.6 417.8,725.5 418.3,726.7 418.8,726.2 419.3,726.8 419.8,725.7 420.3,725.7 420.8,726.6 421.3,725.9 421.8,725.8 422.3,726.6 422.8,726.5 423.3,726.3 423.8,725.7 424.3,726.3 424.8,725.1 425.3,725.3 425.8,725.5 426.3,725.3 426.8,724.8 427.3,725.9 427.8,724.8 428.3,725.6 428.8,725.0 429.3,724.8 429.8,725.9 430.3,724.8 430.8,724.6 431.3,725.7 431.8,726.1 432.3,726.0 432.8,724.7 433.3,726.2 433.8,724.8 434.3,725.9 434.8,725.0 435.3,726.0 435.8,725.9 436.3,725.1 436.8,726.0 437.3,725.7 437.8,724.8 438.3,725.1 438.8,724.8 439.3,724.7 439.8,726.1 440.3,725.8 440.8,724.9 441.3,725.1 441.8,726.1 442.3,725.4 442.8,725.8 443.3,725.5 443.8,726.0 444.3,726.1 444.8,724.6 445.3,725.7 445.8,724.8 446.3,726.0 446.8,725.4 447.3,726.0 447.8,725.5 448.2,725.9 448.7,725.1 449.2,725.9 449.7,725.0 450.2,725.4 450.7,726.0 451.2,725.6 451.7,725.4 452.2,724.8 452.7,725.6 453.2,725.8 453.7,724.7 454.2,724.8 454.7,725.0 455.2,725.8 455.7,725.9 456.2,725.8 456.7,726.1 457.2,726.1 457.7,725.4 458.2,725.5 458.7,725.3 459.2,725.6 459.7,726.2 460.2,725.1 460.7,725.2 461.2,725.3 461.7,725.3 462.2,725.1 462.7,724.7 463.2,724.8 463.7,725.1 464.2,725.6 464.7,725.7 465.2,725.5 465.7,724.7 466.2,725.6 466.7,725.6 467.2,725.5 467.7,726.0 468.2,724.6 468.7,726.2 469.2,725.2 469.7,724.7 470.2,725.8 470.7,725.2 471.2,725.6 471.7,725.8 472.2,725.9 472.7,726.0 473.2,724.9 473.7,725.0 474.2,724.8 474.7,726.1 475.2,725.1 475.7,725.7 476.2,725.2 476.7,725.3 477.2,725.7 477.7,724.7 478.2,726.2 478.7,725.0 479.2,724.9 479.7,725.4 480.2,725.3 480.7,724.6 481.2,725.8 481.7,725.2 482.2,725.0 482.7,725.6 483.2,725.1 483.7,725.6 484.2,725.4 484.7,725.2 485.2,725.1 485.7,725.7 486.2,725.2 486.7,725.3 487.2,725.8 487.7,725.2 488.2,725.8 488.7,724.8 489.2,725.4 489.7,725.1 490.2,725.4 490.7,725.4 491.2,725.8 491.7,726.0 492.2,724.7 492.7,725.4 493.2,725.4 493.7,725.4 494.2,724.9 494.7,725.8 495.2,725.9 495.7,724.9 496.2,725.5 496.7,725.2 497.2,724.9 497.7,724.8 498.2,724.8 498.7,726.1 499.2,725.6 499.7,724.9 500.2,724.9 500.7,726.0 501.2,725.9 501.7,725.8 502.2,726.0 502.7,725.6 503.2,724.9 503.7,725.4 504.2,725.5 504.7,726.0 505.2,725.6 505.7,724.6 506.2,725.1 506.7,725.5 507.2,725.4 507.7,724.9 508.2,725.0 508.7,725.9 509.2,725.1 509.7,725.6 510.2,725.4 510.7,725.8 511.2,725.6 511.7,725.7 512.2,725.6 512.7,726.1 513.2,725.9 513.7,725.3 514.2,726.1 514.7,725.9 515.2,725.1 515.7,725.8 516.2,725.7 516.7,725.8 517.2,724.9 517.7,726.0 518.2,725.2 518.7,724.8 519.2,725.9 519.7,725.5 520.2,724.9 520.7,725.2 521.2,725.6 521.7,726.1 522.2,725.5 522.7,725.6 523.2,725.1 523.7,725.7 524.2,725.5 524.7,725.2 525.2,724.9 525.7,725.6 526.2,725.6 526.7,725.3 527.2,724.7 527.7,725.9 528.2,724.7 528.7,725.1 529.2,725.6 529.7,725.1 530.2,725.7 530.7,726.1 531.2,725.0 531.7,725.6 532.2,725.4 532.7,725.4 533.2,724.8 533.7,725.0 534.2,726.1 534.7,725.3 535.2,725.5 535.7,725.5 536.2,724.9 536.7,725.5 537.2,725.4 537.7,724.8 538.2,725.5 538.7,725.4 539.2,724.4 539.7,723.6 540.2,723.8 540.7,723.7 541.2,724.2 541.7,724.8 542.2,723.8 542.7,724.0 543.2,723.7 543.7,723.7 544.2,724.7 544.7,724.5 545.2,724.7 545.7,723.6 546.2,724.7 546.7,724.7 547.2,723.7 547.7,724.0 548.2,724.8 548.7,723.8 549.2,723.7 549.7,724.1 550.2,724.8 550.7,723.8 551.2,724.2 551.7,723.9 552.2,723.3 552.7,723.6 553.2,723.5 553.7,724.6 554.2,724.3 554.7,724.0 555.2,724.8 555.7,723.3 556.2,724.4 556.7,724.4 557.2,724.4 557.7,724.5 558.2,723.5 558.7,724.0 559.2,724.1 559.7,724.2 560.2,724.8 560.7,724.4 561.2,723.5 561.7,723.6 562.2,723.5 562.7,724.5 563.2,724.5 563.7,724.8 564.2,724.0 564.7,724.3 565.2,724.1 565.7,724.1 566.2,723.9 566.7,724.3 567.2,723.6 567.7,724.5 568.2,723.4 568.7,724.0 569.2,724.8 569.7,724.4 570.2,724.0 570.7,724.2 571.2,724.0 571.7,724.3 572.2,725.3 572.7,725.8 573.2,726.6 573.7,726.0 574.2,725.8 574.7,726.1 575.2,726.4 575.7,725.6 576.2,726.4 576.7,725.7 577.2,727.0 577.7,726.4 578.2,726.1 578.7,727.0 579.2,725.7 579.7,727.0 580.2,726.1 580.7,726.8 581.2,725.6 581.7,726.2 582.2,725.8 582.7,726.3 583.2,726.0 583.7,726.0 584.2,726.6 584.7,726.7 585.2,725.8 585.7,726.8 586.2,725.6 586.7,726.7 587.2,726.9 587.7,726.9 588.2,725.8 588.7,725.6 589.2,726.4 589.7,726.0 590.2,726.7 590.7,725.7 591.2,726.0 591.7,726.8 592.2,727.0 592.7,726.0 593.2,727.0 593.7,725.8 594.2,726.6 594.7,726.7 595.2,726.2 595.7,726.6 596.2,726.2 596.7,726.8 597.2,725.6 597.7,726.6 598.2,725.8 598.7,726.8 599.2,725.8 599.7,725.5 600.2,726.5 600.7,727.0 601.2,726.5 601.7,726.1 602.2,726.7 602.7,726.2 603.2,726.9 603.7,726.3 604.2,725.9 604.7,726.4 605.2,726.0 605.7,726.9 606.2,725.8 606.7,726.9 607.2,725.6 607.7,725.5 608.2,725.6 608.7,726.2 609.2,726.6 609.7,726.5 610.2,725.9 610.7,726.3 611.2,725.6 611.7,726.9 612.2,726.3 612.7,725.7 613.2,726.1 613.7,726.2 614.2,726.9 614.7,726.8 615.2,726.6 615.7,725.7 616.2,725.8 616.7,726.7 617.2,725.6 617.7,727.0 618.2,726.1 618.7,725.6 619.2,726.5 619.7,725.6 620.2,726.0 620.7,727.0 621.2,726.5 621.7,726.4 622.2,726.7 622.7,725.9 623.2,726.8 623.7,725.8 624.2,726.6 624.7,727.0 625.2,726.2 625.7,726.9 626.2,726.2 626.7,725.8 627.2,726.1 627.7,726.3 628.2,727.0 628.7,726.3 629.2,726.9 629.7,726.1 630.2,726.9 630.7,726.2 631.2,726.5 631.7,726.5 632.2,726.0 632.7,726.8 633.2,726.8 633.7,725.6 634.2,726.5 634.7,725.8 635.2,725.7 635.7,726.2 636.2,725.9 636.7,726.0 637.2,724.8 637.7,726.0 638.2,725.4 638.7,725.3 639.2,726.0 639.7,725.5 640.2,725.9 640.7,725.3 641.2,725.4 641.7,725.6 642.2,725.9 642.7,725.6 643.2,725.9 643.7,726.0 644.2,725.8 644.7,724.8 645.2,725.4 645.7,724.8 646.2,726.2 646.7,724.7 647.2,725.4 647.7,725.0 648.2,725.3 648.7,725.1 649.2,725.8 649.7,725.0 650.2,725.9 650.7,725.8 651.2,726.1 651.7,725.6 652.2,725.4 652.7,725.7 653.2,724.8 653.7,726.0 654.2,725.3 654.7,725.8 655.2,725.3 655.7,725.0 656.2,725.1 656.7,726.1 657.2,725.8 657.7,725.2 658.2,724.7 658.7,726.1 659.2,725.2 659.7,725.1 660.2,724.9 660.7,725.6 661.2,724.9 661.7,725.5 662.2,724.8 662.7,726.2 663.2,724.7 663.7,725.5 664.2,725.5 664.7,726.0 665.2,725.8 665.7,725.0 666.2,725.1 666.7,725.9 667.2,725.6 667.7,726.0 668.2,725.9 668.7,725.8 669.2,725.7 669.7,724.7 670.2,724.6 670.7,725.0 671.2,725.4 671.7,725.4 672.2,725.0 672.7,724.8 673.2,725.0 673.7,725.2 674.2,725.9 674.7,725.2 675.2,724.9 675.7,725.0 676.2,726.0 676.7,725.1 677.2,725.6 677.7,725.9 678.2,724.7 678.7,725.1 679.2,725.0 679.7,726.0 680.2,724.9 680.7,724.7 681.2,724.8 681.7,725.0 682.2,724.9 682.7,724.9 683.2,725.3 683.7,725.5 684.2,724.9 684.7,725.0 685.2,724.8 685.7,725.7 686.2,724.7 686.7,725.4 687.2,724.7 687.7,726.0 688.2,724.7 688.7,725.0 689.2,725.8 689.7,724.9 690.2,725.8 690.7,725.9 691.2,725.5 691.7,725.8 692.2,725.4 692.7,724.8 693.2,725.1 693.7,725.1 694.2,725.6 694.7,725.0 695.1,724.9 695.6,725.1 696.1,724.7 696.6,724.9 697.1,725.5 697.6,726.0 698.1,725.2 698.6,724.9 699.1,725.7 699.6,725.3 700.1,724.9 700.6,724.9 701.1,726.2 701.6,725.4 702.1,726.2 702.6,726.0 703.1,724.9 703.6,725.5 704.1,725.2 704.6,725.5 705.1,725.7 705.6,725.8 706.1,725.6 706.6,724.9 707.1,725.2 707.6,725.7 708.1,726.0 708.6,725.8 709.1,725.1 709.6,725.5 710.1,725.2 710.6,724.9 711.1,726.0 711.6,725.1 712.1,726.1 712.6,724.9 713.1,726.7 713.6,728.0 714.1,726.9 714.6,727.8 715.1,728.0 715.6,727.0 716.1,727.4 716.6,727.0 717.1,727.8 717.6,727.6 718.1,726.9 718.6,727.6 719.1,726.9 719.6,728.1 720.1,727.1 720.6,728.1 721.1,727.6 721.6,728.4 722.1,728.1 722.6,726.9 723.1,727.7 723.6,727.1 724.1,728.0 724.6,727.8 725.1,728.2 725.6,726.3 726.1,725.1 726.6,725.6 727.1,725.8 727.6,725.0 728.1,725.0 728.6,725.4 729.1,726.3 729.6,725.4 730.1,725.7 730.6,724.9 731.1,725.8 731.6,725.4 732.1,725.4 732.6,725.8 733.1,725.6 733.6,725.4 734.1,725.0 734.6,725.6 735.1,725.8 735.6,724.9 736.1,726.3 736.6,725.1 737.1,725.3 737.6,725.5 738.1,725.7 738.6,725.2 739.1,725.0 739.6,725.3 740.1,725.2 740.6,726.3 741.1,725.9 741.6,726.2 742.1,724.9 742.6,725.0 743.1,726.2 743.6,725.5 744.1,725.5 744.6,726.3 745.1,725.8 745.6,725.2 746.1,725.4 746.6,726.0 747.1,725.2 747.6,725.9 748.1,725.6 748.6,725.7 749.1,724.9 749.6,725.4 750.1,725.2 750.6,725.4 751.1,725.8 751.6,724.9 752.1,725.3 752.6,725.3 753.1,726.0 753.6,726.1 754.1,725.5 754.6,725.1 755.1,725.2 755.6,725.9 756.1,726.2 756.6,725.6 757.1,725.0 757.6,726.1 758.1,725.3 758.6,726.1 759.1,725.9 759.6,726.3 760.1,725.9 760.6,725.8 761.1,724.9 761.6,724.9 762.1,726.1 762.6,725.9 763.1,724.9 763.6,726.1 764.1,725.9 764.6,725.7 765.1,726.2 765.6,726.0 766.1,725.8 766.6,725.8 767.1,724.9 767.6,726.0 768.1,726.1 768.6,725.0 769.1,725.7 769.6,725.1 770.1,725.4 770.6,725.2 771.1,725.9 771.6,726.2 772.1,725.2 772.6,725.7 773.1,725.5 773.6,725.4 774.1,725.2 774.6,726.0 775.1,725.8 775.6,725.0 776.1,725.6 776.6,726.0 777.1,725.4 777.6,726.0 778.1,725.2 778.6,726.3 779.1,725.1 779.6,725.5 780.1,725.9 780.6,724.9 781.1,726.0 781.6,726.0 782.1,726.3 782.6,725.5 783.1,725.2 783.6,725.3 784.1,725.8 784.6,725.1 785.1,726.2 785.6,725.9 786.1,725.4 786.6,724.9 787.1,725.4 787.6,725.3 788.1,725.2 788.6,725.8 789.1,724.9 789.6,725.2 790.1,725.9 790.6,725.8 791.1,725.1 791.6,725.9 792.1,726.1 792.6,725.0 793.1,725.6 793.6,725.6 794.1,725.4 794.6,725.0 795.1,726.2 795.6,725.9 796.1,726.3 796.6,725.8 797.1,725.6 797.6,725.1 798.1,725.4 798.6,725.5 799.1,725.8 799.6,725.5 800.1,726.0 800.6,725.1 801.1,725.2 801.6,725.1 802.1,726.2 802.6,725.4 803.1,725.2 803.6,725.6 804.1,725.0 804.6,725.0 805.1,725.2 805.6,725.1 806.1,725.4 806.6,725.0 807.1,726.2 807.6,725.3 808.1,725.3 808.6,725.4 809.1,726.0 809.6,726.3 810.1,725.5 810.6,725.1 811.1,726.0 811.6,726.1 812.1,726.1 812.6,726.3 813.1,725.4 813.6,724.9 814.1,725.2 814.6,725.8 815.1,725.3 815.6,726.3 816.1,725.1 816.6,725.9 817.1,726.4 817.6,725.4 818.1,726.2 818.1,759.0 817.6,759.3 817.1,758.7 816.6,758.5 816.1,758.1 815.6,759.3 815.1,758.1 814.6,759.2 814.1,759.0 813.6,758.4 813.1,758.9 812.6,758.9 812.1,758.5 811.6,759.0 811.1,758.2 810.6,759.1 810.1,758.1 809.6,758.1 809.1,758.6 808.6,759.3 808.1,758.2 807.6,759.3 807.1,758.6 806.6,758.7 806.1,759.3 805.6,758.4 805.1,758.3 804.6,758.5 804.1,758.8 803.6,758.6 803.1,758.5 802.6,759.0 802.1,758.0 801.6,757.8 801.1,758.1 800.6,757.9 800.1,758.9 799.6,757.9 799.1,759.3 798.6,758.6 798.1,759.2 797.6,758.7 797.1,758.3 796.6,758.3 796.1,758.7 795.6,758.9 795.1,759.1 794.6,758.8 794.1,758.9 793.6,759.1 793.1,758.2 792.6,758.6 792.1,758.7 791.6,759.1 791.1,758.3 790.6,759.1 790.1,759.0 789.6,758.5 789.1,758.3 788.6,757.9 788.1,758.2 787.6,757.9 787.1,758.0 786.6,758.3 786.1,758.3 785.6,759.3 785.1,759.1 784.6,759.4 784.1,758.0 783.6,758.3 783.1,758.4 782.6,759.0 782.1,758.8 781.6,759.1 781.1,758.4 780.6,757.9 780.1,758.9 779.6,759.3 779.1,759.1 778.6,758.8 778.1,758.0 777.6,758.1 777.1,758.7 776.6,759.2 776.1,759.2 775.6,759.1 775.1,758.2 774.6,758.7 774.1,757.7 773.6,757.2 773.1,757.4 772.6,757.9 772.1,757.3 771.6,758.4 771.1,758.4 770.6,757.7 770.1,757.8 769.6,758.3 769.1,758.2 768.6,758.6 768.1,757.2 767.6,757.5 767.1,757.1 766.6,757.1 766.1,757.9 765.6,757.5 765.1,758.0 764.6,757.3 764.1,757.3 763.6,758.4 763.1,758.6 762.6,758.3 762.1,757.7 761.6,758.0 761.1,758.6 760.6,757.3 760.1,757.4 759.6,757.9 759.1,758.5 758.6,757.2 758.1,757.7 757.6,758.5 757.1,758.1 756.6,757.6 756.1,757.2 755.6,757.8 755.1,757.6 754.6,758.2 754.1,758.2 753.6,757.2 753.1,758.0 752.6,758.4 752.1,757.6 751.6,758.4 751.1,758.2 750.6,757.8 750.1,757.6 749.6,757.6 749.1,757.5 748.6,757.9 748.1,758.4 747.6,757.4 747.1,758.5 746.6,757.8 746.1,757.9 745.6,757.5 745.1,757.4 744.6,758.2 744.1,757.5 743.6,757.5 743.1,757.8 742.6,758.3 742.1,757.1 741.6,757.6 741.1,758.4 740.6,758.2 740.1,757.0 739.6,758.2 739.1,757.9 738.6,757.3 738.1,757.3 737.6,757.5 737.1,757.4 736.6,758.5 736.1,758.4 735.6,757.0 735.1,757.3 734.6,758.5 734.1,758.4 733.6,758.1 733.1,757.1 732.6,758.2 732.1,757.5 731.6,757.1 731.1,757.5 730.6,757.1 730.1,758.1 729.6,758.3 729.1,758.5 728.6,757.3 728.1,758.3 727.6,757.0 727.1,757.4 726.6,758.2 726.1,757.2 725.6,758.2 725.1,757.7 724.6,758.3 724.1,757.3 723.6,757.1 723.1,757.1 722.6,758.5 722.1,757.2 721.6,757.6 721.1,757.2 720.6,757.7 720.1,757.5 719.6,757.6 719.1,757.2 718.6,758.4 718.1,758.4 717.6,757.6 717.1,758.0 716.6,757.9 716.1,758.5 715.6,757.3 715.1,758.4 714.6,757.2 714.1,757.2 713.6,757.8 713.1,758.3 712.6,757.5 712.1,758.1 711.6,757.8 711.1,758.3 710.6,756.9 710.1,757.6 709.6,757.9 709.1,758.3 708.6,757.3 708.1,757.1 707.6,757.1 707.1,758.3 706.6,757.9 706.1,758.0 705.6,757.3 705.1,758.2 704.6,757.5 704.1,756.9 703.6,757.3 703.1,758.4 702.6,758.3 702.1,758.3 701.6,757.4 701.1,757.5 700.6,757.6 700.1,757.7 699.6,757.8 699.1,757.5 698.6,757.4 698.1,757.0 697.6,757.3 697.1,757.2 696.6,757.0 696.1,757.1 695.6,757.3 695.1,758.4 694.7,757.4 694.2,757.1 693.7,757.8 693.2,757.1 692.7,758.1 692.2,757.0 691.7,757.7 691.2,757.3 690.7,758.0 690.2,757.9 689.7,757.9 689.2,757.9 688.7,758.3 688.2,757.7 687.7,756.9 687.2,757.4 686.7,757.0 686.2,757.2 685.7,757.1 685.2,756.9 684.7,757.2 684.2,758.0 683.7,758.0 683.2,757.8 682.7,758.4 682.2,758.0 681.7,757.0 681.2,757.0 680.7,757.9 680.2,757.2 679.7,757.2 679.2,757.0 678.7,757.2 678.2,757.6 677.7,758.2 677.2,757.1 676.7,757.9 676.2,757.4 675.7,757.8 675.2,757.5 674.7,756.9 674.2,758.1 673.7,757.5 673.2,757.4 672.7,757.5 672.2,756.9 671.7,757.7 671.2,756.9 670.7,757.3 670.2,756.9 669.7,758.2 669.2,758.0 668.7,757.9 668.2,757.0 667.7,758.3 667.2,758.0 666.7,757.2 666.2,756.8 665.7,758.1 665.2,757.7 664.7,757.3 664.2,757.3 663.7,757.2 663.2,757.2 662.7,758.0 662.2,757.9 661.7,758.3 661.2,757.3 660.7,758.0 660.2,757.9 659.7,756.8 659.2,757.3 658.7,757.4 658.2,757.3 657.7,757.4 657.2,757.3 656.7,757.9 656.2,758.2 655.7,758.2 655.2,758.3 654.7,757.8 654.2,758.1 653.7,758.1 653.2,757.6 652.7,756.8 652.2,757.3 651.7,757.9 651.2,757.1 650.7,758.0 650.2,758.2 649.7,757.8 649.2,757.7 648.7,757.2 648.2,757.6 647.7,757.2 647.2,758.2 646.7,756.9 646.2,757.8 645.7,757.0 645.2,758.3 644.7,757.0 644.2,758.0 643.7,757.0 643.2,757.1 642.7,757.3 642.2,757.9 641.7,758.3 641.2,758.0 640.7,756.9 640.2,758.0 639.7,757.3 639.2,757.4 638.7,757.3 638.2,758.0 637.7,758.1 637.2,758.1 636.7,756.8 636.2,757.7 635.7,757.3 635.2,757.4 634.7,757.9 634.2,758.2 633.7,758.2 633.2,756.9 632.7,758.0 632.2,756.7 631.7,757.7 631.2,757.1 630.7,758.0 630.2,757.0 629.7,757.8 629.2,757.6 628.7,757.4 628.2,758.0 627.7,757.8 627.2,756.9 626.7,757.7 626.2,757.6 625.7,757.0 625.2,757.8 624.7,757.8 624.2,757.8 623.7,757.5 623.2,757.6 622.7,757.1 622.2,757.4 621.7,756.8 621.2,758.0 620.7,757.1 620.2,756.8 619.7,757.7 619.2,758.0 618.7,757.4 618.2,757.9 617.7,757.3 617.2,757.0 616.7,757.9 616.2,757.9 615.7,757.3 615.2,757.8 614.7,757.7 614.2,757.3 613.7,757.8 613.2,757.9 612.7,757.4 612.2,757.3 611.7,756.5 611.2,757.1 610.7,757.9 610.2,757.6 609.7,756.8 609.2,757.1 608.7,756.6 608.2,756.5 607.7,756.6 607.2,757.8 606.7,756.5 606.2,757.1 605.7,757.5 605.2,757.6 604.7,756.6 604.2,757.6 603.7,757.8 603.2,757.5 602.7,756.4 602.2,757.2 601.7,756.7 601.2,757.7 600.7,757.1 600.2,757.4 599.7,757.5 599.2,756.8 598.7,757.3 598.2,757.6 597.7,756.3 597.2,757.1 596.7,757.5 596.2,757.8 595.7,756.8 595.2,757.0 594.7,757.7 594.2,757.0 593.7,756.6 593.2,756.9 592.7,757.4 592.2,757.0 591.7,756.8 591.2,756.7 590.7,757.5 590.2,756.5 589.7,756.3 589.2,756.6 588.7,756.4 588.2,757.1 587.7,756.3 587.2,757.4 586.7,757.3 586.2,756.7 585.7,756.3 585.2,757.5 584.7,757.3 584.2,757.6 583.7,757.0 583.2,757.4 582.7,757.3 582.2,756.5 581.7,756.7 581.2,756.2 580.7,757.0 580.2,756.5 579.7,757.6 579.2,756.1 578.7,757.2 578.2,756.8 577.7,756.8 577.2,756.1 576.7,756.8 576.2,756.0 575.7,756.6 575.2,757.2 574.7,756.2 574.2,757.2 573.7,756.0 573.2,756.8 572.7,757.2 572.2,758.2 571.7,760.5 571.2,760.4 570.7,760.5 570.2,760.0 569.7,761.0 569.2,760.5 568.7,760.8 568.2,759.8 567.7,761.0 567.2,760.1 566.7,760.6 566.2,760.3 565.7,760.2 565.2,759.9 564.7,760.8 564.2,760.7 563.7,760.9 563.2,759.6 562.7,760.8 562.2,760.8 561.7,760.2 561.2,760.1 560.7,759.7 560.2,761.0 559.7,760.7 559.2,760.8 558.7,760.1 558.2,760.3 557.7,760.4 557.2,759.7 556.7,760.0 556.2,759.7 555.7,759.6 555.2,760.6 554.7,759.6 554.2,760.4 553.7,761.0 553.2,759.6 552.7,760.9 552.2,761.0 551.7,760.6 551.2,760.6 550.7,759.5 550.2,759.7 549.7,760.4 549.2,760.2 548.7,759.7 548.2,759.8 547.7,760.0 547.2,760.3 546.7,760.9 546.2,760.7 545.7,760.0 545.2,760.1 544.7,759.8 544.2,759.7 543.7,759.6 543.2,760.7 542.7,760.9 542.2,759.7 541.7,760.2 541.2,760.8 540.7,760.0 540.2,760.7 539.7,760.7 539.2,760.5 538.7,760.2 538.2,760.0 537.7,760.9 537.2,759.9 536.7,760.1 536.2,760.3 535.7,760.0 535.2,759.8 534.7,761.0 534.2,760.3 533.7,760.0 533.2,759.9 532.7,760.0 532.2,760.8 531.7,759.6 531.2,759.8 530.7,760.7 530.2,760.4 529.7,759.6 529.2,760.7 528.7,760.4 528.2,759.6 527.7,759.7 527.2,760.7 526.7,759.9 526.2,760.5 525.7,760.0 525.2,759.9 524.7,760.9 524.2,760.7 523.7,760.7 523.2,760.6 522.7,761.0 522.2,760.8 521.7,760.4 521.2,760.4 520.7,760.9 520.2,760.1 519.7,759.6 519.2,760.2 518.7,760.5 518.2,760.0 517.7,760.4 517.2,760.8 516.7,760.3 516.2,761.0 515.7,760.0 515.2,760.8 514.7,760.5 514.2,759.6 513.7,759.9 513.2,759.8 512.7,760.1 512.2,760.1 511.7,760.0 511.2,759.6 510.7,760.7 510.2,759.9 509.7,760.6 509.2,760.7 508.7,759.8 508.2,760.1 507.7,759.7 507.2,759.7 506.7,760.1 506.2,760.7 505.7,761.0 505.2,760.2 504.7,759.9 504.2,760.6 503.7,760.9 503.2,759.5 502.7,758.0 502.2,757.2 501.7,758.3 501.2,757.9 500.7,757.9 500.2,757.2 499.7,756.8 499.2,758.3 498.7,758.1 498.2,756.8 497.7,756.8 497.2,758.0 496.7,757.8 496.2,757.5 495.7,757.8 495.2,757.6 494.7,757.5 494.2,757.9 493.7,758.2 493.2,758.2 492.7,758.0 492.2,758.1 491.7,757.3 491.2,757.2 490.7,757.9 490.2,757.1 489.7,757.2 489.2,757.8 488.7,757.5 488.2,758.0 487.7,756.8 487.2,757.4 486.7,758.2 486.2,758.0 485.7,757.2 485.2,757.7 484.7,757.2 484.2,757.9 483.7,757.0 483.2,757.0 482.7,758.1 482.2,757.4 481.7,758.0 481.2,757.2 480.7,757.0 480.2,757.1 479.7,757.9 479.2,758.1 478.7,757.3 478.2,757.4 477.7,758.1 477.2,758.0 476.7,757.4 476.2,758.1 475.7,757.3 475.2,757.9 474.7,757.9 474.2,757.6 473.7,757.5 473.2,757.2 472.7,758.2 472.2,757.2 471.7,757.9 471.2,757.8 470.7,757.3 470.2,757.2 469.7,757.3 469.2,756.9 468.7,758.0 468.2,757.8 467.7,757.3 467.2,757.9 466.7,758.0 466.2,757.9 465.7,757.1 465.2,757.0 464.7,757.2 464.2,756.8 463.7,757.0 463.2,757.8 462.7,757.8 462.2,757.2 461.7,758.2 461.2,757.3 460.7,758.1 460.2,758.2 459.7,757.5 459.2,758.0 458.7,756.8 458.2,756.9 457.7,757.6 457.2,758.0 456.7,758.1 456.2,757.5 455.7,757.5 455.2,757.7 454.7,757.2 454.2,757.5 453.7,757.1 453.2,758.1 452.7,758.2 452.2,757.7 451.7,757.5 451.2,757.9 450.7,757.2 450.2,757.9 449.7,757.8 449.2,757.5 448.7,757.2 448.2,757.1 447.8,757.7 447.3,757.6 446.8,756.8 446.3,756.8 445.8,757.3 445.3,758.1 444.8,757.6 444.3,757.3 443.8,757.8 443.3,758.2 442.8,756.8 442.3,756.9 441.8,758.1 441.3,757.6 440.8,757.3 440.3,757.8 439.8,758.2 439.3,757.1 438.8,757.1 438.3,757.6 437.8,758.1 437.3,757.7 436.8,758.1 436.3,756.8 435.8,758.2 435.3,757.8 434.8,757.1 434.3,758.1 433.8,758.1 433.3,758.2 432.8,758.0 432.3,757.5 431.8,757.0 431.3,758.0 430.8,758.0 430.3,757.1 429.8,757.6 429.3,757.8 428.8,758.1 428.3,757.9 427.8,756.8 427.3,758.1 426.8,757.9 426.3,757.1 425.8,756.9 425.3,756.9 424.8,757.5 424.3,756.8 423.8,757.3 423.3,757.8 422.8,757.6 422.3,757.2 421.8,757.1 421.3,758.1 420.8,758.0 420.3,756.8 419.8,758.1 419.3,757.0 418.8,757.8 418.3,757.9 417.8,757.9 417.3,757.6 416.8,756.7 416.3,758.1 415.8,757.0 415.3,757.8 414.8,758.0 414.3,757.1 413.8,757.8 413.3,758.0 412.8,757.6 412.3,757.0 411.8,756.9 411.3,757.4 410.8,758.3 410.3,757.1 409.8,757.3 409.3,756.9 408.8,756.8 408.3,757.8 407.8,757.0 407.3,757.0 406.8,757.9 406.3,757.7 405.8,757.7 405.3,757.7 404.8,757.7 404.3,758.1 403.8,757.9 403.3,756.9 402.8,757.6 402.3,757.3 401.8,756.9 401.3,757.1 400.8,757.9 400.3,756.9 399.8,757.0 399.3,756.7 398.8,757.2 398.3,757.1 397.8,757.0 397.3,757.9 396.8,757.3 396.3,757.7 395.8,757.0 395.3,758.1 394.8,757.4 394.3,757.8 393.8,757.0 393.3,757.7 392.8,757.0 392.3,757.0 391.8,756.9 391.3,758.1 390.8,756.8 390.3,757.1 389.8,757.2 389.3,757.3 388.8,758.2 388.3,756.9 387.8,757.4 387.3,757.6 386.8,757.8 386.3,757.1 385.8,757.1 385.3,756.9 384.8,757.9 384.3,757.8 383.8,757.9 383.3,758.1 382.8,757.8 382.3,758.2 381.8,757.0 381.3,757.9 380.8,758.2 380.3,758.2 379.8,757.1 379.3,758.0 378.8,757.6 378.3,757.7 377.8,757.0 377.3,756.6 376.8,757.0 376.3,756.5 375.8,756.1 375.3,756.8 374.8,756.1 374.3,756.4 373.8,757.0 373.3,756.2 372.8,756.6 372.3,757.3 371.8,756.6 371.3,756.2 370.8,756.7 370.3,756.8 369.8,756.9 369.3,756.1 368.8,756.5 368.3,757.2 367.8,756.9 367.3,756.9 366.8,756.0 366.3,756.4 365.8,757.3 365.3,756.1 364.8,757.5 364.3,756.6 363.8,756.8 363.3,756.4 362.8,756.8 362.3,757.4 361.8,756.7 361.3,756.2 360.8,756.9 360.3,761.0 359.8,761.3 359.3,760.4 358.8,760.4 358.3,761.3 357.8,760.2 357.3,760.1 356.8,760.9 356.3,761.0 355.8,760.5 355.3,760.2 354.8,761.3 354.3,761.1 353.8,761.1 353.3,760.5 352.8,761.3 352.3,760.8 351.8,760.8 351.3,760.6 350.8,761.4 350.3,760.1 349.8,760.1 349.3,760.7 348.8,760.4 348.3,761.3 347.8,760.2 347.3,760.7 346.8,760.4 346.3,760.3 345.8,761.0 345.3,760.2 344.8,761.3 344.3,761.6 343.8,760.8 343.3,760.2 342.8,760.2 342.3,760.1 341.8,760.8 341.3,760.2 340.8,760.7 340.3,761.4 339.8,760.6 339.3,760.4 338.8,760.9 338.3,760.7 337.8,761.2 337.3,761.2 336.8,760.9 336.3,760.8 335.8,760.9 335.3,761.5 334.8,761.6 334.3,761.1 333.8,760.5 333.3,760.4 332.8,761.2 332.3,761.2 331.8,760.8 331.3,761.3 330.8,760.7 330.3,760.2 329.8,761.3 329.3,760.7 328.8,760.5 328.3,760.4 327.8,760.5 327.3,760.5 326.8,761.2 326.3,760.3 325.8,760.2 325.3,761.5 324.8,760.1 324.3,760.9 323.8,761.5 323.3,761.5 322.8,760.4 322.3,760.6 321.8,761.4 321.3,760.9 320.8,760.6 320.3,760.1 319.8,761.1 319.3,760.4 318.8,761.2 318.3,761.3 317.8,761.4 317.3,761.0 316.8,760.6 316.3,761.1 315.8,761.4 315.3,761.3 314.8,761.5 314.3,761.3 313.8,761.1 313.3,760.8 312.8,761.3 312.3,760.9 311.8,760.9 311.3,760.1 310.8,760.8 310.3,760.1 309.8,760.9 309.3,761.3 308.8,760.7 308.3,761.4 307.8,761.3 307.3,761.5 306.8,760.5 306.3,760.1 305.8,761.0 305.3,761.1 304.8,760.9 304.3,761.1 303.8,760.5 303.3,761.0 302.8,761.4 302.3,760.3 301.8,760.7 301.3,761.6 300.8,760.3 300.3,760.5 299.8,761.1 299.3,760.6 298.8,760.2 298.3,761.0 297.8,760.9 297.3,761.1 296.8,760.7 296.3,760.6 295.8,760.5 295.3,760.1 294.8,761.4 294.3,761.0 293.8,760.3 293.3,760.4 292.8,760.7 292.3,760.6 291.8,760.9 291.3,757.9 290.8,758.5 290.3,758.8 289.8,759.1 289.3,759.2 288.8,758.0 288.3,758.1 287.8,759.3 287.3,758.9 286.8,758.6 286.3,758.6 285.8,758.8 285.3,758.0 284.8,758.8 284.3,758.6 283.8,757.9 283.3,758.4 282.8,758.6 282.3,758.9 281.8,758.8 281.3,758.4 280.8,758.2 280.3,759.0 279.8,758.8 279.3,758.8 278.8,758.8 278.3,758.0 277.8,758.6 277.3,759.0 276.8,758.9 276.3,758.1 275.8,759.1 275.3,758.3 274.8,759.4 274.3,759.1 273.8,759.3 273.3,758.1 272.8,759.2 272.3,759.0 271.8,759.3 271.3,759.0 270.8,758.3 270.3,758.3 269.8,758.0 269.3,757.9 268.8,758.5 268.3,758.0 267.8,759.2 267.3,758.0 266.8,758.7 266.3,759.1 265.8,758.2 265.3,758.1 264.8,758.8 264.3,759.2 263.8,758.0 263.3,758.2 262.8,758.5 262.3,757.9 261.8,759.3 261.3,759.3 260.8,759.2 260.3,759.4 259.8,758.3 259.3,758.4 258.8,759.2 258.3,759.1 257.8,759.1 257.3,758.4 256.8,758.3 256.3,757.9 255.8,758.8 255.3,757.9 254.8,758.7 254.3,758.8 253.8,759.0 253.3,759.0 252.8,758.6 252.3,759.5 251.8,760.0 251.3,760.8 250.8,760.8 250.3,760.8 249.8,760.5 249.3,759.9 248.8,761.0 248.3,760.2 247.8,760.0 247.3,761.0 246.8,760.4 246.3,759.8 245.8,760.2 245.3,760.3 244.8,759.7 244.3,760.1 243.8,760.5 243.3,760.4 242.8,759.6 242.3,759.7 241.8,759.6 241.3,760.2 240.8,760.8 240.3,760.8 239.8,760.5 239.3,760.0 238.8,761.0 238.3,759.8 237.8,759.8 237.3,760.2 236.8,761.0 236.3,759.8 235.8,760.4 235.3,760.0 234.8,760.2 234.3,759.9 233.8,760.4 233.3,759.6 232.8,759.6 232.3,759.6 231.8,760.1 231.3,760.6 230.8,760.5 230.3,760.6 229.8,759.6 229.3,759.8 228.8,759.8 228.3,759.8 227.8,759.5 227.3,760.0 226.8,760.6 226.3,759.9 225.8,760.6 225.3,760.1 224.8,760.8 224.3,759.7 223.8,760.3 223.3,760.6 222.8,759.6 222.3,760.9 221.8,759.6 221.3,759.9 220.8,760.8 220.3,759.9 219.8,759.9 219.3,757.3 218.8,757.8 218.3,758.1 217.8,757.3 217.3,758.6 216.8,757.5 216.3,758.6 215.8,758.3 215.3,758.5 214.8,757.4 214.3,758.0 213.8,757.6 213.3,758.3 212.8,757.6 212.3,757.7 211.8,758.6 211.3,758.0 210.8,757.6 210.3,758.4 209.8,757.7 209.3,758.3 208.8,758.1 208.3,757.3 207.8,757.3 207.3,757.2 206.8,758.1 206.3,757.8 205.8,757.5 205.3,757.5 204.8,758.0 204.3,757.4 203.8,758.1 203.3,757.3 202.8,758.0 202.3,758.5 201.8,757.6 201.4,758.5 200.9,757.7 200.4,758.6 199.9,757.2 199.4,757.9 198.9,757.6 198.4,758.5 197.9,757.7 197.4,758.1 196.9,758.3 196.4,757.5 195.9,758.7 195.4,758.0 194.9,758.6 194.4,757.4 193.9,757.3 193.4,758.7 192.9,758.0 192.4,758.0 191.9,757.6 191.4,757.6 190.9,758.2 190.4,757.3 189.9,758.4 189.4,758.5 188.9,757.5 188.4,758.5 187.9,758.4 187.4,757.9 186.9,758.2 186.4,758.5 185.9,757.3 185.4,758.0 184.9,757.5 184.4,758.3 183.9,757.3 183.4,758.4 182.9,757.3 182.4,757.8 181.9,757.2 181.4,757.5 180.9,757.7 180.4,757.9 179.9,757.4 179.4,758.0 178.9,758.6 178.4,757.3 177.9,757.5 177.4,757.7 176.9,757.6 176.4,758.4 175.9,758.0 175.4,757.4 174.9,757.2 174.4,757.3 173.9,758.5 173.4,757.7 172.9,757.9 172.4,758.1 171.9,758.5 171.4,758.5 170.9,758.0 170.4,758.0 169.9,758.3 169.4,758.2 168.9,757.9 168.4,757.5 167.9,757.8 167.4,758.5 166.9,757.3 166.4,758.2 165.9,757.2 165.4,757.2 164.9,758.5 164.4,757.8 163.9,757.2 163.4,758.1 162.9,757.9 162.4,758.2 161.9,758.7 161.4,758.4 160.9,758.5 160.4,758.3 159.9,757.7 159.4,757.9 158.9,757.3 158.4,757.7 157.9,758.2 157.4,757.2 156.9,757.7 156.4,757.9 155.9,757.4 155.4,757.7 154.9,758.1 154.4,757.8 153.9,758.2 153.4,757.2 152.9,758.3 152.4,757.2 151.9,758.6 151.4,758.7 150.9,757.8 150.4,758.4 149.9,757.9 149.4,758.5 148.9,757.4 148.4,757.6 147.9,757.6 147.4,757.2 146.9,757.1 146.4,757.6 145.9,757.5 145.4,758.6 144.9,758.6 144.4,758.0 143.9,757.1 143.4,758.1 142.9,757.7 142.4,758.6 141.9,758.0 141.4,757.2 140.9,757.7 140.4,757.3 139.9,758.6 139.4,758.3 138.9,758.3 138.4,757.3 137.9,758.4 137.4,757.1 136.9,758.2 136.4,757.2 135.9,757.8 135.4,758.1 134.9,757.1 134.4,757.9 133.9,757.5 133.4,758.5 132.9,757.3 132.4,757.0 131.9,758.4 131.4,757.4 130.9,758.1 130.4,758.3 129.9,758.0 129.4,757.5 128.9,757.1 128.4,757.0 127.9,757.0 127.4,757.6 126.9,757.5 126.4,758.3 125.9,757.4 125.4,757.7 124.9,758.0 124.4,757.1 123.9,758.1 123.4,758.3 122.9,758.3 122.4,758.3 121.9,757.6 121.4,757.2 120.9,758.2 120.4,757.7 119.9,757.6 119.4,757.6 118.9,757.8 118.4,757.6 117.9,758.4 117.4,758.4 116.9,757.8 116.4,758.1 115.9,757.3 115.4,758.1 114.9,757.2 114.4,758.1 113.9,758.3 113.4,757.7 112.9,757.8 112.4,757.9 111.9,757.2 111.4,758.1 110.9,757.4 110.4,757.1 109.9,757.7 109.4,757.6 108.9,757.0 108.4,757.5 107.9,758.1 107.4,758.3 106.9,758.3 106.4,757.9 105.9,758.3 105.4,757.4 104.9,757.7 104.4,757.9 103.9,757.6 103.4,756.9 102.9,758.0 102.4,758.1 101.9,757.9 101.4,757.9 100.9,757.0 100.4,757.3 99.9,757.7 99.4,758.1 98.9,758.3 98.4,758.2 97.9,757.0 97.4,757.3 96.9,758.1 96.4,757.4 95.9,758.2 95.4,757.5 94.9,757.8 94.4,758.2 93.9,757.2 93.4,757.2 92.9,757.5 92.4,758.0 91.9,757.3 91.4,757.6 90.9,757.3 90.4,758.2 89.9,756.9 89.4,758.3 88.9,757.9 88.4,757.7 87.9,758.0 87.4,759.2 86.9,759.3 86.4,759.8 85.9,761.9 85.4,763.0 84.9,763.4 84.4,765.1 83.9,765.9 83.4,766.5 82.9,767.9 82.4,770.1 81.9,772.8 81.4,774.7 80.9,776.6 80.4,779.4 79.9,783.3 79.4,785.3 78.9,787.9 78.4,791.0Z" fill="#a000d0" clip-path="url(#cg)"/>
<rect x="78.4" y="633.3" width="739.7" height="221.4" fill="none" stroke="#000" stroke-width="1.8"/>
<path d="M70.4 633.3H78.4M70.4 688.65H78.4M70.4 744H78.4M70.4 799.35H78.4M70.4 854.7H78.4M74.4 660.98H78.4M74.4 716.33H78.4M74.4 771.67H78.4M74.4 827.02H78.4" stroke="#000" stroke-width="1.6" fill="none"/>
<text x="66.4" y="638.7" font-size="18.5" text-anchor="end">0.10</text>
<text x="66.4" y="694.05" font-size="18.5" text-anchor="end">0.05</text>
<text x="66.4" y="749.4" font-size="18.5" text-anchor="end">0.00</text>
<text x="66.4" y="804.75" font-size="18.5" text-anchor="end">-0.05</text>
<text x="66.4" y="860.1" font-size="18.5" text-anchor="end">-0.10</text>
<path d="M78.4 854.7V862.7M263.33 854.7V862.7M448.25 854.7V862.7M633.18 854.7V862.7M818.1 854.7V862.7M170.86 854.7V858.7M355.79 854.7V858.7M540.71 854.7V858.7M725.64 854.7V858.7" stroke="#000" stroke-width="1.6" fill="none"/>
<text x="78.4" y="883.9" font-size="18.5" text-anchor="middle">0</text>
<text x="263.33" y="883.9" font-size="18.5" text-anchor="middle">1750</text>
<text x="448.25" y="883.9" font-size="18.5" text-anchor="middle">3500</text>
<text x="633.18" y="883.9" font-size="18.5" text-anchor="middle">5250</text>
<text x="818.1" y="883.9" font-size="18.5" text-anchor="middle">7000</text>
<path d="M627.9 646.4H672.1" stroke="#000" stroke-width="2.2"/>
<path d="M627.9 670.5H672.1" stroke="#a000d0" stroke-width="2.2"/>
<text x="677.2" y="652.1" font-size="19.5" text-anchor="start">CuNW</text>
<text x="677.2" y="676.1" font-size="19.5" text-anchor="start">CuNW@ZnHQ</text>
<text x="337.1" y="664.3" font-size="19.5" text-anchor="start">1 mA cm<tspan font-size="12.5" dy="-7.8">-2</tspan><tspan dy="7.8"> 1 mAh cm</tspan><tspan font-size="12.5" dy="-7.8">-2</tspan></text>
<text x="451.5" y="900.4" font-size="19.5" text-anchor="middle">Time (h)</text>
<text transform="translate(29.6 749.3) rotate(-90)" font-size="19.5" text-anchor="middle">Voltage (V)</text>
<clipPath id="ch"><rect x="913.8" y="633.7" width="328.6" height="221"/></clipPath>
<path d="M914.9,715.0 915.4,814.2 916.5,809.2 916.5,809.0 917.7,809.4 918.8,809.2 920.0,810.2 921.1,809.5 922.2,810.0 923.4,810.8 924.5,811.6 925.7,811.4 926.8,812.2 927.9,811.7 929.1,812.0 930.2,812.6 931.4,812.3 932.5,814.1 933.7,813.4 934.8,813.6 935.9,815.1 937.1,815.1 938.2,815.9 939.4,815.5 940.5,815.6 941.6,816.6 942.8,816.5 943.9,817.4 943.9,717.6 945.1,718.2 946.3,717.0 947.5,717.7 948.7,718.2 949.9,717.8 951.1,716.5 952.3,715.7 953.5,715.3 954.7,715.0 955.9,712.5 957.1,711.1 958.3,710.5 959.5,708.8 960.7,707.4 961.9,707.7 963.1,707.2 964.3,706.5 965.5,705.4 966.7,705.1 967.9,706.0 969.1,705.0 970.3,705.1 971.5,704.8 972.7,705.2 972.7,808.5 973.8,809.2 974.9,808.9 976.0,809.8 977.1,810.6 978.3,810.4 979.4,810.8 980.5,811.3 981.6,811.5 982.7,811.7 983.9,811.9 985.0,812.8 986.1,813.0 987.2,813.0 988.3,813.4 989.4,813.9 990.6,813.9 991.7,815.0 992.8,814.8 993.9,815.6 995.0,815.2 996.2,815.7 997.3,815.9 998.4,816.7 999.5,817.6 999.5,717.3 1000.6,717.8 1001.7,717.9 1002.9,717.9 1004.0,717.6 1005.1,716.9 1006.2,716.3 1007.3,716.3 1008.5,715.2 1009.6,714.9 1010.7,713.1 1011.8,711.7 1012.9,710.2 1014.0,708.8 1015.2,707.2 1016.3,706.6 1017.4,707.0 1018.5,706.6 1019.6,705.6 1020.8,705.6 1021.9,705.5 1023.0,705.4 1024.1,705.2 1025.2,705.8 1026.3,706.0 1026.3,809.4 1027.5,810.1 1028.7,808.9 1029.9,809.8 1031.0,809.9 1032.2,809.7 1033.4,810.3 1034.6,811.5 1035.7,811.6 1036.9,812.3 1038.1,811.5 1039.3,812.0 1040.4,812.7 1041.6,813.2 1042.8,813.7 1044.0,813.8 1045.1,813.8 1046.3,813.9 1047.5,814.3 1048.7,814.7 1049.8,815.7 1051.0,816.1 1052.2,816.7 1053.4,816.0 1054.6,817.7 1054.6,718.5 1055.6,718.2 1056.7,717.1 1057.8,717.1 1058.9,717.7 1060.0,716.6 1061.1,716.2 1062.2,716.4 1063.3,716.0 1064.4,714.0 1065.5,713.2 1066.6,712.0 1067.7,709.3 1068.8,708.7 1069.9,707.8 1071.0,706.8 1072.1,706.9 1073.2,707.0 1074.3,706.2 1075.4,706.0 1076.5,706.5 1077.6,705.8 1078.6,705.1 1079.7,705.7 1080.8,705.0 1080.8,809.0 1082.0,809.9 1083.2,810.4 1084.4,809.6 1085.5,810.0 1086.7,810.8 1087.9,811.2 1089.1,810.5 1090.2,810.7 1091.4,812.1 1092.6,811.9 1093.8,812.2 1094.9,813.0 1096.1,813.7 1097.3,813.7 1098.5,813.5 1099.6,813.9 1100.8,814.5 1102.0,815.4 1103.2,815.7 1104.3,815.9 1105.5,816.1 1106.7,816.6 1107.9,816.1 1109.0,817.8 1109.0,717.2 1110.1,718.3 1111.3,717.2 1112.4,718.0 1113.5,717.3 1114.6,717.4 1115.7,717.5 1116.8,715.9 1117.9,715.1 1119.0,714.8 1120.1,712.6 1121.2,711.5 1122.3,709.1 1123.4,709.3 1124.5,707.8 1125.6,707.4 1126.8,706.3 1127.9,705.8 1129.0,705.5 1130.1,705.8 1131.2,705.9 1132.3,705.2 1133.4,706.1 1134.5,705.8 1135.6,704.9 1135.6,809.3 1136.8,808.6 1138.0,810.3 1139.2,809.9 1140.4,810.6 1141.7,811.2 1142.9,811.4 1144.1,811.7 1145.3,811.6 1146.5,811.8 1147.7,812.0 1148.9,812.7 1150.1,812.4 1151.3,813.0 1152.5,812.6 1153.7,814.3 1155.0,814.1 1156.2,814.5 1157.4,815.0 1158.6,814.7 1159.8,816.1 1161.0,815.4 1162.2,816.6 1163.4,817.0 1164.6,817.0 1164.6,717.9 1165.7,718.2 1166.8,718.4 1168.0,716.9 1169.1,717.6 1170.2,717.8 1171.3,716.6 1172.4,716.3 1173.5,715.8 1174.6,714.7 1175.7,712.5 1176.8,711.7 1177.9,710.0 1179.0,707.9 1180.1,707.8 1181.2,707.1 1182.3,707.0 1183.4,706.0 1184.6,705.8 1185.7,705.9 1186.8,705.9 1187.9,706.0 1189.0,705.1 1190.1,705.5 1191.2,704.8 1191.2,809.4 1192.4,809.0 1193.5,810.4 1194.7,810.3 1195.9,809.4 1197.1,810.2 1198.2,810.5 1199.4,811.0 1200.6,811.4 1201.8,812.1 1202.9,812.5 1204.1,812.1 1205.3,812.4 1206.5,813.4 1207.6,813.2 1208.8,814.3 1210.0,813.9 1211.2,815.0 1212.3,814.8 1213.5,815.5 1214.7,815.5 1215.9,816.6 1217.0,816.4 1218.2,816.6 1219.4,817.7 1219.4,718.3 1220.7,717.6 1222.0,717.7 1223.3,717.4 1224.6,717.0 1225.9,717.1 1227.2,717.3 1228.5,716.4 1229.8,715.0 1231.1,714.3 1232.4,712.6 1233.7,711.6 1235.0,710.0 1236.3,707.9 1237.6,707.1 1238.9,706.7 1240.2,707.1 1241.5,706.1 1242.8,706.7 1244.1,705.2 1245.4,705.0 1246.7,705.3 1248.0,705.9 1249.3,704.9 1250.6,705.8" fill="none" stroke="#000" stroke-width="2.6" stroke-linejoin="round" clip-path="url(#ch)"/>
<path d="M915.2,715.0 915.2,814.2" fill="none" stroke="#000" stroke-width="3.2" stroke-linejoin="round" clip-path="url(#ch)"/>
<path d="M911.1,750.5 915.2,750.5 916.0,776.9 943.9,776.9 943.9,750.5 972.7,750.5 972.7,776.9 999.5,776.9 999.5,750.5 1026.3,750.5 1026.3,776.9 1054.6,776.9 1054.6,750.5 1080.8,750.5 1080.8,776.9 1109.0,776.9 1109.0,750.5 1135.6,750.5 1135.6,776.9 1164.6,776.9 1164.6,750.5 1191.2,750.5 1191.2,776.9 1219.4,776.9 1219.4,750.5 1250.6,750.5 1250.6,776.9" fill="none" stroke="#a000d0" stroke-width="4.2" stroke-linejoin="round" clip-path="url(#ch)" stroke-linecap="butt"/>
<rect x="913.8" y="633.7" width="328.6" height="221" fill="none" stroke="#000" stroke-width="1.8"/>
<path d="M905.8 655.5H913.8M905.8 710.6H913.8M905.8 765.7H913.8M905.8 820.8H913.8M909.8 683.05H913.8M909.8 738.15H913.8M909.8 793.25H913.8M909.8 848.35H913.8" stroke="#000" stroke-width="1.6" fill="none"/>
<text x="906.2" y="660.9" font-size="18.5" text-anchor="end">0.10</text>
<text x="906.2" y="716" font-size="18.5" text-anchor="end">0.05</text>
<text x="906.2" y="771.1" font-size="18.5" text-anchor="end">0.00</text>
<text x="906.2" y="826.2" font-size="18.5" text-anchor="end">-0.05</text>
<path d="M913.8 854.7V862.7M1023.33 854.7V862.7M1132.87 854.7V862.7M1242.4 854.7V862.7M968.57 854.7V858.7M1078.1 854.7V858.7M1187.63 854.7V858.7" stroke="#000" stroke-width="1.6" fill="none"/>
<text x="913.8" y="883.5" font-size="18.5" text-anchor="middle">400</text>
<text x="1023.33" y="883.5" font-size="18.5" text-anchor="middle">404</text>
<text x="1132.87" y="883.5" font-size="18.5" text-anchor="middle">408</text>
<text x="1242.4" y="883.5" font-size="18.5" text-anchor="middle">412</text>
<path d="M1055.5 646.4H1099" stroke="#000" stroke-width="2.2"/>
<path d="M1055.5 670.1H1099" stroke="#a000d0" stroke-width="2.6"/>
<text x="1104.4" y="651.6" font-size="19.5" text-anchor="start">CuNW</text>
<text x="1104.4" y="675.8" font-size="19.5" text-anchor="start">CuNW@ZnHQ</text>
<text x="1092.8" y="900.5" font-size="19.5" text-anchor="middle">Time (h)</text>
<text transform="translate(868 734) rotate(-90)" font-size="19.5" text-anchor="middle">Voltage (V)</text>
</svg></body></html>
